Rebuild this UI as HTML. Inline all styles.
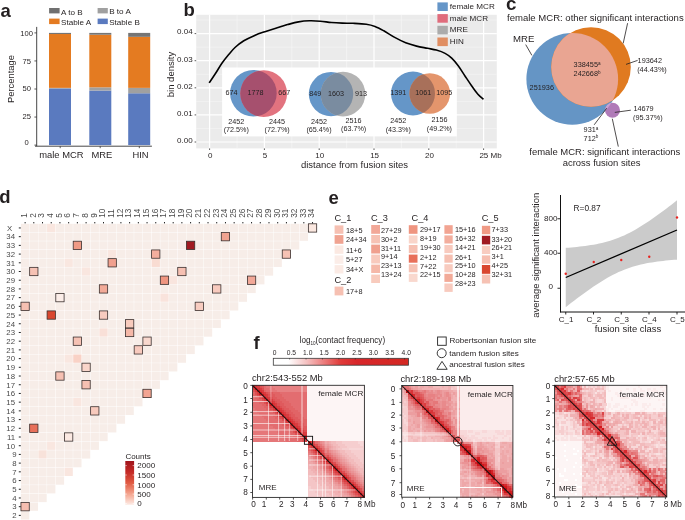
<!DOCTYPE html>
<html><head><meta charset="utf-8"><style>
html,body{margin:0;padding:0;background:#fff;}
svg{display:block;will-change:transform;}
text{font-family:"Liberation Sans", sans-serif;}
</style></head><body>
<svg width="685" height="520" viewBox="0 0 685 520">
<text x="0.50" y="17.00" font-size="18.5" text-anchor="start" font-weight="bold" fill="#231f20" >a</text>
<rect x="49.10" y="8.00" width="10.50" height="5.40" fill="#707070" />
<text x="61.00" y="14.90" font-size="8.1" text-anchor="start" fill="#231f20" >A to B</text>
<rect x="97.60" y="8.00" width="10.20" height="5.40" fill="#a0a0a0" />
<text x="109.20" y="14.10" font-size="8.1" text-anchor="start" fill="#231f20" >B to A</text>
<rect x="49.10" y="18.60" width="10.50" height="5.50" fill="#e47b21" />
<text x="61.00" y="24.60" font-size="8.1" text-anchor="start" fill="#231f20" >Stable A</text>
<rect x="97.60" y="18.60" width="10.20" height="5.50" fill="#5a7abf" />
<text x="109.20" y="24.60" font-size="8.1" text-anchor="start" fill="#231f20" >Stable B</text>
<rect x="49.00" y="88.44" width="22.00" height="56.66" fill="#5a7abf" />
<rect x="49.00" y="87.88" width="22.00" height="0.56" fill="#a0a0a0" />
<rect x="49.00" y="34.02" width="22.00" height="53.86" fill="#e47b21" />
<rect x="49.00" y="32.90" width="22.00" height="1.12" fill="#757575" />
<rect x="89.30" y="90.57" width="22.00" height="54.53" fill="#5a7abf" />
<rect x="89.30" y="87.32" width="22.00" height="3.25" fill="#a0a0a0" />
<rect x="89.30" y="34.70" width="22.00" height="52.62" fill="#e47b21" />
<rect x="89.30" y="32.90" width="22.00" height="1.80" fill="#757575" />
<rect x="128.20" y="93.26" width="22.00" height="51.84" fill="#5a7abf" />
<rect x="128.20" y="87.88" width="22.00" height="5.39" fill="#a0a0a0" />
<rect x="128.20" y="36.83" width="22.00" height="51.05" fill="#e47b21" />
<rect x="128.20" y="32.90" width="22.00" height="3.93" fill="#757575" />
<line x1="36.70" y1="26.90" x2="36.70" y2="146.20" stroke="#333" stroke-width="0.9" />
<line x1="35.00" y1="146.20" x2="151.90" y2="146.20" stroke="#333" stroke-width="0.9" />
<line x1="34.40" y1="32.90" x2="36.70" y2="32.90" stroke="#333" stroke-width="0.8" />
<text x="26.70" y="35.65" font-size="7.6" text-anchor="middle" fill="#231f20" >100</text>
<line x1="34.40" y1="60.95" x2="36.70" y2="60.95" stroke="#333" stroke-width="0.8" />
<text x="26.70" y="63.75" font-size="7.6" text-anchor="middle" fill="#231f20" >75</text>
<line x1="34.40" y1="89.00" x2="36.70" y2="89.00" stroke="#333" stroke-width="0.8" />
<text x="26.70" y="91.35" font-size="7.6" text-anchor="middle" fill="#231f20" >50</text>
<line x1="34.40" y1="117.05" x2="36.70" y2="117.05" stroke="#333" stroke-width="0.8" />
<text x="26.70" y="118.55" font-size="7.6" text-anchor="middle" fill="#231f20" >25</text>
<line x1="34.40" y1="145.10" x2="36.70" y2="145.10" stroke="#333" stroke-width="0.8" />
<text x="26.70" y="145.35" font-size="7.6" text-anchor="middle" fill="#231f20" >0</text>
<line x1="60.20" y1="146.20" x2="60.20" y2="148.20" stroke="#333" stroke-width="0.8" />
<line x1="100.20" y1="146.20" x2="100.20" y2="148.20" stroke="#333" stroke-width="0.8" />
<line x1="139.30" y1="146.20" x2="139.30" y2="148.20" stroke="#333" stroke-width="0.8" />
<text x="61.40" y="157.90" font-size="9.4" text-anchor="middle" fill="#231f20" >male MCR</text>
<text x="101.80" y="157.90" font-size="9.4" text-anchor="middle" fill="#231f20" >MRE</text>
<text x="140.50" y="157.90" font-size="9.4" text-anchor="middle" fill="#231f20" >HIN</text>
<text transform="translate(13.6,79) rotate(-90)" font-size="9.4" text-anchor="middle" fill="#231f20">Percentage</text>
<text x="183.60" y="16.00" font-size="18.5" text-anchor="start" font-weight="bold" fill="#231f20" >b</text>
<rect x="196.20" y="14.80" width="300.60" height="133.60" fill="#ebebeb" />
<line x1="237.00" y1="14.80" x2="237.00" y2="148.40" stroke="#f7f7f7" stroke-width="0.6" />
<line x1="291.80" y1="14.80" x2="291.80" y2="148.40" stroke="#f7f7f7" stroke-width="0.6" />
<line x1="346.60" y1="14.80" x2="346.60" y2="148.40" stroke="#f7f7f7" stroke-width="0.6" />
<line x1="401.40" y1="14.80" x2="401.40" y2="148.40" stroke="#f7f7f7" stroke-width="0.6" />
<line x1="456.20" y1="14.80" x2="456.20" y2="148.40" stroke="#f7f7f7" stroke-width="0.6" />
<line x1="196.20" y1="128.45" x2="496.80" y2="128.45" stroke="#f7f7f7" stroke-width="0.6" />
<line x1="196.20" y1="101.35" x2="496.80" y2="101.35" stroke="#f7f7f7" stroke-width="0.6" />
<line x1="196.20" y1="74.25" x2="496.80" y2="74.25" stroke="#f7f7f7" stroke-width="0.6" />
<line x1="196.20" y1="47.15" x2="496.80" y2="47.15" stroke="#f7f7f7" stroke-width="0.6" />
<line x1="196.20" y1="20.05" x2="496.80" y2="20.05" stroke="#f7f7f7" stroke-width="0.6" />
<line x1="209.60" y1="14.80" x2="209.60" y2="148.40" stroke="#ffffff" stroke-width="1.2" />
<line x1="264.40" y1="14.80" x2="264.40" y2="148.40" stroke="#ffffff" stroke-width="1.2" />
<line x1="319.20" y1="14.80" x2="319.20" y2="148.40" stroke="#ffffff" stroke-width="1.2" />
<line x1="374.00" y1="14.80" x2="374.00" y2="148.40" stroke="#ffffff" stroke-width="1.2" />
<line x1="428.80" y1="14.80" x2="428.80" y2="148.40" stroke="#ffffff" stroke-width="1.2" />
<line x1="483.60" y1="14.80" x2="483.60" y2="148.40" stroke="#ffffff" stroke-width="1.2" />
<line x1="196.20" y1="142.00" x2="496.80" y2="142.00" stroke="#ffffff" stroke-width="1.2" />
<line x1="196.20" y1="114.90" x2="496.80" y2="114.90" stroke="#ffffff" stroke-width="1.2" />
<line x1="196.20" y1="87.80" x2="496.80" y2="87.80" stroke="#ffffff" stroke-width="1.2" />
<line x1="196.20" y1="60.70" x2="496.80" y2="60.70" stroke="#ffffff" stroke-width="1.2" />
<line x1="196.20" y1="33.60" x2="496.80" y2="33.60" stroke="#ffffff" stroke-width="1.2" />
<rect x="222.10" y="67.50" width="234.70" height="68.90" fill="#ffffff" />
<path d="M209.20,82.90 C210.22,81.38 213.18,77.07 215.30,73.80 C217.42,70.53 219.70,66.47 221.90,63.30 C224.10,60.13 226.32,57.43 228.50,54.80 C230.68,52.17 232.45,49.83 235.00,47.50 C237.55,45.17 240.52,42.82 243.80,40.80 C247.08,38.78 251.05,36.97 254.70,35.40 C258.35,33.83 262.05,32.65 265.70,31.40 C269.35,30.15 272.95,29.03 276.60,27.90 C280.25,26.77 283.95,25.60 287.60,24.60 C291.25,23.60 294.85,22.53 298.50,21.90 C302.15,21.27 305.85,20.92 309.50,20.80 C313.15,20.68 316.75,20.92 320.40,21.20 C324.05,21.48 327.75,22.18 331.40,22.50 C335.05,22.82 338.68,22.97 342.30,23.10 C345.92,23.23 349.10,23.12 353.10,23.30 C357.10,23.48 362.65,23.68 366.30,24.20 C369.95,24.72 372.08,25.30 375.00,26.40 C377.92,27.50 380.52,28.97 383.80,30.80 C387.08,32.63 391.05,35.40 394.70,37.40 C398.35,39.40 402.05,41.35 405.70,42.80 C409.35,44.25 412.95,45.18 416.60,46.10 C420.25,47.02 424.32,47.63 427.60,48.30 C430.88,48.97 433.38,49.25 436.30,50.10 C439.22,50.95 442.53,52.05 445.10,53.40 C447.67,54.75 449.52,56.13 451.70,58.20 C453.88,60.27 456.02,62.88 458.20,65.80 C460.38,68.72 462.60,72.42 464.80,75.70 C467.00,78.98 469.22,82.40 471.40,85.50 C473.58,88.60 475.90,92.00 477.90,94.30 C479.90,96.60 482.48,98.47 483.40,99.30" fill="none" stroke="#000" stroke-width="1.6"/>
<line x1="194.60" y1="142.00" x2="196.20" y2="142.00" stroke="#333" stroke-width="0.8" />
<text x="192.60" y="142.80" font-size="8.0" text-anchor="end" fill="#231f20" >0.00</text>
<line x1="194.60" y1="114.90" x2="196.20" y2="114.90" stroke="#333" stroke-width="0.8" />
<text x="192.60" y="115.70" font-size="8.0" text-anchor="end" fill="#231f20" >0.01</text>
<line x1="194.60" y1="87.80" x2="196.20" y2="87.80" stroke="#333" stroke-width="0.8" />
<text x="192.60" y="88.60" font-size="8.0" text-anchor="end" fill="#231f20" >0.02</text>
<line x1="194.60" y1="60.70" x2="196.20" y2="60.70" stroke="#333" stroke-width="0.8" />
<text x="192.60" y="61.50" font-size="8.0" text-anchor="end" fill="#231f20" >0.03</text>
<line x1="194.60" y1="33.60" x2="196.20" y2="33.60" stroke="#333" stroke-width="0.8" />
<text x="192.60" y="34.40" font-size="8.0" text-anchor="end" fill="#231f20" >0.04</text>
<line x1="209.60" y1="148.40" x2="209.60" y2="150.00" stroke="#333" stroke-width="0.8" />
<text x="210.20" y="157.60" font-size="8.0" text-anchor="middle" fill="#231f20" >0</text>
<line x1="264.40" y1="148.40" x2="264.40" y2="150.00" stroke="#333" stroke-width="0.8" />
<text x="265.00" y="157.60" font-size="8.0" text-anchor="middle" fill="#231f20" >5</text>
<line x1="319.20" y1="148.40" x2="319.20" y2="150.00" stroke="#333" stroke-width="0.8" />
<text x="319.80" y="157.60" font-size="8.0" text-anchor="middle" fill="#231f20" >10</text>
<line x1="374.00" y1="148.40" x2="374.00" y2="150.00" stroke="#333" stroke-width="0.8" />
<text x="374.60" y="157.60" font-size="8.0" text-anchor="middle" fill="#231f20" >15</text>
<line x1="428.80" y1="148.40" x2="428.80" y2="150.00" stroke="#333" stroke-width="0.8" />
<text x="429.40" y="157.60" font-size="8.0" text-anchor="middle" fill="#231f20" >20</text>
<line x1="483.60" y1="148.40" x2="483.60" y2="150.00" stroke="#333" stroke-width="0.8" />
<text x="479.40" y="157.60" font-size="8.0" text-anchor="start" fill="#231f20" >25 Mb</text>
<text x="354.50" y="167.80" font-size="9.5" text-anchor="middle" fill="#231f20" >distance from fusion sites</text>
<text transform="translate(174.2,74.5) rotate(-90)" font-size="9.5" text-anchor="middle" fill="#231f20">bin density</text>
<rect x="437.40" y="2.40" width="10.40" height="8.60" fill="#6596c8" />
<text x="449.80" y="8.90" font-size="8.1" text-anchor="start" fill="#231f20" >female MCR</text>
<rect x="437.40" y="14.10" width="10.40" height="8.60" fill="#e06c7c" />
<text x="449.80" y="20.60" font-size="8.1" text-anchor="start" fill="#231f20" >male MCR</text>
<rect x="437.40" y="25.80" width="10.40" height="8.60" fill="#ababab" />
<text x="449.80" y="32.30" font-size="8.1" text-anchor="start" fill="#231f20" >MRE</text>
<rect x="437.40" y="37.50" width="10.40" height="8.60" fill="#e08e62" />
<text x="449.80" y="44.00" font-size="8.1" text-anchor="start" fill="#231f20" >HIN</text>
<defs><clipPath id="vb1"><circle cx="253.4" cy="93.2" r="23.3"/></clipPath></defs>
<circle cx="253.4" cy="93.2" r="23.3" fill="#6596c8"/>
<circle cx="263.7" cy="93.6" r="23.4" fill="#e2737f"/>
<circle cx="263.7" cy="93.6" r="23.4" fill="#a6506e" clip-path="url(#vb1)"/>
<text x="231.50" y="95.00" font-size="7.2" text-anchor="middle" fill="#231f20" >674</text>
<text x="255.50" y="95.00" font-size="7.2" text-anchor="middle" fill="#231f20" >1778</text>
<text x="284.20" y="95.00" font-size="7.2" text-anchor="middle" fill="#231f20" >667</text>
<text x="236.30" y="123.50" font-size="7.2" text-anchor="middle" fill="#231f20" >2452</text>
<text x="236.30" y="132.00" font-size="7.2" text-anchor="middle" fill="#231f20" >(72.5%)</text>
<text x="277.10" y="123.50" font-size="7.2" text-anchor="middle" fill="#231f20" >2445</text>
<text x="277.10" y="132.00" font-size="7.2" text-anchor="middle" fill="#231f20" >(72.7%)</text>
<defs><clipPath id="vb2"><circle cx="331" cy="94.1" r="22.2"/></clipPath></defs>
<circle cx="331" cy="94.1" r="22.2" fill="#6596c8"/>
<circle cx="343" cy="94.1" r="22.3" fill="#b4b4b4"/>
<circle cx="343" cy="94.1" r="22.3" fill="#7a8ca0" clip-path="url(#vb2)"/>
<text x="315.20" y="95.60" font-size="7.2" text-anchor="middle" fill="#231f20" >849</text>
<text x="336.00" y="95.60" font-size="7.2" text-anchor="middle" fill="#231f20" >1603</text>
<text x="360.90" y="95.60" font-size="7.2" text-anchor="middle" fill="#231f20" >913</text>
<text x="319.00" y="123.50" font-size="7.2" text-anchor="middle" fill="#231f20" >2452</text>
<text x="319.00" y="132.00" font-size="7.2" text-anchor="middle" fill="#231f20" >(65.4%)</text>
<text x="353.60" y="123.00" font-size="7.2" text-anchor="middle" fill="#231f20" >2516</text>
<text x="353.60" y="131.30" font-size="7.2" text-anchor="middle" fill="#231f20" >(63.7%)</text>
<defs><clipPath id="vb3"><circle cx="413" cy="93.5" r="22"/></clipPath></defs>
<circle cx="413" cy="93.5" r="22" fill="#6596c8"/>
<circle cx="429.8" cy="93.5" r="20.3" fill="#e4956c"/>
<circle cx="429.8" cy="93.5" r="20.3" fill="#a8705a" clip-path="url(#vb3)"/>
<text x="398.30" y="95.00" font-size="7.2" text-anchor="middle" fill="#231f20" >1391</text>
<text x="423.30" y="95.00" font-size="7.2" text-anchor="middle" fill="#231f20" >1061</text>
<text x="444.30" y="95.00" font-size="7.2" text-anchor="middle" fill="#231f20" >1095</text>
<text x="398.30" y="123.40" font-size="7.2" text-anchor="middle" fill="#231f20" >2452</text>
<text x="398.30" y="131.60" font-size="7.2" text-anchor="middle" fill="#231f20" >(43.3%)</text>
<text x="439.40" y="122.40" font-size="7.2" text-anchor="middle" fill="#231f20" >2156</text>
<text x="439.40" y="130.60" font-size="7.2" text-anchor="middle" fill="#231f20" >(49.2%)</text>
<text x="506.10" y="10.10" font-size="18.8" text-anchor="start" font-weight="bold" fill="#231f20" >c</text>
<text x="507.00" y="21.00" font-size="9.55" text-anchor="start" fill="#231f20" >female MCR: other significant interactions</text>
<defs><clipPath id="cb"><circle cx="572.25" cy="78.95" r="45.85"/></clipPath></defs>
<circle cx="572.25" cy="78.95" r="45.85" fill="#6595c5"/>
<circle cx="591" cy="67" r="39.8" fill="#e07a20"/>
<circle cx="591" cy="67" r="39.8" fill="#e9a592" clip-path="url(#cb)"/>
<circle cx="612.5" cy="110.25" r="7.5" fill="#b07ab8"/>
<circle cx="612.5" cy="110.25" r="7.5" fill="#c9a3d3" clip-path="url(#cb)"/>
<text x="513.00" y="42.40" font-size="9.6" text-anchor="start" fill="#231f20" >MRE</text>
<line x1="525.70" y1="44.60" x2="531.90" y2="55.40" stroke="#231f20" stroke-width="0.8" />
<line x1="627.60" y1="23.20" x2="623.20" y2="43.40" stroke="#231f20" stroke-width="0.8" />
<line x1="637.60" y1="60.40" x2="626.00" y2="64.40" stroke="#231f20" stroke-width="0.8" />
<line x1="630.80" y1="110.20" x2="614.80" y2="112.40" stroke="#231f20" stroke-width="0.8" />
<line x1="594.20" y1="124.80" x2="606.70" y2="108.20" stroke="#231f20" stroke-width="0.8" />
<line x1="612.30" y1="118.75" x2="618.30" y2="146.60" stroke="#231f20" stroke-width="0.8" />
<text x="637.60" y="63.30" font-size="7.3" text-anchor="start" fill="#231f20" >193642</text>
<text x="637.20" y="71.90" font-size="7.3" text-anchor="start" fill="#231f20" >(44.43%)</text>
<text x="573.60" y="67.40" font-size="7.3" text-anchor="start" fill="#231f20" >338455<tspan font-size="4.6" dy="-2.6">a</tspan></text>
<text x="573.60" y="76.20" font-size="7.3" text-anchor="start" fill="#231f20" >242668<tspan font-size="4.6" dy="-2.6">b</tspan></text>
<text x="529.60" y="89.50" font-size="7.3" text-anchor="start" fill="#231f20" >251936</text>
<text x="633.40" y="111.30" font-size="7.3" text-anchor="start" fill="#231f20" >14679</text>
<text x="633.00" y="120.20" font-size="7.3" text-anchor="start" fill="#231f20" >(95.37%)</text>
<text x="583.60" y="132.20" font-size="7.3" text-anchor="start" fill="#231f20" >931<tspan font-size="4.6" dy="-2.6">a</tspan></text>
<text x="583.60" y="140.90" font-size="7.3" text-anchor="start" fill="#231f20" >712<tspan font-size="4.6" dy="-2.6">b</tspan></text>
<text x="604.80" y="154.50" font-size="9.48" text-anchor="middle" fill="#231f20" >female MCR: significant interactions</text>
<text x="601.55" y="165.90" font-size="9.45" text-anchor="middle" fill="#231f20" >across fusion sites</text>
<text x="-0.70" y="202.50" font-size="18.5" text-anchor="start" font-weight="bold" fill="#231f20" >d</text>
<rect x="20.95" y="223.80" width="8.31" height="8.31" fill="#f7ede8" />
<rect x="29.66" y="223.80" width="8.31" height="8.31" fill="#f7ede8" />
<rect x="38.37" y="223.80" width="8.31" height="8.31" fill="#f7ede8" />
<rect x="47.08" y="223.80" width="8.31" height="8.31" fill="#f9e6df" />
<rect x="55.79" y="223.80" width="8.31" height="8.31" fill="#f7ede8" />
<rect x="64.50" y="223.80" width="8.31" height="8.31" fill="#f7ede8" />
<rect x="73.21" y="223.80" width="8.31" height="8.31" fill="#f7ede8" />
<rect x="81.92" y="223.80" width="8.31" height="8.31" fill="#f7ede8" />
<rect x="90.63" y="223.80" width="8.31" height="8.31" fill="#f7ede8" />
<rect x="99.34" y="223.80" width="8.31" height="8.31" fill="#f7ede8" />
<rect x="108.05" y="223.80" width="8.31" height="8.31" fill="#f7ede8" />
<rect x="116.76" y="223.80" width="8.31" height="8.31" fill="#f7ede8" />
<rect x="125.47" y="223.80" width="8.31" height="8.31" fill="#f7ede8" />
<rect x="134.18" y="223.80" width="8.31" height="8.31" fill="#f7ede8" />
<rect x="142.89" y="223.80" width="8.31" height="8.31" fill="#f7ede8" />
<rect x="151.60" y="223.80" width="8.31" height="8.31" fill="#f7ede8" />
<rect x="160.31" y="223.80" width="8.31" height="8.31" fill="#f7ede8" />
<rect x="169.02" y="223.80" width="8.31" height="8.31" fill="#f7ede8" />
<rect x="177.73" y="223.80" width="8.31" height="8.31" fill="#f7ede8" />
<rect x="186.44" y="223.80" width="8.31" height="8.31" fill="#f7ede8" />
<rect x="195.15" y="223.80" width="8.31" height="8.31" fill="#f7ede8" />
<rect x="203.86" y="223.80" width="8.31" height="8.31" fill="#f7ede8" />
<rect x="212.57" y="223.80" width="8.31" height="8.31" fill="#f7ede8" />
<rect x="221.28" y="223.80" width="8.31" height="8.31" fill="#f7ede8" />
<rect x="229.99" y="223.80" width="8.31" height="8.31" fill="#f7ede8" />
<rect x="238.70" y="223.80" width="8.31" height="8.31" fill="#f7ede8" />
<rect x="247.41" y="223.80" width="8.31" height="8.31" fill="#f7ede8" />
<rect x="256.12" y="223.80" width="8.31" height="8.31" fill="#f7ede8" />
<rect x="264.83" y="223.80" width="8.31" height="8.31" fill="#f7ede8" />
<rect x="273.54" y="223.80" width="8.31" height="8.31" fill="#f7ede8" />
<rect x="282.25" y="223.80" width="8.31" height="8.31" fill="#f7ede8" />
<rect x="290.96" y="223.80" width="8.31" height="8.31" fill="#f7ede8" />
<rect x="299.67" y="223.80" width="8.31" height="8.31" fill="#f7ede8" />
<rect x="20.95" y="232.51" width="8.31" height="8.31" fill="#f7ede8" />
<rect x="29.66" y="232.51" width="8.31" height="8.31" fill="#f7ede8" />
<rect x="38.37" y="232.51" width="8.31" height="8.31" fill="#f7ede8" />
<rect x="47.08" y="232.51" width="8.31" height="8.31" fill="#f7ede8" />
<rect x="55.79" y="232.51" width="8.31" height="8.31" fill="#f7ede8" />
<rect x="64.50" y="232.51" width="8.31" height="8.31" fill="#f7ede8" />
<rect x="73.21" y="232.51" width="8.31" height="8.31" fill="#f7ede8" />
<rect x="81.92" y="232.51" width="8.31" height="8.31" fill="#f7ede8" />
<rect x="90.63" y="232.51" width="8.31" height="8.31" fill="#f7ede8" />
<rect x="99.34" y="232.51" width="8.31" height="8.31" fill="#f7ede8" />
<rect x="108.05" y="232.51" width="8.31" height="8.31" fill="#f7ede8" />
<rect x="116.76" y="232.51" width="8.31" height="8.31" fill="#f7ede8" />
<rect x="125.47" y="232.51" width="8.31" height="8.31" fill="#f7ede8" />
<rect x="134.18" y="232.51" width="8.31" height="8.31" fill="#f7ede8" />
<rect x="142.89" y="232.51" width="8.31" height="8.31" fill="#f7ede8" />
<rect x="151.60" y="232.51" width="8.31" height="8.31" fill="#f7ede8" />
<rect x="160.31" y="232.51" width="8.31" height="8.31" fill="#f7ede8" />
<rect x="169.02" y="232.51" width="8.31" height="8.31" fill="#f7ede8" />
<rect x="177.73" y="232.51" width="8.31" height="8.31" fill="#f7ede8" />
<rect x="186.44" y="232.51" width="8.31" height="8.31" fill="#f7ede8" />
<rect x="195.15" y="232.51" width="8.31" height="8.31" fill="#f7ede8" />
<rect x="203.86" y="232.51" width="8.31" height="8.31" fill="#f7ede8" />
<rect x="212.57" y="232.51" width="8.31" height="8.31" fill="#f7ede8" />
<rect x="229.99" y="232.51" width="8.31" height="8.31" fill="#f7ede8" />
<rect x="238.70" y="232.51" width="8.31" height="8.31" fill="#f7ede8" />
<rect x="247.41" y="232.51" width="8.31" height="8.31" fill="#f7ede8" />
<rect x="256.12" y="232.51" width="8.31" height="8.31" fill="#f7ede8" />
<rect x="264.83" y="232.51" width="8.31" height="8.31" fill="#f7ede8" />
<rect x="273.54" y="232.51" width="8.31" height="8.31" fill="#f7ede8" />
<rect x="282.25" y="232.51" width="8.31" height="8.31" fill="#f7ede8" />
<rect x="290.96" y="232.51" width="8.31" height="8.31" fill="#f7ede8" />
<rect x="299.67" y="232.51" width="8.31" height="8.31" fill="#f7ede8" />
<rect x="20.95" y="241.22" width="8.31" height="8.31" fill="#f7ede8" />
<rect x="29.66" y="241.22" width="8.31" height="8.31" fill="#f7ede8" />
<rect x="38.37" y="241.22" width="8.31" height="8.31" fill="#f7ede8" />
<rect x="47.08" y="241.22" width="8.31" height="8.31" fill="#f7ede8" />
<rect x="55.79" y="241.22" width="8.31" height="8.31" fill="#f7ede8" />
<rect x="64.50" y="241.22" width="8.31" height="8.31" fill="#f7ede8" />
<rect x="81.92" y="241.22" width="8.31" height="8.31" fill="#f7ede8" />
<rect x="90.63" y="241.22" width="8.31" height="8.31" fill="#f7ede8" />
<rect x="99.34" y="241.22" width="8.31" height="8.31" fill="#f7ede8" />
<rect x="108.05" y="241.22" width="8.31" height="8.31" fill="#f7ede8" />
<rect x="116.76" y="241.22" width="8.31" height="8.31" fill="#f7ede8" />
<rect x="125.47" y="241.22" width="8.31" height="8.31" fill="#f7ede8" />
<rect x="134.18" y="241.22" width="8.31" height="8.31" fill="#f7ede8" />
<rect x="142.89" y="241.22" width="8.31" height="8.31" fill="#f7ede8" />
<rect x="151.60" y="241.22" width="8.31" height="8.31" fill="#f7ede8" />
<rect x="160.31" y="241.22" width="8.31" height="8.31" fill="#f7ede8" />
<rect x="169.02" y="241.22" width="8.31" height="8.31" fill="#f7ede8" />
<rect x="177.73" y="241.22" width="8.31" height="8.31" fill="#f7ede8" />
<rect x="195.15" y="241.22" width="8.31" height="8.31" fill="#f7ede8" />
<rect x="203.86" y="241.22" width="8.31" height="8.31" fill="#f7ede8" />
<rect x="212.57" y="241.22" width="8.31" height="8.31" fill="#f7ede8" />
<rect x="221.28" y="241.22" width="8.31" height="8.31" fill="#f7ede8" />
<rect x="229.99" y="241.22" width="8.31" height="8.31" fill="#f7ede8" />
<rect x="238.70" y="241.22" width="8.31" height="8.31" fill="#f7ede8" />
<rect x="247.41" y="241.22" width="8.31" height="8.31" fill="#f7ede8" />
<rect x="256.12" y="241.22" width="8.31" height="8.31" fill="#f7ede8" />
<rect x="264.83" y="241.22" width="8.31" height="8.31" fill="#f7ede8" />
<rect x="273.54" y="241.22" width="8.31" height="8.31" fill="#f7ede8" />
<rect x="282.25" y="241.22" width="8.31" height="8.31" fill="#f7ede8" />
<rect x="290.96" y="241.22" width="8.31" height="8.31" fill="#f7ede8" />
<rect x="20.95" y="249.93" width="8.31" height="8.31" fill="#f7ede8" />
<rect x="29.66" y="249.93" width="8.31" height="8.31" fill="#f7ede8" />
<rect x="38.37" y="249.93" width="8.31" height="8.31" fill="#f7ede8" />
<rect x="47.08" y="249.93" width="8.31" height="8.31" fill="#f7ede8" />
<rect x="55.79" y="249.93" width="8.31" height="8.31" fill="#f7ede8" />
<rect x="64.50" y="249.93" width="8.31" height="8.31" fill="#f7ede8" />
<rect x="73.21" y="249.93" width="8.31" height="8.31" fill="#f7ede8" />
<rect x="81.92" y="249.93" width="8.31" height="8.31" fill="#f7ede8" />
<rect x="90.63" y="249.93" width="8.31" height="8.31" fill="#f7ede8" />
<rect x="99.34" y="249.93" width="8.31" height="8.31" fill="#f7ede8" />
<rect x="108.05" y="249.93" width="8.31" height="8.31" fill="#f9e6df" />
<rect x="116.76" y="249.93" width="8.31" height="8.31" fill="#f7ede8" />
<rect x="125.47" y="249.93" width="8.31" height="8.31" fill="#f7ede8" />
<rect x="134.18" y="249.93" width="8.31" height="8.31" fill="#f7ede8" />
<rect x="142.89" y="249.93" width="8.31" height="8.31" fill="#f7ede8" />
<rect x="160.31" y="249.93" width="8.31" height="8.31" fill="#f7ede8" />
<rect x="169.02" y="249.93" width="8.31" height="8.31" fill="#f7ede8" />
<rect x="177.73" y="249.93" width="8.31" height="8.31" fill="#f7ede8" />
<rect x="186.44" y="249.93" width="8.31" height="8.31" fill="#f7ede8" />
<rect x="195.15" y="249.93" width="8.31" height="8.31" fill="#f7ede8" />
<rect x="203.86" y="249.93" width="8.31" height="8.31" fill="#f7ede8" />
<rect x="212.57" y="249.93" width="8.31" height="8.31" fill="#f7ede8" />
<rect x="221.28" y="249.93" width="8.31" height="8.31" fill="#f7ede8" />
<rect x="229.99" y="249.93" width="8.31" height="8.31" fill="#f7ede8" />
<rect x="238.70" y="249.93" width="8.31" height="8.31" fill="#f7ede8" />
<rect x="247.41" y="249.93" width="8.31" height="8.31" fill="#f7ede8" />
<rect x="256.12" y="249.93" width="8.31" height="8.31" fill="#f7ede8" />
<rect x="264.83" y="249.93" width="8.31" height="8.31" fill="#f7ede8" />
<rect x="273.54" y="249.93" width="8.31" height="8.31" fill="#f7ede8" />
<rect x="20.95" y="258.64" width="8.31" height="8.31" fill="#f7ede8" />
<rect x="29.66" y="258.64" width="8.31" height="8.31" fill="#f7ede8" />
<rect x="38.37" y="258.64" width="8.31" height="8.31" fill="#f7ede8" />
<rect x="47.08" y="258.64" width="8.31" height="8.31" fill="#f7ede8" />
<rect x="55.79" y="258.64" width="8.31" height="8.31" fill="#f7ede8" />
<rect x="64.50" y="258.64" width="8.31" height="8.31" fill="#f9e7e0" />
<rect x="73.21" y="258.64" width="8.31" height="8.31" fill="#f7ede8" />
<rect x="81.92" y="258.64" width="8.31" height="8.31" fill="#f7ede8" />
<rect x="90.63" y="258.64" width="8.31" height="8.31" fill="#f7ede8" />
<rect x="99.34" y="258.64" width="8.31" height="8.31" fill="#f7ede8" />
<rect x="116.76" y="258.64" width="8.31" height="8.31" fill="#f7ede8" />
<rect x="125.47" y="258.64" width="8.31" height="8.31" fill="#f7ede8" />
<rect x="134.18" y="258.64" width="8.31" height="8.31" fill="#f7ede8" />
<rect x="142.89" y="258.64" width="8.31" height="8.31" fill="#f7ede8" />
<rect x="151.60" y="258.64" width="8.31" height="8.31" fill="#f9dcd2" />
<rect x="160.31" y="258.64" width="8.31" height="8.31" fill="#f7ede8" />
<rect x="169.02" y="258.64" width="8.31" height="8.31" fill="#f7ede8" />
<rect x="177.73" y="258.64" width="8.31" height="8.31" fill="#f7ede8" />
<rect x="186.44" y="258.64" width="8.31" height="8.31" fill="#f7ede8" />
<rect x="195.15" y="258.64" width="8.31" height="8.31" fill="#f7ede8" />
<rect x="203.86" y="258.64" width="8.31" height="8.31" fill="#f7ede8" />
<rect x="212.57" y="258.64" width="8.31" height="8.31" fill="#f7ede8" />
<rect x="221.28" y="258.64" width="8.31" height="8.31" fill="#f7ede8" />
<rect x="229.99" y="258.64" width="8.31" height="8.31" fill="#f7ede8" />
<rect x="238.70" y="258.64" width="8.31" height="8.31" fill="#f7ede8" />
<rect x="247.41" y="258.64" width="8.31" height="8.31" fill="#f7ede8" />
<rect x="256.12" y="258.64" width="8.31" height="8.31" fill="#f7ede8" />
<rect x="264.83" y="258.64" width="8.31" height="8.31" fill="#f7ede8" />
<rect x="273.54" y="258.64" width="8.31" height="8.31" fill="#f7ede8" />
<rect x="20.95" y="267.35" width="8.31" height="8.31" fill="#f7ede8" />
<rect x="38.37" y="267.35" width="8.31" height="8.31" fill="#f7ede8" />
<rect x="47.08" y="267.35" width="8.31" height="8.31" fill="#f7ede8" />
<rect x="55.79" y="267.35" width="8.31" height="8.31" fill="#f7ede8" />
<rect x="64.50" y="267.35" width="8.31" height="8.31" fill="#f7ede8" />
<rect x="73.21" y="267.35" width="8.31" height="8.31" fill="#f7ede8" />
<rect x="81.92" y="267.35" width="8.31" height="8.31" fill="#f9e6df" />
<rect x="90.63" y="267.35" width="8.31" height="8.31" fill="#f7ede8" />
<rect x="99.34" y="267.35" width="8.31" height="8.31" fill="#f7ede8" />
<rect x="108.05" y="267.35" width="8.31" height="8.31" fill="#f7ede8" />
<rect x="116.76" y="267.35" width="8.31" height="8.31" fill="#f7ede8" />
<rect x="125.47" y="267.35" width="8.31" height="8.31" fill="#f7ede8" />
<rect x="134.18" y="267.35" width="8.31" height="8.31" fill="#f7ede8" />
<rect x="142.89" y="267.35" width="8.31" height="8.31" fill="#f7ede8" />
<rect x="151.60" y="267.35" width="8.31" height="8.31" fill="#f7ede8" />
<rect x="160.31" y="267.35" width="8.31" height="8.31" fill="#f7ede8" />
<rect x="169.02" y="267.35" width="8.31" height="8.31" fill="#f7ede8" />
<rect x="186.44" y="267.35" width="8.31" height="8.31" fill="#f7ede8" />
<rect x="195.15" y="267.35" width="8.31" height="8.31" fill="#f7ede8" />
<rect x="203.86" y="267.35" width="8.31" height="8.31" fill="#f7ede8" />
<rect x="212.57" y="267.35" width="8.31" height="8.31" fill="#f7ede8" />
<rect x="221.28" y="267.35" width="8.31" height="8.31" fill="#f7ede8" />
<rect x="229.99" y="267.35" width="8.31" height="8.31" fill="#f7ede8" />
<rect x="238.70" y="267.35" width="8.31" height="8.31" fill="#f7ede8" />
<rect x="247.41" y="267.35" width="8.31" height="8.31" fill="#f7ede8" />
<rect x="256.12" y="267.35" width="8.31" height="8.31" fill="#f7ede8" />
<rect x="264.83" y="267.35" width="8.31" height="8.31" fill="#f7ede8" />
<rect x="20.95" y="276.06" width="8.31" height="8.31" fill="#f7ede8" />
<rect x="29.66" y="276.06" width="8.31" height="8.31" fill="#f7ede8" />
<rect x="38.37" y="276.06" width="8.31" height="8.31" fill="#f7ede8" />
<rect x="47.08" y="276.06" width="8.31" height="8.31" fill="#f7ede8" />
<rect x="55.79" y="276.06" width="8.31" height="8.31" fill="#f7ede8" />
<rect x="64.50" y="276.06" width="8.31" height="8.31" fill="#f7ede8" />
<rect x="73.21" y="276.06" width="8.31" height="8.31" fill="#f7ede8" />
<rect x="81.92" y="276.06" width="8.31" height="8.31" fill="#f7ede8" />
<rect x="90.63" y="276.06" width="8.31" height="8.31" fill="#f7ede8" />
<rect x="99.34" y="276.06" width="8.31" height="8.31" fill="#f7ede8" />
<rect x="108.05" y="276.06" width="8.31" height="8.31" fill="#f7ede8" />
<rect x="116.76" y="276.06" width="8.31" height="8.31" fill="#f7ede8" />
<rect x="125.47" y="276.06" width="8.31" height="8.31" fill="#f7ede8" />
<rect x="134.18" y="276.06" width="8.31" height="8.31" fill="#f7ede8" />
<rect x="142.89" y="276.06" width="8.31" height="8.31" fill="#f7ede8" />
<rect x="151.60" y="276.06" width="8.31" height="8.31" fill="#f7ede8" />
<rect x="169.02" y="276.06" width="8.31" height="8.31" fill="#f9e5de" />
<rect x="177.73" y="276.06" width="8.31" height="8.31" fill="#f7ede8" />
<rect x="186.44" y="276.06" width="8.31" height="8.31" fill="#f7ede8" />
<rect x="195.15" y="276.06" width="8.31" height="8.31" fill="#f7ede8" />
<rect x="203.86" y="276.06" width="8.31" height="8.31" fill="#f7ede8" />
<rect x="212.57" y="276.06" width="8.31" height="8.31" fill="#f7ede8" />
<rect x="221.28" y="276.06" width="8.31" height="8.31" fill="#f7ede8" />
<rect x="229.99" y="276.06" width="8.31" height="8.31" fill="#f7ede8" />
<rect x="238.70" y="276.06" width="8.31" height="8.31" fill="#f7ede8" />
<rect x="256.12" y="276.06" width="8.31" height="8.31" fill="#f7ede8" />
<rect x="20.95" y="284.77" width="8.31" height="8.31" fill="#f7ede8" />
<rect x="29.66" y="284.77" width="8.31" height="8.31" fill="#f7ede8" />
<rect x="38.37" y="284.77" width="8.31" height="8.31" fill="#f7ede8" />
<rect x="47.08" y="284.77" width="8.31" height="8.31" fill="#f7ede8" />
<rect x="55.79" y="284.77" width="8.31" height="8.31" fill="#f7ede8" />
<rect x="64.50" y="284.77" width="8.31" height="8.31" fill="#f7ede8" />
<rect x="73.21" y="284.77" width="8.31" height="8.31" fill="#f7ede8" />
<rect x="81.92" y="284.77" width="8.31" height="8.31" fill="#f7ede8" />
<rect x="90.63" y="284.77" width="8.31" height="8.31" fill="#f7ede8" />
<rect x="108.05" y="284.77" width="8.31" height="8.31" fill="#f7ede8" />
<rect x="116.76" y="284.77" width="8.31" height="8.31" fill="#f7ede8" />
<rect x="125.47" y="284.77" width="8.31" height="8.31" fill="#f7ede8" />
<rect x="134.18" y="284.77" width="8.31" height="8.31" fill="#f7ede8" />
<rect x="142.89" y="284.77" width="8.31" height="8.31" fill="#f7ede8" />
<rect x="151.60" y="284.77" width="8.31" height="8.31" fill="#f7ede8" />
<rect x="160.31" y="284.77" width="8.31" height="8.31" fill="#f7ede8" />
<rect x="169.02" y="284.77" width="8.31" height="8.31" fill="#f7ede8" />
<rect x="177.73" y="284.77" width="8.31" height="8.31" fill="#f7ede8" />
<rect x="186.44" y="284.77" width="8.31" height="8.31" fill="#f7ede8" />
<rect x="195.15" y="284.77" width="8.31" height="8.31" fill="#f7ede8" />
<rect x="203.86" y="284.77" width="8.31" height="8.31" fill="#f7ede8" />
<rect x="221.28" y="284.77" width="8.31" height="8.31" fill="#f7ede8" />
<rect x="229.99" y="284.77" width="8.31" height="8.31" fill="#f7ede8" />
<rect x="238.70" y="284.77" width="8.31" height="8.31" fill="#f7ede8" />
<rect x="247.41" y="284.77" width="8.31" height="8.31" fill="#f7ede8" />
<rect x="20.95" y="293.48" width="8.31" height="8.31" fill="#f7ede8" />
<rect x="29.66" y="293.48" width="8.31" height="8.31" fill="#f7ede8" />
<rect x="38.37" y="293.48" width="8.31" height="8.31" fill="#f7ede8" />
<rect x="47.08" y="293.48" width="8.31" height="8.31" fill="#f7ede8" />
<rect x="64.50" y="293.48" width="8.31" height="8.31" fill="#f7ede8" />
<rect x="73.21" y="293.48" width="8.31" height="8.31" fill="#f7ede8" />
<rect x="81.92" y="293.48" width="8.31" height="8.31" fill="#f7ede8" />
<rect x="90.63" y="293.48" width="8.31" height="8.31" fill="#f7ede8" />
<rect x="99.34" y="293.48" width="8.31" height="8.31" fill="#f7ede8" />
<rect x="108.05" y="293.48" width="8.31" height="8.31" fill="#f7ede8" />
<rect x="116.76" y="293.48" width="8.31" height="8.31" fill="#f7ede8" />
<rect x="125.47" y="293.48" width="8.31" height="8.31" fill="#f7ede8" />
<rect x="134.18" y="293.48" width="8.31" height="8.31" fill="#f7ede8" />
<rect x="142.89" y="293.48" width="8.31" height="8.31" fill="#f7ede8" />
<rect x="151.60" y="293.48" width="8.31" height="8.31" fill="#f7ede8" />
<rect x="160.31" y="293.48" width="8.31" height="8.31" fill="#f9e3dc" />
<rect x="169.02" y="293.48" width="8.31" height="8.31" fill="#f7ede8" />
<rect x="177.73" y="293.48" width="8.31" height="8.31" fill="#f7ede8" />
<rect x="186.44" y="293.48" width="8.31" height="8.31" fill="#f7ede8" />
<rect x="195.15" y="293.48" width="8.31" height="8.31" fill="#f7ede8" />
<rect x="203.86" y="293.48" width="8.31" height="8.31" fill="#f7ede8" />
<rect x="212.57" y="293.48" width="8.31" height="8.31" fill="#f7ede8" />
<rect x="221.28" y="293.48" width="8.31" height="8.31" fill="#f7ede8" />
<rect x="229.99" y="293.48" width="8.31" height="8.31" fill="#f7ede8" />
<rect x="238.70" y="293.48" width="8.31" height="8.31" fill="#f7ede8" />
<rect x="29.66" y="302.19" width="8.31" height="8.31" fill="#f7ede8" />
<rect x="38.37" y="302.19" width="8.31" height="8.31" fill="#f7ede8" />
<rect x="47.08" y="302.19" width="8.31" height="8.31" fill="#f7ede8" />
<rect x="55.79" y="302.19" width="8.31" height="8.31" fill="#f7ede8" />
<rect x="64.50" y="302.19" width="8.31" height="8.31" fill="#f7ede8" />
<rect x="73.21" y="302.19" width="8.31" height="8.31" fill="#f7ede8" />
<rect x="81.92" y="302.19" width="8.31" height="8.31" fill="#f7ede8" />
<rect x="90.63" y="302.19" width="8.31" height="8.31" fill="#f7ede8" />
<rect x="99.34" y="302.19" width="8.31" height="8.31" fill="#f7ede8" />
<rect x="108.05" y="302.19" width="8.31" height="8.31" fill="#f7ede8" />
<rect x="116.76" y="302.19" width="8.31" height="8.31" fill="#f7ede8" />
<rect x="125.47" y="302.19" width="8.31" height="8.31" fill="#f7ede8" />
<rect x="134.18" y="302.19" width="8.31" height="8.31" fill="#f7ede8" />
<rect x="142.89" y="302.19" width="8.31" height="8.31" fill="#f7ede8" />
<rect x="151.60" y="302.19" width="8.31" height="8.31" fill="#f7ede8" />
<rect x="160.31" y="302.19" width="8.31" height="8.31" fill="#f7ede8" />
<rect x="169.02" y="302.19" width="8.31" height="8.31" fill="#f7ede8" />
<rect x="177.73" y="302.19" width="8.31" height="8.31" fill="#f7ede8" />
<rect x="186.44" y="302.19" width="8.31" height="8.31" fill="#f7ede8" />
<rect x="203.86" y="302.19" width="8.31" height="8.31" fill="#f7ede8" />
<rect x="212.57" y="302.19" width="8.31" height="8.31" fill="#f7ede8" />
<rect x="221.28" y="302.19" width="8.31" height="8.31" fill="#f7ede8" />
<rect x="229.99" y="302.19" width="8.31" height="8.31" fill="#f7ede8" />
<rect x="20.95" y="310.90" width="8.31" height="8.31" fill="#f7ede8" />
<rect x="29.66" y="310.90" width="8.31" height="8.31" fill="#f7ede8" />
<rect x="38.37" y="310.90" width="8.31" height="8.31" fill="#f7ede8" />
<rect x="55.79" y="310.90" width="8.31" height="8.31" fill="#f7ede8" />
<rect x="64.50" y="310.90" width="8.31" height="8.31" fill="#f7ede8" />
<rect x="73.21" y="310.90" width="8.31" height="8.31" fill="#f7ede8" />
<rect x="81.92" y="310.90" width="8.31" height="8.31" fill="#f7ede8" />
<rect x="90.63" y="310.90" width="8.31" height="8.31" fill="#f7ede8" />
<rect x="108.05" y="310.90" width="8.31" height="8.31" fill="#f7ede8" />
<rect x="116.76" y="310.90" width="8.31" height="8.31" fill="#f7ede8" />
<rect x="125.47" y="310.90" width="8.31" height="8.31" fill="#f7ede8" />
<rect x="134.18" y="310.90" width="8.31" height="8.31" fill="#f7ede8" />
<rect x="142.89" y="310.90" width="8.31" height="8.31" fill="#f7ede8" />
<rect x="151.60" y="310.90" width="8.31" height="8.31" fill="#f7ede8" />
<rect x="160.31" y="310.90" width="8.31" height="8.31" fill="#f7ede8" />
<rect x="169.02" y="310.90" width="8.31" height="8.31" fill="#f7ede8" />
<rect x="177.73" y="310.90" width="8.31" height="8.31" fill="#f7ede8" />
<rect x="186.44" y="310.90" width="8.31" height="8.31" fill="#f7ede8" />
<rect x="195.15" y="310.90" width="8.31" height="8.31" fill="#f7ede8" />
<rect x="203.86" y="310.90" width="8.31" height="8.31" fill="#f7ede8" />
<rect x="212.57" y="310.90" width="8.31" height="8.31" fill="#f7ede8" />
<rect x="221.28" y="310.90" width="8.31" height="8.31" fill="#f7ede8" />
<rect x="20.95" y="319.61" width="8.31" height="8.31" fill="#f7ede8" />
<rect x="29.66" y="319.61" width="8.31" height="8.31" fill="#f7ede8" />
<rect x="38.37" y="319.61" width="8.31" height="8.31" fill="#f7ede8" />
<rect x="47.08" y="319.61" width="8.31" height="8.31" fill="#f7ede8" />
<rect x="55.79" y="319.61" width="8.31" height="8.31" fill="#f7ede8" />
<rect x="64.50" y="319.61" width="8.31" height="8.31" fill="#f7ede8" />
<rect x="73.21" y="319.61" width="8.31" height="8.31" fill="#f7ede8" />
<rect x="81.92" y="319.61" width="8.31" height="8.31" fill="#f7ede8" />
<rect x="90.63" y="319.61" width="8.31" height="8.31" fill="#f7ede8" />
<rect x="99.34" y="319.61" width="8.31" height="8.31" fill="#f7ede8" />
<rect x="108.05" y="319.61" width="8.31" height="8.31" fill="#f7ede8" />
<rect x="116.76" y="319.61" width="8.31" height="8.31" fill="#f7ede8" />
<rect x="134.18" y="319.61" width="8.31" height="8.31" fill="#f7ede8" />
<rect x="142.89" y="319.61" width="8.31" height="8.31" fill="#f7ede8" />
<rect x="151.60" y="319.61" width="8.31" height="8.31" fill="#f7ede8" />
<rect x="160.31" y="319.61" width="8.31" height="8.31" fill="#f7ede8" />
<rect x="169.02" y="319.61" width="8.31" height="8.31" fill="#f7ede8" />
<rect x="177.73" y="319.61" width="8.31" height="8.31" fill="#f7ede8" />
<rect x="186.44" y="319.61" width="8.31" height="8.31" fill="#f7ede8" />
<rect x="195.15" y="319.61" width="8.31" height="8.31" fill="#f7ede8" />
<rect x="203.86" y="319.61" width="8.31" height="8.31" fill="#f7ede8" />
<rect x="212.57" y="319.61" width="8.31" height="8.31" fill="#f7ede8" />
<rect x="20.95" y="328.32" width="8.31" height="8.31" fill="#f7ede8" />
<rect x="29.66" y="328.32" width="8.31" height="8.31" fill="#f7ede8" />
<rect x="38.37" y="328.32" width="8.31" height="8.31" fill="#f7ede8" />
<rect x="47.08" y="328.32" width="8.31" height="8.31" fill="#f7ede8" />
<rect x="55.79" y="328.32" width="8.31" height="8.31" fill="#f7ede8" />
<rect x="64.50" y="328.32" width="8.31" height="8.31" fill="#f7ede8" />
<rect x="73.21" y="328.32" width="8.31" height="8.31" fill="#f7ede8" />
<rect x="81.92" y="328.32" width="8.31" height="8.31" fill="#f7ede8" />
<rect x="90.63" y="328.32" width="8.31" height="8.31" fill="#f7ede8" />
<rect x="99.34" y="328.32" width="8.31" height="8.31" fill="#f9e0d8" />
<rect x="108.05" y="328.32" width="8.31" height="8.31" fill="#f7ede8" />
<rect x="116.76" y="328.32" width="8.31" height="8.31" fill="#f7ede8" />
<rect x="134.18" y="328.32" width="8.31" height="8.31" fill="#f7ede8" />
<rect x="142.89" y="328.32" width="8.31" height="8.31" fill="#f7ede8" />
<rect x="151.60" y="328.32" width="8.31" height="8.31" fill="#f7ede8" />
<rect x="160.31" y="328.32" width="8.31" height="8.31" fill="#f7ede8" />
<rect x="169.02" y="328.32" width="8.31" height="8.31" fill="#f7ede8" />
<rect x="177.73" y="328.32" width="8.31" height="8.31" fill="#f7ede8" />
<rect x="186.44" y="328.32" width="8.31" height="8.31" fill="#f7ede8" />
<rect x="195.15" y="328.32" width="8.31" height="8.31" fill="#f7ede8" />
<rect x="203.86" y="328.32" width="8.31" height="8.31" fill="#f7ede8" />
<rect x="20.95" y="337.03" width="8.31" height="8.31" fill="#f7ede8" />
<rect x="29.66" y="337.03" width="8.31" height="8.31" fill="#f7ede8" />
<rect x="38.37" y="337.03" width="8.31" height="8.31" fill="#f7ede8" />
<rect x="47.08" y="337.03" width="8.31" height="8.31" fill="#f7ede8" />
<rect x="55.79" y="337.03" width="8.31" height="8.31" fill="#f7ede8" />
<rect x="64.50" y="337.03" width="8.31" height="8.31" fill="#f7ede8" />
<rect x="81.92" y="337.03" width="8.31" height="8.31" fill="#f7ede8" />
<rect x="90.63" y="337.03" width="8.31" height="8.31" fill="#f7ede8" />
<rect x="99.34" y="337.03" width="8.31" height="8.31" fill="#f7ede8" />
<rect x="108.05" y="337.03" width="8.31" height="8.31" fill="#f7ede8" />
<rect x="116.76" y="337.03" width="8.31" height="8.31" fill="#f7ede8" />
<rect x="125.47" y="337.03" width="8.31" height="8.31" fill="#f7ede8" />
<rect x="134.18" y="337.03" width="8.31" height="8.31" fill="#f7ede8" />
<rect x="151.60" y="337.03" width="8.31" height="8.31" fill="#f7ede8" />
<rect x="160.31" y="337.03" width="8.31" height="8.31" fill="#f7ede8" />
<rect x="169.02" y="337.03" width="8.31" height="8.31" fill="#f7ede8" />
<rect x="177.73" y="337.03" width="8.31" height="8.31" fill="#f7ede8" />
<rect x="186.44" y="337.03" width="8.31" height="8.31" fill="#f7ede8" />
<rect x="195.15" y="337.03" width="8.31" height="8.31" fill="#f7ede8" />
<rect x="20.95" y="345.74" width="8.31" height="8.31" fill="#f7ede8" />
<rect x="29.66" y="345.74" width="8.31" height="8.31" fill="#f7ede8" />
<rect x="38.37" y="345.74" width="8.31" height="8.31" fill="#f7ede8" />
<rect x="47.08" y="345.74" width="8.31" height="8.31" fill="#f7ede8" />
<rect x="55.79" y="345.74" width="8.31" height="8.31" fill="#f7ede8" />
<rect x="64.50" y="345.74" width="8.31" height="8.31" fill="#f7ede8" />
<rect x="73.21" y="345.74" width="8.31" height="8.31" fill="#f7ede8" />
<rect x="81.92" y="345.74" width="8.31" height="8.31" fill="#f7ede8" />
<rect x="90.63" y="345.74" width="8.31" height="8.31" fill="#f7ede8" />
<rect x="99.34" y="345.74" width="8.31" height="8.31" fill="#f7ede8" />
<rect x="108.05" y="345.74" width="8.31" height="8.31" fill="#f7ede8" />
<rect x="116.76" y="345.74" width="8.31" height="8.31" fill="#f7ede8" />
<rect x="125.47" y="345.74" width="8.31" height="8.31" fill="#f7ede8" />
<rect x="142.89" y="345.74" width="8.31" height="8.31" fill="#f7ede8" />
<rect x="151.60" y="345.74" width="8.31" height="8.31" fill="#f7ede8" />
<rect x="160.31" y="345.74" width="8.31" height="8.31" fill="#f7ede8" />
<rect x="169.02" y="345.74" width="8.31" height="8.31" fill="#f7ede8" />
<rect x="177.73" y="345.74" width="8.31" height="8.31" fill="#f7ede8" />
<rect x="186.44" y="345.74" width="8.31" height="8.31" fill="#f7ede8" />
<rect x="20.95" y="354.45" width="8.31" height="8.31" fill="#f7ede8" />
<rect x="29.66" y="354.45" width="8.31" height="8.31" fill="#f7ede8" />
<rect x="38.37" y="354.45" width="8.31" height="8.31" fill="#f7ede8" />
<rect x="47.08" y="354.45" width="8.31" height="8.31" fill="#f7ede8" />
<rect x="55.79" y="354.45" width="8.31" height="8.31" fill="#f7ede8" />
<rect x="64.50" y="354.45" width="8.31" height="8.31" fill="#f9e7e0" />
<rect x="73.21" y="354.45" width="8.31" height="8.31" fill="#f9d2c6" />
<rect x="81.92" y="354.45" width="8.31" height="8.31" fill="#f7ede8" />
<rect x="90.63" y="354.45" width="8.31" height="8.31" fill="#f7ede8" />
<rect x="99.34" y="354.45" width="8.31" height="8.31" fill="#f7ede8" />
<rect x="108.05" y="354.45" width="8.31" height="8.31" fill="#f7ede8" />
<rect x="116.76" y="354.45" width="8.31" height="8.31" fill="#f7ede8" />
<rect x="125.47" y="354.45" width="8.31" height="8.31" fill="#f7ede8" />
<rect x="134.18" y="354.45" width="8.31" height="8.31" fill="#f7ede8" />
<rect x="142.89" y="354.45" width="8.31" height="8.31" fill="#f7ede8" />
<rect x="151.60" y="354.45" width="8.31" height="8.31" fill="#f7ede8" />
<rect x="160.31" y="354.45" width="8.31" height="8.31" fill="#f7ede8" />
<rect x="169.02" y="354.45" width="8.31" height="8.31" fill="#f7ede8" />
<rect x="177.73" y="354.45" width="8.31" height="8.31" fill="#f7ede8" />
<rect x="20.95" y="363.16" width="8.31" height="8.31" fill="#f7ede8" />
<rect x="29.66" y="363.16" width="8.31" height="8.31" fill="#f7ede8" />
<rect x="38.37" y="363.16" width="8.31" height="8.31" fill="#f7ede8" />
<rect x="47.08" y="363.16" width="8.31" height="8.31" fill="#f7ede8" />
<rect x="55.79" y="363.16" width="8.31" height="8.31" fill="#f7ede8" />
<rect x="64.50" y="363.16" width="8.31" height="8.31" fill="#f7ede8" />
<rect x="73.21" y="363.16" width="8.31" height="8.31" fill="#f7ede8" />
<rect x="90.63" y="363.16" width="8.31" height="8.31" fill="#f7ede8" />
<rect x="99.34" y="363.16" width="8.31" height="8.31" fill="#f7ede8" />
<rect x="108.05" y="363.16" width="8.31" height="8.31" fill="#f7ede8" />
<rect x="116.76" y="363.16" width="8.31" height="8.31" fill="#f7ede8" />
<rect x="125.47" y="363.16" width="8.31" height="8.31" fill="#f7ede8" />
<rect x="134.18" y="363.16" width="8.31" height="8.31" fill="#f7ede8" />
<rect x="142.89" y="363.16" width="8.31" height="8.31" fill="#f7ede8" />
<rect x="151.60" y="363.16" width="8.31" height="8.31" fill="#f7ede8" />
<rect x="160.31" y="363.16" width="8.31" height="8.31" fill="#f7ede8" />
<rect x="169.02" y="363.16" width="8.31" height="8.31" fill="#f7ede8" />
<rect x="20.95" y="371.87" width="8.31" height="8.31" fill="#f7ede8" />
<rect x="29.66" y="371.87" width="8.31" height="8.31" fill="#f7ede8" />
<rect x="38.37" y="371.87" width="8.31" height="8.31" fill="#f7ede8" />
<rect x="47.08" y="371.87" width="8.31" height="8.31" fill="#f7ede8" />
<rect x="64.50" y="371.87" width="8.31" height="8.31" fill="#f7ede8" />
<rect x="73.21" y="371.87" width="8.31" height="8.31" fill="#f7ede8" />
<rect x="81.92" y="371.87" width="8.31" height="8.31" fill="#f7ede8" />
<rect x="90.63" y="371.87" width="8.31" height="8.31" fill="#f7ede8" />
<rect x="99.34" y="371.87" width="8.31" height="8.31" fill="#f7ede8" />
<rect x="108.05" y="371.87" width="8.31" height="8.31" fill="#f7ede8" />
<rect x="116.76" y="371.87" width="8.31" height="8.31" fill="#f7ede8" />
<rect x="125.47" y="371.87" width="8.31" height="8.31" fill="#f7ede8" />
<rect x="134.18" y="371.87" width="8.31" height="8.31" fill="#f7ede8" />
<rect x="142.89" y="371.87" width="8.31" height="8.31" fill="#f7ede8" />
<rect x="151.60" y="371.87" width="8.31" height="8.31" fill="#f7ede8" />
<rect x="160.31" y="371.87" width="8.31" height="8.31" fill="#f7ede8" />
<rect x="20.95" y="380.58" width="8.31" height="8.31" fill="#f7ede8" />
<rect x="29.66" y="380.58" width="8.31" height="8.31" fill="#f7ede8" />
<rect x="38.37" y="380.58" width="8.31" height="8.31" fill="#f7ede8" />
<rect x="47.08" y="380.58" width="8.31" height="8.31" fill="#f7ede8" />
<rect x="55.79" y="380.58" width="8.31" height="8.31" fill="#f7ede8" />
<rect x="64.50" y="380.58" width="8.31" height="8.31" fill="#f7ede8" />
<rect x="73.21" y="380.58" width="8.31" height="8.31" fill="#f7ede8" />
<rect x="90.63" y="380.58" width="8.31" height="8.31" fill="#f7ede8" />
<rect x="99.34" y="380.58" width="8.31" height="8.31" fill="#f7ede8" />
<rect x="108.05" y="380.58" width="8.31" height="8.31" fill="#f7ede8" />
<rect x="116.76" y="380.58" width="8.31" height="8.31" fill="#f7ede8" />
<rect x="125.47" y="380.58" width="8.31" height="8.31" fill="#f7ede8" />
<rect x="134.18" y="380.58" width="8.31" height="8.31" fill="#f7ede8" />
<rect x="142.89" y="380.58" width="8.31" height="8.31" fill="#f7ede8" />
<rect x="151.60" y="380.58" width="8.31" height="8.31" fill="#f7ede8" />
<rect x="20.95" y="389.29" width="8.31" height="8.31" fill="#f7ede8" />
<rect x="29.66" y="389.29" width="8.31" height="8.31" fill="#f7ede8" />
<rect x="38.37" y="389.29" width="8.31" height="8.31" fill="#f7ede8" />
<rect x="47.08" y="389.29" width="8.31" height="8.31" fill="#f7ede8" />
<rect x="55.79" y="389.29" width="8.31" height="8.31" fill="#f7ede8" />
<rect x="64.50" y="389.29" width="8.31" height="8.31" fill="#f7ede8" />
<rect x="73.21" y="389.29" width="8.31" height="8.31" fill="#f7ede8" />
<rect x="81.92" y="389.29" width="8.31" height="8.31" fill="#f7ede8" />
<rect x="90.63" y="389.29" width="8.31" height="8.31" fill="#f7ede8" />
<rect x="99.34" y="389.29" width="8.31" height="8.31" fill="#f7ede8" />
<rect x="108.05" y="389.29" width="8.31" height="8.31" fill="#f7ede8" />
<rect x="116.76" y="389.29" width="8.31" height="8.31" fill="#f7ede8" />
<rect x="125.47" y="389.29" width="8.31" height="8.31" fill="#f7ede8" />
<rect x="134.18" y="389.29" width="8.31" height="8.31" fill="#f7ede8" />
<rect x="20.95" y="398.00" width="8.31" height="8.31" fill="#f7ede8" />
<rect x="29.66" y="398.00" width="8.31" height="8.31" fill="#f7ede8" />
<rect x="38.37" y="398.00" width="8.31" height="8.31" fill="#f7ede8" />
<rect x="47.08" y="398.00" width="8.31" height="8.31" fill="#f7ede8" />
<rect x="55.79" y="398.00" width="8.31" height="8.31" fill="#f7ede8" />
<rect x="64.50" y="398.00" width="8.31" height="8.31" fill="#f7ede8" />
<rect x="73.21" y="398.00" width="8.31" height="8.31" fill="#f9e6df" />
<rect x="81.92" y="398.00" width="8.31" height="8.31" fill="#f7ede8" />
<rect x="90.63" y="398.00" width="8.31" height="8.31" fill="#f7ede8" />
<rect x="99.34" y="398.00" width="8.31" height="8.31" fill="#f7ede8" />
<rect x="108.05" y="398.00" width="8.31" height="8.31" fill="#f7ede8" />
<rect x="116.76" y="398.00" width="8.31" height="8.31" fill="#f7ede8" />
<rect x="125.47" y="398.00" width="8.31" height="8.31" fill="#f7ede8" />
<rect x="134.18" y="398.00" width="8.31" height="8.31" fill="#f7ede8" />
<rect x="20.95" y="406.71" width="8.31" height="8.31" fill="#f7ede8" />
<rect x="29.66" y="406.71" width="8.31" height="8.31" fill="#f7ede8" />
<rect x="38.37" y="406.71" width="8.31" height="8.31" fill="#f7ede8" />
<rect x="47.08" y="406.71" width="8.31" height="8.31" fill="#f7ede8" />
<rect x="55.79" y="406.71" width="8.31" height="8.31" fill="#f7ede8" />
<rect x="64.50" y="406.71" width="8.31" height="8.31" fill="#f7ede8" />
<rect x="73.21" y="406.71" width="8.31" height="8.31" fill="#f7ede8" />
<rect x="81.92" y="406.71" width="8.31" height="8.31" fill="#f7ede8" />
<rect x="99.34" y="406.71" width="8.31" height="8.31" fill="#f7ede8" />
<rect x="108.05" y="406.71" width="8.31" height="8.31" fill="#f7ede8" />
<rect x="116.76" y="406.71" width="8.31" height="8.31" fill="#f7ede8" />
<rect x="125.47" y="406.71" width="8.31" height="8.31" fill="#f7ede8" />
<rect x="20.95" y="415.42" width="8.31" height="8.31" fill="#f7ede8" />
<rect x="29.66" y="415.42" width="8.31" height="8.31" fill="#f7ede8" />
<rect x="38.37" y="415.42" width="8.31" height="8.31" fill="#f7ede8" />
<rect x="47.08" y="415.42" width="8.31" height="8.31" fill="#f7ede8" />
<rect x="55.79" y="415.42" width="8.31" height="8.31" fill="#f7ede8" />
<rect x="64.50" y="415.42" width="8.31" height="8.31" fill="#f7ede8" />
<rect x="73.21" y="415.42" width="8.31" height="8.31" fill="#f7ede8" />
<rect x="81.92" y="415.42" width="8.31" height="8.31" fill="#f7ede8" />
<rect x="90.63" y="415.42" width="8.31" height="8.31" fill="#f7ede8" />
<rect x="99.34" y="415.42" width="8.31" height="8.31" fill="#f7ede8" />
<rect x="108.05" y="415.42" width="8.31" height="8.31" fill="#f7ede8" />
<rect x="116.76" y="415.42" width="8.31" height="8.31" fill="#f7ede8" />
<rect x="20.95" y="424.13" width="8.31" height="8.31" fill="#f7ede8" />
<rect x="38.37" y="424.13" width="8.31" height="8.31" fill="#f7ede8" />
<rect x="47.08" y="424.13" width="8.31" height="8.31" fill="#f7ede8" />
<rect x="55.79" y="424.13" width="8.31" height="8.31" fill="#f7ede8" />
<rect x="64.50" y="424.13" width="8.31" height="8.31" fill="#f7ede8" />
<rect x="73.21" y="424.13" width="8.31" height="8.31" fill="#f7ede8" />
<rect x="81.92" y="424.13" width="8.31" height="8.31" fill="#f7ede8" />
<rect x="90.63" y="424.13" width="8.31" height="8.31" fill="#f7ede8" />
<rect x="99.34" y="424.13" width="8.31" height="8.31" fill="#f7ede8" />
<rect x="108.05" y="424.13" width="8.31" height="8.31" fill="#f7ede8" />
<rect x="20.95" y="432.84" width="8.31" height="8.31" fill="#f7ede8" />
<rect x="29.66" y="432.84" width="8.31" height="8.31" fill="#f7ede8" />
<rect x="38.37" y="432.84" width="8.31" height="8.31" fill="#f7ede8" />
<rect x="47.08" y="432.84" width="8.31" height="8.31" fill="#f7ede8" />
<rect x="55.79" y="432.84" width="8.31" height="8.31" fill="#f7ede8" />
<rect x="73.21" y="432.84" width="8.31" height="8.31" fill="#f7ede8" />
<rect x="81.92" y="432.84" width="8.31" height="8.31" fill="#f7ede8" />
<rect x="90.63" y="432.84" width="8.31" height="8.31" fill="#f7ede8" />
<rect x="99.34" y="432.84" width="8.31" height="8.31" fill="#f7ede8" />
<rect x="20.95" y="441.55" width="8.31" height="8.31" fill="#f7ede8" />
<rect x="29.66" y="441.55" width="8.31" height="8.31" fill="#f7ede8" />
<rect x="38.37" y="441.55" width="8.31" height="8.31" fill="#f7ede8" />
<rect x="47.08" y="441.55" width="8.31" height="8.31" fill="#f9e7e0" />
<rect x="55.79" y="441.55" width="8.31" height="8.31" fill="#f7ede8" />
<rect x="64.50" y="441.55" width="8.31" height="8.31" fill="#f7ede8" />
<rect x="73.21" y="441.55" width="8.31" height="8.31" fill="#f7ede8" />
<rect x="81.92" y="441.55" width="8.31" height="8.31" fill="#f7ede8" />
<rect x="90.63" y="441.55" width="8.31" height="8.31" fill="#f7ede8" />
<rect x="20.95" y="450.26" width="8.31" height="8.31" fill="#f7ede8" />
<rect x="29.66" y="450.26" width="8.31" height="8.31" fill="#f7ede8" />
<rect x="38.37" y="450.26" width="8.31" height="8.31" fill="#f8e2da" />
<rect x="47.08" y="450.26" width="8.31" height="8.31" fill="#f7ede8" />
<rect x="55.79" y="450.26" width="8.31" height="8.31" fill="#f7ede8" />
<rect x="64.50" y="450.26" width="8.31" height="8.31" fill="#f7ede8" />
<rect x="73.21" y="450.26" width="8.31" height="8.31" fill="#f7ede8" />
<rect x="81.92" y="450.26" width="8.31" height="8.31" fill="#f7ede8" />
<rect x="20.95" y="458.97" width="8.31" height="8.31" fill="#f7ede8" />
<rect x="29.66" y="458.97" width="8.31" height="8.31" fill="#f7ede8" />
<rect x="38.37" y="458.97" width="8.31" height="8.31" fill="#f7ede8" />
<rect x="47.08" y="458.97" width="8.31" height="8.31" fill="#f7ede8" />
<rect x="55.79" y="458.97" width="8.31" height="8.31" fill="#f7ede8" />
<rect x="64.50" y="458.97" width="8.31" height="8.31" fill="#f7ede8" />
<rect x="73.21" y="458.97" width="8.31" height="8.31" fill="#f7ede8" />
<rect x="20.95" y="467.68" width="8.31" height="8.31" fill="#f7ede8" />
<rect x="29.66" y="467.68" width="8.31" height="8.31" fill="#f7ede8" />
<rect x="38.37" y="467.68" width="8.31" height="8.31" fill="#f7ede8" />
<rect x="47.08" y="467.68" width="8.31" height="8.31" fill="#f7ede8" />
<rect x="55.79" y="467.68" width="8.31" height="8.31" fill="#f7ede8" />
<rect x="64.50" y="467.68" width="8.31" height="8.31" fill="#f9e6df" />
<rect x="20.95" y="476.39" width="8.31" height="8.31" fill="#f7ede8" />
<rect x="29.66" y="476.39" width="8.31" height="8.31" fill="#f7ede8" />
<rect x="38.37" y="476.39" width="8.31" height="8.31" fill="#f7ede8" />
<rect x="47.08" y="476.39" width="8.31" height="8.31" fill="#f7ede8" />
<rect x="55.79" y="476.39" width="8.31" height="8.31" fill="#f7ede8" />
<rect x="20.95" y="485.10" width="8.31" height="8.31" fill="#f7ede8" />
<rect x="29.66" y="485.10" width="8.31" height="8.31" fill="#f7ede8" />
<rect x="38.37" y="485.10" width="8.31" height="8.31" fill="#f7ede8" />
<rect x="47.08" y="485.10" width="8.31" height="8.31" fill="#f7ede8" />
<rect x="20.95" y="493.81" width="8.31" height="8.31" fill="#f7ede8" />
<rect x="29.66" y="493.81" width="8.31" height="8.31" fill="#f7ede8" />
<rect x="38.37" y="493.81" width="8.31" height="8.31" fill="#f7ede8" />
<rect x="29.66" y="502.52" width="8.31" height="8.31" fill="#f7ede8" />
<rect x="20.95" y="511.23" width="8.31" height="8.31" fill="#f7ede8" />
<rect x="308.38" y="223.80" width="8.31" height="8.31" fill="#fbe8e0" stroke="#3a2e2c" stroke-width="0.8"/>
<rect x="221.28" y="232.51" width="8.31" height="8.31" fill="#f0a391" stroke="#3a2e2c" stroke-width="0.8"/>
<rect x="73.21" y="241.22" width="8.31" height="8.31" fill="#f09a85" stroke="#3a2e2c" stroke-width="0.8"/>
<rect x="186.44" y="241.22" width="8.31" height="8.31" fill="#a01a22" stroke="#3a2e2c" stroke-width="0.8"/>
<rect x="151.60" y="249.93" width="8.31" height="8.31" fill="#f3ae9e" stroke="#3a2e2c" stroke-width="0.8"/>
<rect x="282.25" y="249.93" width="8.31" height="8.31" fill="#f6c2b4" stroke="#3a2e2c" stroke-width="0.8"/>
<rect x="108.05" y="258.64" width="8.31" height="8.31" fill="#f0a08e" stroke="#3a2e2c" stroke-width="0.8"/>
<rect x="29.66" y="267.35" width="8.31" height="8.31" fill="#f6c2b4" stroke="#3a2e2c" stroke-width="0.8"/>
<rect x="177.73" y="267.35" width="8.31" height="8.31" fill="#f6c0b2" stroke="#3a2e2c" stroke-width="0.8"/>
<rect x="160.31" y="276.06" width="8.31" height="8.31" fill="#ef9580" stroke="#3a2e2c" stroke-width="0.8"/>
<rect x="247.41" y="276.06" width="8.31" height="8.31" fill="#f2a898" stroke="#3a2e2c" stroke-width="0.8"/>
<rect x="99.34" y="284.77" width="8.31" height="8.31" fill="#f2aa98" stroke="#3a2e2c" stroke-width="0.8"/>
<rect x="212.57" y="284.77" width="8.31" height="8.31" fill="#f8cabe" stroke="#3a2e2c" stroke-width="0.8"/>
<rect x="55.79" y="293.48" width="8.31" height="8.31" fill="#fbede8" stroke="#3a2e2c" stroke-width="0.8"/>
<rect x="20.95" y="302.19" width="8.31" height="8.31" fill="#f6c0b2" stroke="#3a2e2c" stroke-width="0.8"/>
<rect x="195.15" y="302.19" width="8.31" height="8.31" fill="#f8ccc0" stroke="#3a2e2c" stroke-width="0.8"/>
<rect x="47.08" y="310.90" width="8.31" height="8.31" fill="#d9472f" stroke="#3a2e2c" stroke-width="0.8"/>
<rect x="99.34" y="310.90" width="8.31" height="8.31" fill="#f8cbbf" stroke="#3a2e2c" stroke-width="0.8"/>
<rect x="125.47" y="319.61" width="8.31" height="8.31" fill="#f8cbbd" stroke="#3a2e2c" stroke-width="0.8"/>
<rect x="125.47" y="328.32" width="8.31" height="8.31" fill="#f5b8a8" stroke="#3a2e2c" stroke-width="0.8"/>
<rect x="73.21" y="337.03" width="8.31" height="8.31" fill="#f6c2b4" stroke="#3a2e2c" stroke-width="0.8"/>
<rect x="142.89" y="337.03" width="8.31" height="8.31" fill="#f9d8ce" stroke="#3a2e2c" stroke-width="0.8"/>
<rect x="134.18" y="345.74" width="8.31" height="8.31" fill="#f8cabe" stroke="#3a2e2c" stroke-width="0.8"/>
<rect x="81.92" y="363.16" width="8.31" height="8.31" fill="#f9d5ca" stroke="#3a2e2c" stroke-width="0.8"/>
<rect x="55.79" y="371.87" width="8.31" height="8.31" fill="#f6c0b2" stroke="#3a2e2c" stroke-width="0.8"/>
<rect x="81.92" y="380.58" width="8.31" height="8.31" fill="#f6c0b2" stroke="#3a2e2c" stroke-width="0.8"/>
<rect x="142.89" y="389.29" width="8.31" height="8.31" fill="#f2a492" stroke="#3a2e2c" stroke-width="0.8"/>
<rect x="90.63" y="406.71" width="8.31" height="8.31" fill="#f8cabd" stroke="#3a2e2c" stroke-width="0.8"/>
<rect x="29.66" y="424.13" width="8.31" height="8.31" fill="#e8705a" stroke="#3a2e2c" stroke-width="0.8"/>
<rect x="64.50" y="432.84" width="8.31" height="8.31" fill="#fbe9e2" stroke="#3a2e2c" stroke-width="0.8"/>
<rect x="20.95" y="502.52" width="8.31" height="8.31" fill="#f6beb0" stroke="#3a2e2c" stroke-width="0.8"/>
<text x="12.30" y="230.75" font-size="7.8" text-anchor="end" fill="#4a4a4a" >X</text>
<line x1="18.80" y1="227.95" x2="20.80" y2="227.95" stroke="#222" stroke-width="1.0" />
<text x="15.00" y="239.47" font-size="7.8" text-anchor="end" fill="#4a4a4a" >34</text>
<line x1="18.80" y1="236.66" x2="20.80" y2="236.66" stroke="#222" stroke-width="1.0" />
<text x="15.00" y="248.18" font-size="7.8" text-anchor="end" fill="#4a4a4a" >33</text>
<line x1="18.80" y1="245.38" x2="20.80" y2="245.38" stroke="#222" stroke-width="1.0" />
<text x="15.00" y="256.88" font-size="7.8" text-anchor="end" fill="#4a4a4a" >32</text>
<line x1="18.80" y1="254.09" x2="20.80" y2="254.09" stroke="#222" stroke-width="1.0" />
<text x="15.00" y="265.60" font-size="7.8" text-anchor="end" fill="#4a4a4a" >31</text>
<line x1="18.80" y1="262.80" x2="20.80" y2="262.80" stroke="#222" stroke-width="1.0" />
<text x="15.00" y="274.31" font-size="7.8" text-anchor="end" fill="#4a4a4a" >30</text>
<line x1="18.80" y1="271.50" x2="20.80" y2="271.50" stroke="#222" stroke-width="1.0" />
<text x="15.00" y="283.02" font-size="7.8" text-anchor="end" fill="#4a4a4a" >29</text>
<line x1="18.80" y1="280.22" x2="20.80" y2="280.22" stroke="#222" stroke-width="1.0" />
<text x="15.00" y="291.73" font-size="7.8" text-anchor="end" fill="#4a4a4a" >28</text>
<line x1="18.80" y1="288.93" x2="20.80" y2="288.93" stroke="#222" stroke-width="1.0" />
<text x="15.00" y="300.44" font-size="7.8" text-anchor="end" fill="#4a4a4a" >27</text>
<line x1="18.80" y1="297.63" x2="20.80" y2="297.63" stroke="#222" stroke-width="1.0" />
<text x="15.00" y="309.15" font-size="7.8" text-anchor="end" fill="#4a4a4a" >26</text>
<line x1="18.80" y1="306.35" x2="20.80" y2="306.35" stroke="#222" stroke-width="1.0" />
<text x="15.00" y="317.86" font-size="7.8" text-anchor="end" fill="#4a4a4a" >25</text>
<line x1="18.80" y1="315.06" x2="20.80" y2="315.06" stroke="#222" stroke-width="1.0" />
<text x="15.00" y="326.56" font-size="7.8" text-anchor="end" fill="#4a4a4a" >24</text>
<line x1="18.80" y1="323.76" x2="20.80" y2="323.76" stroke="#222" stroke-width="1.0" />
<text x="15.00" y="335.28" font-size="7.8" text-anchor="end" fill="#4a4a4a" >23</text>
<line x1="18.80" y1="332.48" x2="20.80" y2="332.48" stroke="#222" stroke-width="1.0" />
<text x="15.00" y="343.99" font-size="7.8" text-anchor="end" fill="#4a4a4a" >22</text>
<line x1="18.80" y1="341.19" x2="20.80" y2="341.19" stroke="#222" stroke-width="1.0" />
<text x="15.00" y="352.69" font-size="7.8" text-anchor="end" fill="#4a4a4a" >21</text>
<line x1="18.80" y1="349.89" x2="20.80" y2="349.89" stroke="#222" stroke-width="1.0" />
<text x="15.00" y="361.41" font-size="7.8" text-anchor="end" fill="#4a4a4a" >20</text>
<line x1="18.80" y1="358.61" x2="20.80" y2="358.61" stroke="#222" stroke-width="1.0" />
<text x="15.00" y="370.12" font-size="7.8" text-anchor="end" fill="#4a4a4a" >19</text>
<line x1="18.80" y1="367.31" x2="20.80" y2="367.31" stroke="#222" stroke-width="1.0" />
<text x="15.00" y="378.82" font-size="7.8" text-anchor="end" fill="#4a4a4a" >18</text>
<line x1="18.80" y1="376.02" x2="20.80" y2="376.02" stroke="#222" stroke-width="1.0" />
<text x="15.00" y="387.54" font-size="7.8" text-anchor="end" fill="#4a4a4a" >17</text>
<line x1="18.80" y1="384.74" x2="20.80" y2="384.74" stroke="#222" stroke-width="1.0" />
<text x="15.00" y="396.25" font-size="7.8" text-anchor="end" fill="#4a4a4a" >16</text>
<line x1="18.80" y1="393.45" x2="20.80" y2="393.45" stroke="#222" stroke-width="1.0" />
<text x="15.00" y="404.95" font-size="7.8" text-anchor="end" fill="#4a4a4a" >15</text>
<line x1="18.80" y1="402.15" x2="20.80" y2="402.15" stroke="#222" stroke-width="1.0" />
<text x="15.00" y="413.67" font-size="7.8" text-anchor="end" fill="#4a4a4a" >14</text>
<line x1="18.80" y1="410.87" x2="20.80" y2="410.87" stroke="#222" stroke-width="1.0" />
<text x="15.00" y="422.38" font-size="7.8" text-anchor="end" fill="#4a4a4a" >13</text>
<line x1="18.80" y1="419.58" x2="20.80" y2="419.58" stroke="#222" stroke-width="1.0" />
<text x="15.00" y="431.09" font-size="7.8" text-anchor="end" fill="#4a4a4a" >12</text>
<line x1="18.80" y1="428.29" x2="20.80" y2="428.29" stroke="#222" stroke-width="1.0" />
<text x="15.00" y="439.80" font-size="7.8" text-anchor="end" fill="#4a4a4a" >11</text>
<line x1="18.80" y1="437.00" x2="20.80" y2="437.00" stroke="#222" stroke-width="1.0" />
<text x="15.00" y="448.51" font-size="7.8" text-anchor="end" fill="#4a4a4a" >10</text>
<line x1="18.80" y1="445.71" x2="20.80" y2="445.71" stroke="#222" stroke-width="1.0" />
<text x="16.60" y="457.22" font-size="7.8" text-anchor="end" fill="#4a4a4a" >9</text>
<line x1="18.80" y1="454.42" x2="20.80" y2="454.42" stroke="#222" stroke-width="1.0" />
<text x="16.60" y="465.93" font-size="7.8" text-anchor="end" fill="#4a4a4a" >8</text>
<line x1="18.80" y1="463.12" x2="20.80" y2="463.12" stroke="#222" stroke-width="1.0" />
<text x="16.60" y="474.64" font-size="7.8" text-anchor="end" fill="#4a4a4a" >7</text>
<line x1="18.80" y1="471.84" x2="20.80" y2="471.84" stroke="#222" stroke-width="1.0" />
<text x="16.60" y="483.35" font-size="7.8" text-anchor="end" fill="#4a4a4a" >6</text>
<line x1="18.80" y1="480.55" x2="20.80" y2="480.55" stroke="#222" stroke-width="1.0" />
<text x="16.60" y="492.06" font-size="7.8" text-anchor="end" fill="#4a4a4a" >5</text>
<line x1="18.80" y1="489.25" x2="20.80" y2="489.25" stroke="#222" stroke-width="1.0" />
<text x="16.60" y="500.77" font-size="7.8" text-anchor="end" fill="#4a4a4a" >4</text>
<line x1="18.80" y1="497.97" x2="20.80" y2="497.97" stroke="#222" stroke-width="1.0" />
<text x="16.60" y="509.48" font-size="7.8" text-anchor="end" fill="#4a4a4a" >3</text>
<line x1="18.80" y1="506.68" x2="20.80" y2="506.68" stroke="#222" stroke-width="1.0" />
<text x="16.60" y="518.18" font-size="7.8" text-anchor="end" fill="#4a4a4a" >2</text>
<line x1="18.80" y1="515.38" x2="20.80" y2="515.38" stroke="#222" stroke-width="1.0" />
<text transform="translate(26.91,217.8) rotate(-90)" font-size="8.2" fill="#4a4a4a">1</text>
<line x1="25.11" y1="222.00" x2="25.11" y2="223.40" stroke="#222" stroke-width="1.0" />
<text transform="translate(35.61,217.8) rotate(-90)" font-size="8.2" fill="#4a4a4a">2</text>
<line x1="33.81" y1="222.00" x2="33.81" y2="223.40" stroke="#222" stroke-width="1.0" />
<text transform="translate(44.33,217.8) rotate(-90)" font-size="8.2" fill="#4a4a4a">3</text>
<line x1="42.53" y1="222.00" x2="42.53" y2="223.40" stroke="#222" stroke-width="1.0" />
<text transform="translate(53.03,217.8) rotate(-90)" font-size="8.2" fill="#4a4a4a">4</text>
<line x1="51.23" y1="222.00" x2="51.23" y2="223.40" stroke="#222" stroke-width="1.0" />
<text transform="translate(61.75,217.8) rotate(-90)" font-size="8.2" fill="#4a4a4a">5</text>
<line x1="59.95" y1="222.00" x2="59.95" y2="223.40" stroke="#222" stroke-width="1.0" />
<text transform="translate(70.45,217.8) rotate(-90)" font-size="8.2" fill="#4a4a4a">6</text>
<line x1="68.66" y1="222.00" x2="68.66" y2="223.40" stroke="#222" stroke-width="1.0" />
<text transform="translate(79.17,217.8) rotate(-90)" font-size="8.2" fill="#4a4a4a">7</text>
<line x1="77.37" y1="222.00" x2="77.37" y2="223.40" stroke="#222" stroke-width="1.0" />
<text transform="translate(87.88,217.8) rotate(-90)" font-size="8.2" fill="#4a4a4a">8</text>
<line x1="86.08" y1="222.00" x2="86.08" y2="223.40" stroke="#222" stroke-width="1.0" />
<text transform="translate(96.59,217.8) rotate(-90)" font-size="8.2" fill="#4a4a4a">9</text>
<line x1="94.79" y1="222.00" x2="94.79" y2="223.40" stroke="#222" stroke-width="1.0" />
<text transform="translate(105.30,217.8) rotate(-90)" font-size="8.2" fill="#4a4a4a">10</text>
<line x1="103.50" y1="222.00" x2="103.50" y2="223.40" stroke="#222" stroke-width="1.0" />
<text transform="translate(114.01,217.8) rotate(-90)" font-size="8.2" fill="#4a4a4a">11</text>
<line x1="112.21" y1="222.00" x2="112.21" y2="223.40" stroke="#222" stroke-width="1.0" />
<text transform="translate(122.72,217.8) rotate(-90)" font-size="8.2" fill="#4a4a4a">12</text>
<line x1="120.92" y1="222.00" x2="120.92" y2="223.40" stroke="#222" stroke-width="1.0" />
<text transform="translate(131.43,217.8) rotate(-90)" font-size="8.2" fill="#4a4a4a">13</text>
<line x1="129.62" y1="222.00" x2="129.62" y2="223.40" stroke="#222" stroke-width="1.0" />
<text transform="translate(140.14,217.8) rotate(-90)" font-size="8.2" fill="#4a4a4a">14</text>
<line x1="138.34" y1="222.00" x2="138.34" y2="223.40" stroke="#222" stroke-width="1.0" />
<text transform="translate(148.85,217.8) rotate(-90)" font-size="8.2" fill="#4a4a4a">15</text>
<line x1="147.05" y1="222.00" x2="147.05" y2="223.40" stroke="#222" stroke-width="1.0" />
<text transform="translate(157.56,217.8) rotate(-90)" font-size="8.2" fill="#4a4a4a">16</text>
<line x1="155.76" y1="222.00" x2="155.76" y2="223.40" stroke="#222" stroke-width="1.0" />
<text transform="translate(166.27,217.8) rotate(-90)" font-size="8.2" fill="#4a4a4a">17</text>
<line x1="164.47" y1="222.00" x2="164.47" y2="223.40" stroke="#222" stroke-width="1.0" />
<text transform="translate(174.98,217.8) rotate(-90)" font-size="8.2" fill="#4a4a4a">18</text>
<line x1="173.18" y1="222.00" x2="173.18" y2="223.40" stroke="#222" stroke-width="1.0" />
<text transform="translate(183.69,217.8) rotate(-90)" font-size="8.2" fill="#4a4a4a">19</text>
<line x1="181.89" y1="222.00" x2="181.89" y2="223.40" stroke="#222" stroke-width="1.0" />
<text transform="translate(192.40,217.8) rotate(-90)" font-size="8.2" fill="#4a4a4a">20</text>
<line x1="190.60" y1="222.00" x2="190.60" y2="223.40" stroke="#222" stroke-width="1.0" />
<text transform="translate(201.11,217.8) rotate(-90)" font-size="8.2" fill="#4a4a4a">21</text>
<line x1="199.31" y1="222.00" x2="199.31" y2="223.40" stroke="#222" stroke-width="1.0" />
<text transform="translate(209.82,217.8) rotate(-90)" font-size="8.2" fill="#4a4a4a">22</text>
<line x1="208.02" y1="222.00" x2="208.02" y2="223.40" stroke="#222" stroke-width="1.0" />
<text transform="translate(218.53,217.8) rotate(-90)" font-size="8.2" fill="#4a4a4a">23</text>
<line x1="216.73" y1="222.00" x2="216.73" y2="223.40" stroke="#222" stroke-width="1.0" />
<text transform="translate(227.24,217.8) rotate(-90)" font-size="8.2" fill="#4a4a4a">24</text>
<line x1="225.44" y1="222.00" x2="225.44" y2="223.40" stroke="#222" stroke-width="1.0" />
<text transform="translate(235.95,217.8) rotate(-90)" font-size="8.2" fill="#4a4a4a">25</text>
<line x1="234.15" y1="222.00" x2="234.15" y2="223.40" stroke="#222" stroke-width="1.0" />
<text transform="translate(244.66,217.8) rotate(-90)" font-size="8.2" fill="#4a4a4a">26</text>
<line x1="242.86" y1="222.00" x2="242.86" y2="223.40" stroke="#222" stroke-width="1.0" />
<text transform="translate(253.37,217.8) rotate(-90)" font-size="8.2" fill="#4a4a4a">27</text>
<line x1="251.57" y1="222.00" x2="251.57" y2="223.40" stroke="#222" stroke-width="1.0" />
<text transform="translate(262.08,217.8) rotate(-90)" font-size="8.2" fill="#4a4a4a">28</text>
<line x1="260.28" y1="222.00" x2="260.28" y2="223.40" stroke="#222" stroke-width="1.0" />
<text transform="translate(270.79,217.8) rotate(-90)" font-size="8.2" fill="#4a4a4a">29</text>
<line x1="268.99" y1="222.00" x2="268.99" y2="223.40" stroke="#222" stroke-width="1.0" />
<text transform="translate(279.50,217.8) rotate(-90)" font-size="8.2" fill="#4a4a4a">30</text>
<line x1="277.70" y1="222.00" x2="277.70" y2="223.40" stroke="#222" stroke-width="1.0" />
<text transform="translate(288.21,217.8) rotate(-90)" font-size="8.2" fill="#4a4a4a">31</text>
<line x1="286.41" y1="222.00" x2="286.41" y2="223.40" stroke="#222" stroke-width="1.0" />
<text transform="translate(296.92,217.8) rotate(-90)" font-size="8.2" fill="#4a4a4a">32</text>
<line x1="295.12" y1="222.00" x2="295.12" y2="223.40" stroke="#222" stroke-width="1.0" />
<text transform="translate(305.63,217.8) rotate(-90)" font-size="8.2" fill="#4a4a4a">33</text>
<line x1="303.83" y1="222.00" x2="303.83" y2="223.40" stroke="#222" stroke-width="1.0" />
<text transform="translate(314.34,217.8) rotate(-90)" font-size="8.2" fill="#4a4a4a">34</text>
<line x1="312.54" y1="222.00" x2="312.54" y2="223.40" stroke="#222" stroke-width="1.0" />
<text x="125.40" y="458.50" font-size="8.0" text-anchor="start" fill="#231f20" >Counts</text>
<defs><linearGradient id="cnt" x1="0" y1="0" x2="0" y2="1"><stop offset="0" stop-color="#a0141c"/><stop offset="0.25" stop-color="#c42a26"/><stop offset="0.5" stop-color="#e05a42"/><stop offset="0.75" stop-color="#f4a48e"/><stop offset="1" stop-color="#fdebe5"/></linearGradient></defs>
<rect x="125.30" y="461.00" width="8.80" height="43.80" fill="url(#cnt)" />
<text x="137.30" y="468.45" font-size="8.0" text-anchor="start" fill="#231f20" >2000</text>
<line x1="125.30" y1="465.60" x2="126.80" y2="465.60" stroke="#ffffff" stroke-width="0.6" />
<line x1="132.60" y1="465.60" x2="134.10" y2="465.60" stroke="#ffffff" stroke-width="0.6" />
<text x="137.30" y="477.85" font-size="8.0" text-anchor="start" fill="#231f20" >1500</text>
<line x1="125.30" y1="475.00" x2="126.80" y2="475.00" stroke="#ffffff" stroke-width="0.6" />
<line x1="132.60" y1="475.00" x2="134.10" y2="475.00" stroke="#ffffff" stroke-width="0.6" />
<text x="137.30" y="487.60" font-size="8.0" text-anchor="start" fill="#231f20" >1000</text>
<line x1="125.30" y1="484.75" x2="126.80" y2="484.75" stroke="#ffffff" stroke-width="0.6" />
<line x1="132.60" y1="484.75" x2="134.10" y2="484.75" stroke="#ffffff" stroke-width="0.6" />
<text x="137.30" y="496.95" font-size="8.0" text-anchor="start" fill="#231f20" >500</text>
<line x1="125.30" y1="494.10" x2="126.80" y2="494.10" stroke="#ffffff" stroke-width="0.6" />
<line x1="132.60" y1="494.10" x2="134.10" y2="494.10" stroke="#ffffff" stroke-width="0.6" />
<text x="137.30" y="506.35" font-size="8.0" text-anchor="start" fill="#231f20" >0</text>
<line x1="125.30" y1="503.50" x2="126.80" y2="503.50" stroke="#ffffff" stroke-width="0.6" />
<line x1="132.60" y1="503.50" x2="134.10" y2="503.50" stroke="#ffffff" stroke-width="0.6" />
<text x="328.40" y="204.20" font-size="18.5" text-anchor="start" font-weight="bold" fill="#231f20" >e</text>
<text x="334.40" y="220.80" font-size="9.2" text-anchor="start" fill="#231f20" >C_1</text>
<text x="370.90" y="220.80" font-size="9.2" text-anchor="start" fill="#231f20" >C_3</text>
<text x="411.50" y="220.80" font-size="9.2" text-anchor="start" fill="#231f20" >C_4</text>
<text x="481.70" y="220.80" font-size="9.2" text-anchor="start" fill="#231f20" >C_5</text>
<text x="334.40" y="283.10" font-size="9.2" text-anchor="start" fill="#231f20" >C_2</text>
<rect x="334.60" y="225.40" width="8.80" height="8.40" fill="#f6c0b2" />
<text x="346.00" y="232.60" font-size="7.3" text-anchor="start" fill="#231f20" >18+5</text>
<rect x="334.60" y="235.10" width="8.80" height="8.70" fill="#f0a391" />
<text x="346.00" y="241.80" font-size="7.3" text-anchor="start" fill="#231f20" >24+34</text>
<rect x="334.60" y="245.40" width="8.80" height="8.40" fill="#fbe9e2" />
<text x="346.00" y="253.10" font-size="7.3" text-anchor="start" fill="#231f20" >11+6</text>
<rect x="334.60" y="255.40" width="8.80" height="8.40" fill="#fbede8" />
<text x="346.00" y="262.30" font-size="7.3" text-anchor="start" fill="#231f20" >5+27</text>
<rect x="334.60" y="265.10" width="8.80" height="8.40" fill="#fbebe5" />
<text x="346.00" y="271.50" font-size="7.3" text-anchor="start" fill="#231f20" >34+X</text>
<rect x="334.60" y="286.60" width="8.80" height="8.80" fill="#f6c0b2" />
<text x="346.00" y="294.10" font-size="7.3" text-anchor="start" fill="#231f20" >17+8</text>
<rect x="371.20" y="225.00" width="8.80" height="8.80" fill="#f2a898" />
<text x="381.00" y="232.60" font-size="7.3" text-anchor="start" fill="#231f20" >27+29</text>
<rect x="371.20" y="235.00" width="8.80" height="8.40" fill="#f6c2b4" />
<text x="381.00" y="241.80" font-size="7.3" text-anchor="start" fill="#231f20" >30+2</text>
<rect x="371.20" y="244.60" width="8.80" height="8.90" fill="#f0a08e" />
<text x="381.00" y="250.80" font-size="7.3" text-anchor="start" fill="#231f20" >31+11</text>
<rect x="371.20" y="254.60" width="8.80" height="8.90" fill="#f8cabd" />
<text x="381.00" y="259.20" font-size="7.3" text-anchor="start" fill="#231f20" >9+14</text>
<rect x="371.20" y="264.60" width="8.80" height="8.40" fill="#f5b8a8" />
<text x="381.00" y="268.40" font-size="7.3" text-anchor="start" fill="#231f20" >23+13</text>
<rect x="371.20" y="274.60" width="8.80" height="8.40" fill="#f8cbbd" />
<text x="381.00" y="277.20" font-size="7.3" text-anchor="start" fill="#231f20" >13+24</text>
<rect x="408.80" y="225.20" width="8.70" height="8.60" fill="#ef9580" />
<text x="420.00" y="232.20" font-size="7.3" text-anchor="start" fill="#231f20" >29+17</text>
<rect x="408.80" y="235.40" width="8.70" height="8.10" fill="#f9d5ca" />
<text x="420.00" y="241.30" font-size="7.3" text-anchor="start" fill="#231f20" >8+19</text>
<rect x="408.80" y="245.00" width="8.70" height="8.10" fill="#f6c0b2" />
<text x="420.00" y="250.30" font-size="7.3" text-anchor="start" fill="#231f20" >19+30</text>
<rect x="408.80" y="254.60" width="8.70" height="8.10" fill="#e8705a" />
<text x="420.00" y="259.50" font-size="7.3" text-anchor="start" fill="#231f20" >2+12</text>
<rect x="408.80" y="264.20" width="8.70" height="8.10" fill="#f6c2b4" />
<text x="420.00" y="268.80" font-size="7.3" text-anchor="start" fill="#231f20" >7+22</text>
<rect x="408.80" y="273.80" width="8.70" height="8.10" fill="#f9d8ce" />
<text x="420.00" y="277.20" font-size="7.3" text-anchor="start" fill="#231f20" >22+15</text>
<rect x="444.40" y="225.20" width="8.30" height="8.60" fill="#f2a492" />
<text x="455.00" y="232.20" font-size="7.3" text-anchor="start" fill="#231f20" >15+16</text>
<rect x="444.40" y="235.40" width="8.30" height="8.10" fill="#f3ae9e" />
<text x="455.00" y="241.30" font-size="7.3" text-anchor="start" fill="#231f20" >16+32</text>
<rect x="444.40" y="245.00" width="8.30" height="8.10" fill="#f8cabe" />
<text x="455.00" y="250.30" font-size="7.3" text-anchor="start" fill="#231f20" >14+21</text>
<rect x="444.40" y="254.60" width="8.30" height="8.10" fill="#f6c0b2" />
<text x="455.00" y="259.50" font-size="7.3" text-anchor="start" fill="#231f20" >26+1</text>
<rect x="444.40" y="264.20" width="8.30" height="8.10" fill="#f8cbbf" />
<text x="455.00" y="268.20" font-size="7.3" text-anchor="start" fill="#231f20" >25+10</text>
<rect x="444.40" y="273.80" width="8.30" height="8.10" fill="#f2aa98" />
<text x="455.00" y="277.20" font-size="7.3" text-anchor="start" fill="#231f20" >10+28</text>
<rect x="444.40" y="283.50" width="8.30" height="8.40" fill="#f8cabe" />
<text x="455.00" y="286.10" font-size="7.3" text-anchor="start" fill="#231f20" >28+23</text>
<rect x="481.90" y="225.80" width="8.30" height="8.40" fill="#f09a85" />
<text x="491.50" y="232.20" font-size="7.3" text-anchor="start" fill="#231f20" >7+33</text>
<rect x="481.90" y="235.80" width="8.30" height="8.60" fill="#a01a22" />
<text x="491.50" y="241.60" font-size="7.3" text-anchor="start" fill="#231f20" >33+20</text>
<rect x="481.90" y="245.80" width="8.30" height="8.20" fill="#f8ccc0" />
<text x="491.50" y="249.90" font-size="7.3" text-anchor="start" fill="#231f20" >26+21</text>
<rect x="481.90" y="255.40" width="8.30" height="8.30" fill="#f6beb0" />
<text x="491.50" y="259.10" font-size="7.3" text-anchor="start" fill="#231f20" >3+1</text>
<rect x="481.90" y="265.00" width="8.30" height="8.80" fill="#d9472f" />
<text x="491.50" y="268.20" font-size="7.3" text-anchor="start" fill="#231f20" >4+25</text>
<rect x="481.90" y="274.60" width="8.30" height="8.90" fill="#f6c2b4" />
<text x="491.50" y="276.80" font-size="7.3" text-anchor="start" fill="#231f20" >32+31</text>
<line x1="560.50" y1="195.00" x2="560.50" y2="312.40" stroke="#111" stroke-width="1.0" />
<line x1="560.00" y1="312.00" x2="685.00" y2="312.00" stroke="#111" stroke-width="1.0" />
<polygon points="565.75,247.83 568.53,247.63 571.31,247.40 574.09,247.15 576.88,246.89 579.66,246.59 582.44,246.27 585.22,245.92 588.00,245.54 590.78,245.11 593.56,244.65 596.34,244.13 599.12,243.57 601.91,242.95 604.69,242.27 607.47,241.52 610.25,240.70 613.03,239.80 615.81,238.83 618.59,237.77 621.38,236.62 624.16,235.39 626.94,234.08 629.72,232.68 632.50,231.20 635.28,229.65 638.06,228.02 640.84,226.33 643.62,224.57 646.41,222.76 649.19,220.90 651.97,218.99 654.75,217.04 657.53,215.05 660.31,213.02 663.09,210.97 665.88,208.89 668.66,206.78 671.44,204.65 674.22,202.50 677.00,200.33 677.00,259.67 674.22,259.87 671.44,260.10 668.66,260.35 665.88,260.61 663.09,260.91 660.31,261.23 657.53,261.58 654.75,261.96 651.97,262.39 649.19,262.85 646.41,263.37 643.62,263.93 640.84,264.55 638.06,265.23 635.28,265.98 632.50,266.80 629.72,267.70 626.94,268.67 624.16,269.73 621.38,270.88 618.59,272.11 615.81,273.42 613.03,274.82 610.25,276.30 607.47,277.85 604.69,279.48 601.91,281.17 599.12,282.93 596.34,284.74 593.56,286.60 590.78,288.51 588.00,290.46 585.22,292.45 582.44,294.48 579.66,296.53 576.88,298.61 574.09,300.72 571.31,302.85 568.53,305.00 565.75,307.17" fill="#cbcbcb"/>
<line x1="565.75" y1="277.50" x2="677.00" y2="230.00" stroke="#000" stroke-width="1.3" />
<circle cx="565.75" cy="273.75" r="1.2" fill="#e8231f"/>
<circle cx="593.75" cy="262" r="1.2" fill="#e8231f"/>
<circle cx="621.25" cy="260" r="1.2" fill="#e8231f"/>
<circle cx="649.25" cy="256.75" r="1.2" fill="#e8231f"/>
<circle cx="677" cy="217.5" r="1.2" fill="#e8231f"/>
<line x1="557.50" y1="218.75" x2="560.50" y2="218.75" stroke="#111" stroke-width="0.9" />
<text x="550.80" y="220.55" font-size="8.1" text-anchor="middle" fill="#231f20" >800</text>
<line x1="557.50" y1="253.25" x2="560.50" y2="253.25" stroke="#111" stroke-width="0.9" />
<text x="550.80" y="255.05" font-size="8.1" text-anchor="middle" fill="#231f20" >400</text>
<line x1="557.50" y1="288.25" x2="560.50" y2="288.25" stroke="#111" stroke-width="0.9" />
<text x="550.80" y="289.45" font-size="8.1" text-anchor="middle" fill="#231f20" >0</text>
<line x1="565.75" y1="312.00" x2="565.75" y2="314.50" stroke="#111" stroke-width="0.9" />
<text x="566.05" y="321.60" font-size="8.0" text-anchor="middle" fill="#231f20" >C_1</text>
<line x1="593.50" y1="312.00" x2="593.50" y2="314.50" stroke="#111" stroke-width="0.9" />
<text x="593.80" y="321.60" font-size="8.0" text-anchor="middle" fill="#231f20" >C_2</text>
<line x1="621.25" y1="312.00" x2="621.25" y2="314.50" stroke="#111" stroke-width="0.9" />
<text x="621.55" y="321.60" font-size="8.0" text-anchor="middle" fill="#231f20" >C_3</text>
<line x1="649.00" y1="312.00" x2="649.00" y2="314.50" stroke="#111" stroke-width="0.9" />
<text x="649.30" y="321.60" font-size="8.0" text-anchor="middle" fill="#231f20" >C_4</text>
<line x1="677.00" y1="312.00" x2="677.00" y2="314.50" stroke="#111" stroke-width="0.9" />
<text x="677.30" y="321.60" font-size="8.0" text-anchor="middle" fill="#231f20" >C_5</text>
<text x="573.60" y="210.50" font-size="8.3" text-anchor="start" fill="#231f20" >R=0.87</text>
<text x="628.00" y="332.30" font-size="9.45" text-anchor="middle" fill="#231f20" >fusion site class</text>
<text transform="translate(539.2,255.3) rotate(-90)" font-size="9.45" text-anchor="middle" fill="#231f20">average significant interaction</text>
<text x="253.60" y="349.20" font-size="18.5" text-anchor="start" font-weight="bold" fill="#231f20" >f</text>
<text x="299.60" y="342.80" font-size="8.15" text-anchor="start" fill="#231f20" >log<tspan font-size="4.6" dy="1.9">10</tspan><tspan dy="-1.9">(contact frequency)</tspan></text>
<defs><linearGradient id="cf" x1="0" y1="0" x2="1" y2="0"><stop offset="0" stop-color="#ffffff"/><stop offset="0.11" stop-color="#ffffff"/><stop offset="0.25" stop-color="#f5c0c0"/><stop offset="0.375" stop-color="#ec7c7c"/><stop offset="0.5" stop-color="#e03a38"/><stop offset="0.62" stop-color="#d8262a"/><stop offset="1" stop-color="#d42822"/></linearGradient></defs>
<rect x="273.3" y="358.3" width="135.2" height="6.9" fill="url(#cf)" stroke="#3a3a3a" stroke-width="0.8"/>
<text x="274.60" y="354.60" font-size="6.7" text-anchor="middle" fill="#231f20" >0</text>
<text x="291.32" y="354.60" font-size="6.7" text-anchor="middle" fill="#231f20" >0.5</text>
<line x1="289.62" y1="358.30" x2="289.62" y2="359.40" stroke="#222" stroke-width="0.7" />
<text x="307.74" y="354.60" font-size="6.7" text-anchor="middle" fill="#231f20" >1.0</text>
<line x1="306.04" y1="358.30" x2="306.04" y2="359.40" stroke="#222" stroke-width="0.7" />
<text x="324.16" y="354.60" font-size="6.7" text-anchor="middle" fill="#231f20" >1.5</text>
<line x1="322.46" y1="358.30" x2="322.46" y2="359.40" stroke="#222" stroke-width="0.7" />
<text x="340.58" y="354.60" font-size="6.7" text-anchor="middle" fill="#231f20" >2.0</text>
<line x1="338.88" y1="358.30" x2="338.88" y2="359.40" stroke="#222" stroke-width="0.7" />
<text x="357.00" y="354.60" font-size="6.7" text-anchor="middle" fill="#231f20" >2.5</text>
<line x1="355.30" y1="358.30" x2="355.30" y2="359.40" stroke="#222" stroke-width="0.7" />
<text x="373.42" y="354.60" font-size="6.7" text-anchor="middle" fill="#231f20" >3.0</text>
<line x1="371.72" y1="358.30" x2="371.72" y2="359.40" stroke="#222" stroke-width="0.7" />
<text x="389.84" y="354.60" font-size="6.7" text-anchor="middle" fill="#231f20" >3.5</text>
<line x1="388.14" y1="358.30" x2="388.14" y2="359.40" stroke="#222" stroke-width="0.7" />
<text x="406.26" y="354.60" font-size="6.7" text-anchor="middle" fill="#231f20" >4.0</text>
<line x1="404.56" y1="358.30" x2="404.56" y2="359.40" stroke="#222" stroke-width="0.7" />
<rect x="437.6" y="337.0" width="8.6" height="8.3" fill="none" stroke="#222" stroke-width="0.9"/>
<circle cx="441.7" cy="353.2" r="4.5" fill="none" stroke="#222" stroke-width="0.9"/>
<path d="M442,361.4 L436.9,369.3 L447.2,369.3 Z" fill="none" stroke="#222" stroke-width="0.9"/>
<text x="449.40" y="343.40" font-size="8.1" text-anchor="start" fill="#231f20" >Robertsonian fusion site</text>
<text x="449.20" y="355.70" font-size="8.1" text-anchor="start" fill="#231f20" >tandem fusion sites</text>
<text x="449.20" y="367.40" font-size="8.1" text-anchor="start" fill="#231f20" >ancestral fusion sites</text>
<path d="M306.2 385.3h58.5v2.5h-58.5zM306.2 387.5h58.5v2.5h-58.5zM306.2 389.8h58.5v2.5h-58.5zM306.2 392.0h58.5v2.5h-58.5zM306.2 394.3h58.5v2.5h-58.5zM306.2 396.5h58.5v2.5h-58.5zM306.2 398.8h58.5v2.5h-58.5zM306.2 401.0h58.5v2.5h-58.5zM306.2 403.2h58.5v2.5h-58.5zM306.2 405.5h58.5v2.5h-58.5zM306.2 407.7h58.5v2.5h-58.5zM306.2 410.0h58.5v2.5h-58.5zM306.2 412.2h58.5v2.5h-58.5zM306.2 414.4h58.5v2.5h-58.5zM306.2 416.7h58.5v2.5h-58.5zM306.2 418.9h58.5v2.5h-58.5zM306.2 421.2h58.5v2.5h-58.5zM306.2 423.4h58.5v2.5h-58.5zM306.2 425.7h58.5v2.5h-58.5zM306.2 427.9h58.5v2.5h-58.5zM306.2 430.1h58.5v2.5h-58.5zM306.2 432.4h58.5v2.5h-58.5zM306.2 434.6h58.5v2.5h-58.5zM306.2 436.9h58.5v2.5h-58.5zM306.2 439.1h58.5v2.5h-58.5z" fill="#fdf5f5" shape-rendering="crispEdges"/>
<path d="M357.7 441.3h7.0v2.5h-7.0zM359.9 443.6h4.8v2.5h-4.8zM362.2 445.8h2.5v2.5h-2.5z" fill="#f8d8d9" shape-rendering="crispEdges"/>
<path d="M342.0 441.3h16.0v2.5h-16.0zM344.3 443.6h16.0v2.5h-16.0zM346.5 445.8h16.0v2.5h-16.0zM348.7 448.1h16.0v2.5h-16.0zM351.0 450.3h13.7v2.5h-13.7zM353.2 452.6h11.5v2.5h-11.5zM355.4 454.8h9.3v2.5h-9.3zM357.7 457.0h7.0v2.5h-7.0zM359.9 459.3h4.8v2.5h-4.8zM362.2 461.5h2.5v2.5h-2.5zM308.4 486.2h2.5v2.5h-2.5zM308.4 488.4h4.8v2.5h-4.8zM308.4 490.7h7.0v2.5h-7.0zM308.4 492.9h9.3v2.5h-9.3zM308.4 495.2h11.5v2.5h-11.5z" fill="#f6cecf" shape-rendering="crispEdges"/>
<path d="M335.3 441.3h7.0v2.5h-7.0zM337.5 443.6h7.0v2.5h-7.0zM339.8 445.8h7.0v2.5h-7.0zM342.0 448.1h7.0v2.5h-7.0zM344.3 450.3h7.0v2.5h-7.0zM346.5 452.6h7.0v2.5h-7.0zM348.7 454.8h7.0v2.5h-7.0zM351.0 457.0h7.0v2.5h-7.0zM353.2 459.3h7.0v2.5h-7.0zM355.4 461.5h7.0v2.5h-7.0zM357.7 463.8h7.0v2.5h-7.0zM359.9 466.0h4.8v2.5h-4.8zM362.2 468.3h2.5v2.5h-2.5zM308.4 475.0h2.5v2.5h-2.5zM308.4 477.2h4.8v2.5h-4.8zM308.4 479.5h7.0v2.5h-7.0zM308.4 481.7h9.3v2.5h-9.3zM308.4 483.9h11.5v2.5h-11.5zM310.7 486.2h11.5v2.5h-11.5zM312.9 488.4h11.5v2.5h-11.5zM315.2 490.7h11.5v2.5h-11.5zM317.4 492.9h11.5v2.5h-11.5zM319.6 495.2h11.5v2.5h-11.5z" fill="#f4c5c6" shape-rendering="crispEdges"/>
<path d="M330.8 441.3h4.8v2.5h-4.8zM333.1 443.6h4.8v2.5h-4.8zM335.3 445.8h4.8v2.5h-4.8zM337.5 448.1h4.8v2.5h-4.8zM339.8 450.3h4.8v2.5h-4.8zM342.0 452.6h4.8v2.5h-4.8zM344.3 454.8h4.8v2.5h-4.8zM346.5 457.0h4.8v2.5h-4.8zM348.7 459.3h4.8v2.5h-4.8zM351.0 461.5h4.8v2.5h-4.8zM353.2 463.8h4.8v2.5h-4.8zM355.4 466.0h4.8v2.5h-4.8zM308.4 468.3h2.5v2.5h-2.5zM357.7 468.3h4.8v2.5h-4.8zM308.4 470.5h4.8v2.5h-4.8zM359.9 470.5h4.8v2.5h-4.8zM308.4 472.7h7.0v2.5h-7.0zM362.2 472.7h2.5v2.5h-2.5zM310.7 475.0h7.0v2.5h-7.0zM312.9 477.2h7.0v2.5h-7.0zM315.2 479.5h7.0v2.5h-7.0zM317.4 481.7h7.0v2.5h-7.0zM319.6 483.9h7.0v2.5h-7.0zM321.9 486.2h7.0v2.5h-7.0zM324.1 488.4h7.0v2.5h-7.0zM326.4 490.7h7.0v2.5h-7.0zM328.6 492.9h7.0v2.5h-7.0zM330.8 495.2h7.0v2.5h-7.0z" fill="#f2bbbc" shape-rendering="crispEdges"/>
<path d="M328.6 441.3h2.5v2.5h-2.5zM330.8 443.6h2.5v2.5h-2.5zM333.1 445.8h2.5v2.5h-2.5zM335.3 448.1h2.5v2.5h-2.5zM337.5 450.3h2.5v2.5h-2.5zM339.8 452.6h2.5v2.5h-2.5zM342.0 454.8h2.5v2.5h-2.5zM344.3 457.0h2.5v2.5h-2.5zM346.5 459.3h2.5v2.5h-2.5zM348.7 461.5h2.5v2.5h-2.5zM308.4 463.8h2.5v2.5h-2.5zM351.0 463.8h2.5v2.5h-2.5zM308.4 466.0h4.8v2.5h-4.8zM353.2 466.0h2.5v2.5h-2.5zM310.7 468.3h4.8v2.5h-4.8zM355.4 468.3h2.5v2.5h-2.5zM312.9 470.5h4.8v2.5h-4.8zM357.7 470.5h2.5v2.5h-2.5zM315.2 472.7h4.8v2.5h-4.8zM359.9 472.7h2.5v2.5h-2.5zM317.4 475.0h4.8v2.5h-4.8zM362.2 475.0h2.5v2.5h-2.5zM319.6 477.2h4.8v2.5h-4.8zM321.9 479.5h4.8v2.5h-4.8zM324.1 481.7h4.8v2.5h-4.8zM326.4 483.9h4.8v2.5h-4.8zM328.6 486.2h4.8v2.5h-4.8zM330.8 488.4h4.8v2.5h-4.8zM333.1 490.7h4.8v2.5h-4.8zM335.3 492.9h4.8v2.5h-4.8zM337.5 495.2h4.8v2.5h-4.8z" fill="#f0b1b3" shape-rendering="crispEdges"/>
<path d="M326.4 441.3h2.5v2.5h-2.5zM328.6 443.6h2.5v2.5h-2.5zM330.8 445.8h2.5v2.5h-2.5zM333.1 448.1h2.5v2.5h-2.5zM335.3 450.3h2.5v2.5h-2.5zM337.5 452.6h2.5v2.5h-2.5zM339.8 454.8h2.5v2.5h-2.5zM342.0 457.0h2.5v2.5h-2.5zM308.4 459.3h2.5v2.5h-2.5zM344.3 459.3h2.5v2.5h-2.5zM308.4 461.5h4.8v2.5h-4.8zM346.5 461.5h2.5v2.5h-2.5zM310.7 463.8h4.8v2.5h-4.8zM348.7 463.8h2.5v2.5h-2.5zM312.9 466.0h4.8v2.5h-4.8zM351.0 466.0h2.5v2.5h-2.5zM315.2 468.3h4.8v2.5h-4.8zM353.2 468.3h2.5v2.5h-2.5zM317.4 470.5h4.8v2.5h-4.8zM355.4 470.5h2.5v2.5h-2.5zM319.6 472.7h4.8v2.5h-4.8zM357.7 472.7h2.5v2.5h-2.5zM321.9 475.0h4.8v2.5h-4.8zM359.9 475.0h2.5v2.5h-2.5zM324.1 477.2h4.8v2.5h-4.8zM362.2 477.2h2.5v2.5h-2.5zM326.4 479.5h4.8v2.5h-4.8zM328.6 481.7h4.8v2.5h-4.8zM330.8 483.9h4.8v2.5h-4.8zM333.1 486.2h4.8v2.5h-4.8zM335.3 488.4h4.8v2.5h-4.8zM337.5 490.7h4.8v2.5h-4.8zM339.8 492.9h4.8v2.5h-4.8zM342.0 495.2h4.8v2.5h-4.8z" fill="#eea8a9" shape-rendering="crispEdges"/>
<path d="M324.1 441.3h2.5v2.5h-2.5zM326.4 443.6h2.5v2.5h-2.5zM328.6 445.8h2.5v2.5h-2.5zM330.8 448.1h2.5v2.5h-2.5zM333.1 450.3h2.5v2.5h-2.5zM335.3 452.6h2.5v2.5h-2.5zM337.5 454.8h2.5v2.5h-2.5zM308.4 457.0h2.5v2.5h-2.5zM339.8 457.0h2.5v2.5h-2.5zM310.7 459.3h2.5v2.5h-2.5zM342.0 459.3h2.5v2.5h-2.5zM312.9 461.5h2.5v2.5h-2.5zM344.3 461.5h2.5v2.5h-2.5zM315.2 463.8h2.5v2.5h-2.5zM346.5 463.8h2.5v2.5h-2.5zM317.4 466.0h2.5v2.5h-2.5zM348.7 466.0h2.5v2.5h-2.5zM319.6 468.3h2.5v2.5h-2.5zM351.0 468.3h2.5v2.5h-2.5zM321.9 470.5h2.5v2.5h-2.5zM353.2 470.5h2.5v2.5h-2.5zM324.1 472.7h2.5v2.5h-2.5zM355.4 472.7h2.5v2.5h-2.5zM326.4 475.0h2.5v2.5h-2.5zM357.7 475.0h2.5v2.5h-2.5zM328.6 477.2h2.5v2.5h-2.5zM359.9 477.2h2.5v2.5h-2.5zM330.8 479.5h2.5v2.5h-2.5zM362.2 479.5h2.5v2.5h-2.5zM333.1 481.7h2.5v2.5h-2.5zM335.3 483.9h2.5v2.5h-2.5zM337.5 486.2h2.5v2.5h-2.5zM339.8 488.4h2.5v2.5h-2.5zM342.0 490.7h2.5v2.5h-2.5zM344.3 492.9h2.5v2.5h-2.5zM346.5 495.2h2.5v2.5h-2.5z" fill="#ec9ea0" shape-rendering="crispEdges"/>
<path d="M321.9 441.3h2.5v2.5h-2.5zM324.1 443.6h2.5v2.5h-2.5zM326.4 445.8h2.5v2.5h-2.5zM328.6 448.1h2.5v2.5h-2.5zM330.8 450.3h2.5v2.5h-2.5zM333.1 452.6h2.5v2.5h-2.5zM308.4 454.8h2.5v2.5h-2.5zM335.3 454.8h2.5v2.5h-2.5zM310.7 457.0h2.5v2.5h-2.5zM337.5 457.0h2.5v2.5h-2.5zM312.9 459.3h2.5v2.5h-2.5zM339.8 459.3h2.5v2.5h-2.5zM315.2 461.5h2.5v2.5h-2.5zM342.0 461.5h2.5v2.5h-2.5zM317.4 463.8h2.5v2.5h-2.5zM344.3 463.8h2.5v2.5h-2.5zM319.6 466.0h2.5v2.5h-2.5zM346.5 466.0h2.5v2.5h-2.5zM321.9 468.3h2.5v2.5h-2.5zM348.7 468.3h2.5v2.5h-2.5zM324.1 470.5h2.5v2.5h-2.5zM351.0 470.5h2.5v2.5h-2.5zM326.4 472.7h2.5v2.5h-2.5zM353.2 472.7h2.5v2.5h-2.5zM328.6 475.0h2.5v2.5h-2.5zM355.4 475.0h2.5v2.5h-2.5zM330.8 477.2h2.5v2.5h-2.5zM357.7 477.2h2.5v2.5h-2.5zM333.1 479.5h2.5v2.5h-2.5zM359.9 479.5h2.5v2.5h-2.5zM335.3 481.7h2.5v2.5h-2.5zM362.2 481.7h2.5v2.5h-2.5zM337.5 483.9h2.5v2.5h-2.5zM339.8 486.2h2.5v2.5h-2.5zM342.0 488.4h2.5v2.5h-2.5zM344.3 490.7h2.5v2.5h-2.5zM346.5 492.9h2.5v2.5h-2.5zM348.7 495.2h2.5v2.5h-2.5z" fill="#ea9496" shape-rendering="crispEdges"/>
<path d="M319.6 441.3h2.5v2.5h-2.5zM321.9 443.6h2.5v2.5h-2.5zM324.1 445.8h2.5v2.5h-2.5zM326.4 448.1h2.5v2.5h-2.5zM328.6 450.3h2.5v2.5h-2.5zM330.8 452.6h2.5v2.5h-2.5zM333.1 454.8h2.5v2.5h-2.5zM335.3 457.0h2.5v2.5h-2.5zM337.5 459.3h2.5v2.5h-2.5zM339.8 461.5h2.5v2.5h-2.5zM342.0 463.8h2.5v2.5h-2.5zM344.3 466.0h2.5v2.5h-2.5zM346.5 468.3h2.5v2.5h-2.5zM348.7 470.5h2.5v2.5h-2.5zM351.0 472.7h2.5v2.5h-2.5zM353.2 475.0h2.5v2.5h-2.5zM355.4 477.2h2.5v2.5h-2.5zM357.7 479.5h2.5v2.5h-2.5zM359.9 481.7h2.5v2.5h-2.5zM362.2 483.9h2.5v2.5h-2.5z" fill="#e88a8c" shape-rendering="crispEdges"/>
<path d="M272.6 385.3h33.9v2.5h-33.9zM274.9 387.5h31.6v2.5h-31.6zM277.1 389.8h29.4v2.5h-29.4zM308.4 452.6h2.5v2.5h-2.5zM310.7 454.8h2.5v2.5h-2.5zM312.9 457.0h2.5v2.5h-2.5zM315.2 459.3h2.5v2.5h-2.5zM317.4 461.5h2.5v2.5h-2.5zM319.6 463.8h2.5v2.5h-2.5zM321.9 466.0h2.5v2.5h-2.5zM324.1 468.3h2.5v2.5h-2.5zM326.4 470.5h2.5v2.5h-2.5zM328.6 472.7h2.5v2.5h-2.5zM330.8 475.0h2.5v2.5h-2.5zM333.1 477.2h2.5v2.5h-2.5zM335.3 479.5h2.5v2.5h-2.5zM337.5 481.7h2.5v2.5h-2.5zM339.8 483.9h2.5v2.5h-2.5zM342.0 486.2h2.5v2.5h-2.5zM344.3 488.4h2.5v2.5h-2.5zM346.5 490.7h2.5v2.5h-2.5zM348.7 492.9h2.5v2.5h-2.5zM351.0 495.2h2.5v2.5h-2.5z" fill="#e78183" shape-rendering="crispEdges"/>
<path d="M265.9 385.3h7.0v2.5h-7.0zM268.2 387.5h7.0v2.5h-7.0zM270.4 389.8h7.0v2.5h-7.0zM252.5 407.7h2.5v2.5h-2.5zM252.5 410.0h4.8v2.5h-4.8zM252.5 412.2h7.0v2.5h-7.0zM252.5 414.4h9.3v2.5h-9.3zM252.5 416.7h11.5v2.5h-11.5zM252.5 418.9h13.7v2.5h-13.7zM252.5 421.2h16.0v2.5h-16.0zM252.5 423.4h18.2v2.5h-18.2zM252.5 425.7h20.4v2.5h-20.4zM252.5 427.9h22.7v2.5h-22.7zM252.5 430.1h24.9v2.5h-24.9zM252.5 432.4h27.2v2.5h-27.2zM252.5 434.6h29.4v2.5h-29.4zM252.5 436.9h31.6v2.5h-31.6zM252.5 439.1h33.9v2.5h-33.9zM317.4 441.3h2.5v2.5h-2.5zM319.6 443.6h2.5v2.5h-2.5zM321.9 445.8h2.5v2.5h-2.5zM324.1 448.1h2.5v2.5h-2.5zM308.4 450.3h2.5v2.5h-2.5zM326.4 450.3h2.5v2.5h-2.5zM310.7 452.6h2.5v2.5h-2.5zM328.6 452.6h2.5v2.5h-2.5zM312.9 454.8h2.5v2.5h-2.5zM330.8 454.8h2.5v2.5h-2.5zM315.2 457.0h2.5v2.5h-2.5zM333.1 457.0h2.5v2.5h-2.5zM317.4 459.3h2.5v2.5h-2.5zM335.3 459.3h2.5v2.5h-2.5zM319.6 461.5h2.5v2.5h-2.5zM337.5 461.5h2.5v2.5h-2.5zM321.9 463.8h2.5v2.5h-2.5zM339.8 463.8h2.5v2.5h-2.5zM324.1 466.0h2.5v2.5h-2.5zM342.0 466.0h2.5v2.5h-2.5zM326.4 468.3h2.5v2.5h-2.5zM344.3 468.3h2.5v2.5h-2.5zM328.6 470.5h2.5v2.5h-2.5zM346.5 470.5h2.5v2.5h-2.5zM330.8 472.7h2.5v2.5h-2.5zM348.7 472.7h2.5v2.5h-2.5zM333.1 475.0h2.5v2.5h-2.5zM351.0 475.0h2.5v2.5h-2.5zM335.3 477.2h2.5v2.5h-2.5zM353.2 477.2h2.5v2.5h-2.5zM337.5 479.5h2.5v2.5h-2.5zM355.4 479.5h2.5v2.5h-2.5zM339.8 481.7h2.5v2.5h-2.5zM357.7 481.7h2.5v2.5h-2.5zM342.0 483.9h2.5v2.5h-2.5zM359.9 483.9h2.5v2.5h-2.5zM344.3 486.2h2.5v2.5h-2.5zM362.2 486.2h2.5v2.5h-2.5zM346.5 488.4h2.5v2.5h-2.5zM348.7 490.7h2.5v2.5h-2.5zM351.0 492.9h2.5v2.5h-2.5zM353.2 495.2h2.5v2.5h-2.5z" fill="#e57779" shape-rendering="crispEdges"/>
<path d="M263.7 385.3h2.5v2.5h-2.5zM263.7 387.5h4.8v2.5h-4.8zM265.9 389.8h4.8v2.5h-4.8zM279.4 392.0h27.2v2.5h-27.2zM281.6 394.3h24.9v2.5h-24.9zM252.5 396.5h2.5v2.5h-2.5zM283.8 396.5h22.7v2.5h-22.7zM252.5 398.8h4.8v2.5h-4.8zM286.1 398.8h20.4v2.5h-20.4zM252.5 401.0h7.0v2.5h-7.0zM288.3 401.0h18.2v2.5h-18.2zM252.5 403.2h9.3v2.5h-9.3zM290.5 403.2h16.0v2.5h-16.0zM252.5 405.5h11.5v2.5h-11.5zM292.8 405.5h13.7v2.5h-13.7zM254.7 407.7h11.5v2.5h-11.5zM295.0 407.7h11.5v2.5h-11.5zM257.0 410.0h11.5v2.5h-11.5zM297.3 410.0h9.3v2.5h-9.3zM259.2 412.2h11.5v2.5h-11.5zM299.5 412.2h7.0v2.5h-7.0zM261.5 414.4h11.5v2.5h-11.5zM301.7 414.4h4.8v2.5h-4.8zM263.7 416.7h11.5v2.5h-11.5zM304.0 416.7h2.5v2.5h-2.5zM265.9 418.9h11.5v2.5h-11.5zM268.2 421.2h11.5v2.5h-11.5zM270.4 423.4h11.5v2.5h-11.5zM272.6 425.7h11.5v2.5h-11.5zM274.9 427.9h11.5v2.5h-11.5zM277.1 430.1h11.5v2.5h-11.5zM279.4 432.4h11.5v2.5h-11.5zM281.6 434.6h11.5v2.5h-11.5zM283.8 436.9h11.5v2.5h-11.5zM286.1 439.1h11.5v2.5h-11.5zM315.2 441.3h2.5v2.5h-2.5zM317.4 443.6h2.5v2.5h-2.5zM319.6 445.8h2.5v2.5h-2.5zM321.9 448.1h2.5v2.5h-2.5zM324.1 450.3h2.5v2.5h-2.5zM326.4 452.6h2.5v2.5h-2.5zM328.6 454.8h2.5v2.5h-2.5zM330.8 457.0h2.5v2.5h-2.5zM333.1 459.3h2.5v2.5h-2.5zM335.3 461.5h2.5v2.5h-2.5zM337.5 463.8h2.5v2.5h-2.5zM339.8 466.0h2.5v2.5h-2.5zM342.0 468.3h2.5v2.5h-2.5zM344.3 470.5h2.5v2.5h-2.5zM346.5 472.7h2.5v2.5h-2.5zM348.7 475.0h2.5v2.5h-2.5zM351.0 477.2h2.5v2.5h-2.5zM353.2 479.5h2.5v2.5h-2.5zM355.4 481.7h2.5v2.5h-2.5zM357.7 483.9h2.5v2.5h-2.5zM359.9 486.2h2.5v2.5h-2.5zM362.2 488.4h2.5v2.5h-2.5z" fill="#e36d70" shape-rendering="crispEdges"/>
<path d="M263.7 389.8h2.5v2.5h-2.5zM252.5 392.0h2.5v2.5h-2.5zM272.6 392.0h7.0v2.5h-7.0zM252.5 394.3h4.8v2.5h-4.8zM274.9 394.3h7.0v2.5h-7.0zM254.7 396.5h4.8v2.5h-4.8zM277.1 396.5h7.0v2.5h-7.0zM257.0 398.8h4.8v2.5h-4.8zM279.4 398.8h7.0v2.5h-7.0zM259.2 401.0h4.8v2.5h-4.8zM281.6 401.0h7.0v2.5h-7.0zM261.5 403.2h4.8v2.5h-4.8zM283.8 403.2h7.0v2.5h-7.0zM263.7 405.5h4.8v2.5h-4.8zM286.1 405.5h7.0v2.5h-7.0zM265.9 407.7h4.8v2.5h-4.8zM288.3 407.7h7.0v2.5h-7.0zM268.2 410.0h4.8v2.5h-4.8zM290.5 410.0h7.0v2.5h-7.0zM270.4 412.2h4.8v2.5h-4.8zM292.8 412.2h7.0v2.5h-7.0zM272.6 414.4h4.8v2.5h-4.8zM295.0 414.4h7.0v2.5h-7.0zM274.9 416.7h4.8v2.5h-4.8zM297.3 416.7h7.0v2.5h-7.0zM277.1 418.9h4.8v2.5h-4.8zM299.5 418.9h7.0v2.5h-7.0zM279.4 421.2h4.8v2.5h-4.8zM301.7 421.2h4.8v2.5h-4.8zM281.6 423.4h4.8v2.5h-4.8zM304.0 423.4h2.5v2.5h-2.5zM283.8 425.7h4.8v2.5h-4.8zM286.1 427.9h4.8v2.5h-4.8zM288.3 430.1h4.8v2.5h-4.8zM290.5 432.4h4.8v2.5h-4.8zM292.8 434.6h4.8v2.5h-4.8zM295.0 436.9h4.8v2.5h-4.8zM297.3 439.1h4.8v2.5h-4.8zM308.4 448.1h2.5v2.5h-2.5zM310.7 450.3h2.5v2.5h-2.5zM312.9 452.6h2.5v2.5h-2.5zM315.2 454.8h2.5v2.5h-2.5zM317.4 457.0h2.5v2.5h-2.5zM319.6 459.3h2.5v2.5h-2.5zM321.9 461.5h2.5v2.5h-2.5zM324.1 463.8h2.5v2.5h-2.5zM326.4 466.0h2.5v2.5h-2.5zM328.6 468.3h2.5v2.5h-2.5zM330.8 470.5h2.5v2.5h-2.5zM333.1 472.7h2.5v2.5h-2.5zM335.3 475.0h2.5v2.5h-2.5zM337.5 477.2h2.5v2.5h-2.5zM339.8 479.5h2.5v2.5h-2.5zM342.0 481.7h2.5v2.5h-2.5zM344.3 483.9h2.5v2.5h-2.5zM346.5 486.2h2.5v2.5h-2.5zM348.7 488.4h2.5v2.5h-2.5zM351.0 490.7h2.5v2.5h-2.5zM353.2 492.9h2.5v2.5h-2.5zM355.4 495.2h2.5v2.5h-2.5z" fill="#e16466" shape-rendering="crispEdges"/>
<path d="M261.5 385.3h2.5v2.5h-2.5zM268.2 392.0h4.8v2.5h-4.8zM270.4 394.3h4.8v2.5h-4.8zM272.6 396.5h4.8v2.5h-4.8zM274.9 398.8h4.8v2.5h-4.8zM277.1 401.0h4.8v2.5h-4.8zM279.4 403.2h4.8v2.5h-4.8zM281.6 405.5h4.8v2.5h-4.8zM283.8 407.7h4.8v2.5h-4.8zM286.1 410.0h4.8v2.5h-4.8zM288.3 412.2h4.8v2.5h-4.8zM290.5 414.4h4.8v2.5h-4.8zM292.8 416.7h4.8v2.5h-4.8zM295.0 418.9h4.8v2.5h-4.8zM297.3 421.2h4.8v2.5h-4.8zM299.5 423.4h4.8v2.5h-4.8zM301.7 425.7h4.8v2.5h-4.8zM304.0 427.9h2.5v2.5h-2.5z" fill="#df5a5d" shape-rendering="crispEdges"/>
<path d="M259.2 385.3h2.5v2.5h-2.5zM261.5 387.5h2.5v2.5h-2.5zM252.5 389.8h2.5v2.5h-2.5zM254.7 392.0h2.5v2.5h-2.5zM265.9 392.0h2.5v2.5h-2.5zM257.0 394.3h2.5v2.5h-2.5zM268.2 394.3h2.5v2.5h-2.5zM259.2 396.5h2.5v2.5h-2.5zM270.4 396.5h2.5v2.5h-2.5zM261.5 398.8h2.5v2.5h-2.5zM272.6 398.8h2.5v2.5h-2.5zM263.7 401.0h2.5v2.5h-2.5zM274.9 401.0h2.5v2.5h-2.5zM265.9 403.2h2.5v2.5h-2.5zM277.1 403.2h2.5v2.5h-2.5zM268.2 405.5h2.5v2.5h-2.5zM279.4 405.5h2.5v2.5h-2.5zM270.4 407.7h2.5v2.5h-2.5zM281.6 407.7h2.5v2.5h-2.5zM272.6 410.0h2.5v2.5h-2.5zM283.8 410.0h2.5v2.5h-2.5zM274.9 412.2h2.5v2.5h-2.5zM286.1 412.2h2.5v2.5h-2.5zM277.1 414.4h2.5v2.5h-2.5zM288.3 414.4h2.5v2.5h-2.5zM279.4 416.7h2.5v2.5h-2.5zM290.5 416.7h2.5v2.5h-2.5zM281.6 418.9h2.5v2.5h-2.5zM292.8 418.9h2.5v2.5h-2.5zM283.8 421.2h2.5v2.5h-2.5zM295.0 421.2h2.5v2.5h-2.5zM286.1 423.4h2.5v2.5h-2.5zM297.3 423.4h2.5v2.5h-2.5zM288.3 425.7h2.5v2.5h-2.5zM299.5 425.7h2.5v2.5h-2.5zM290.5 427.9h2.5v2.5h-2.5zM301.7 427.9h2.5v2.5h-2.5zM292.8 430.1h2.5v2.5h-2.5zM304.0 430.1h2.5v2.5h-2.5zM295.0 432.4h2.5v2.5h-2.5zM297.3 434.6h2.5v2.5h-2.5zM299.5 436.9h2.5v2.5h-2.5zM301.7 439.1h2.5v2.5h-2.5zM312.9 441.3h2.5v2.5h-2.5zM315.2 443.6h2.5v2.5h-2.5zM308.4 445.8h2.5v2.5h-2.5zM317.4 445.8h2.5v2.5h-2.5zM310.7 448.1h2.5v2.5h-2.5zM319.6 448.1h2.5v2.5h-2.5zM312.9 450.3h2.5v2.5h-2.5zM321.9 450.3h2.5v2.5h-2.5zM315.2 452.6h2.5v2.5h-2.5zM324.1 452.6h2.5v2.5h-2.5zM317.4 454.8h2.5v2.5h-2.5zM326.4 454.8h2.5v2.5h-2.5zM319.6 457.0h2.5v2.5h-2.5zM328.6 457.0h2.5v2.5h-2.5zM321.9 459.3h2.5v2.5h-2.5zM330.8 459.3h2.5v2.5h-2.5zM324.1 461.5h2.5v2.5h-2.5zM333.1 461.5h2.5v2.5h-2.5zM326.4 463.8h2.5v2.5h-2.5zM335.3 463.8h2.5v2.5h-2.5zM328.6 466.0h2.5v2.5h-2.5zM337.5 466.0h2.5v2.5h-2.5zM330.8 468.3h2.5v2.5h-2.5zM339.8 468.3h2.5v2.5h-2.5zM333.1 470.5h2.5v2.5h-2.5zM342.0 470.5h2.5v2.5h-2.5zM335.3 472.7h2.5v2.5h-2.5zM344.3 472.7h2.5v2.5h-2.5zM337.5 475.0h2.5v2.5h-2.5zM346.5 475.0h2.5v2.5h-2.5zM339.8 477.2h2.5v2.5h-2.5zM348.7 477.2h2.5v2.5h-2.5zM342.0 479.5h2.5v2.5h-2.5zM351.0 479.5h2.5v2.5h-2.5zM344.3 481.7h2.5v2.5h-2.5zM353.2 481.7h2.5v2.5h-2.5zM346.5 483.9h2.5v2.5h-2.5zM355.4 483.9h2.5v2.5h-2.5zM348.7 486.2h2.5v2.5h-2.5zM357.7 486.2h2.5v2.5h-2.5zM351.0 488.4h2.5v2.5h-2.5zM359.9 488.4h2.5v2.5h-2.5zM353.2 490.7h2.5v2.5h-2.5zM362.2 490.7h2.5v2.5h-2.5zM355.4 492.9h2.5v2.5h-2.5zM357.7 495.2h2.5v2.5h-2.5z" fill="#dd5053" shape-rendering="crispEdges"/>
<path d="M257.0 385.3h2.5v2.5h-2.5zM252.5 387.5h2.5v2.5h-2.5zM259.2 387.5h2.5v2.5h-2.5zM254.7 389.8h2.5v2.5h-2.5zM261.5 389.8h2.5v2.5h-2.5zM257.0 392.0h2.5v2.5h-2.5zM263.7 392.0h2.5v2.5h-2.5zM259.2 394.3h2.5v2.5h-2.5zM265.9 394.3h2.5v2.5h-2.5zM261.5 396.5h2.5v2.5h-2.5zM268.2 396.5h2.5v2.5h-2.5zM263.7 398.8h2.5v2.5h-2.5zM270.4 398.8h2.5v2.5h-2.5zM265.9 401.0h2.5v2.5h-2.5zM272.6 401.0h2.5v2.5h-2.5zM268.2 403.2h2.5v2.5h-2.5zM274.9 403.2h2.5v2.5h-2.5zM270.4 405.5h2.5v2.5h-2.5zM277.1 405.5h2.5v2.5h-2.5zM272.6 407.7h2.5v2.5h-2.5zM279.4 407.7h2.5v2.5h-2.5zM274.9 410.0h2.5v2.5h-2.5zM281.6 410.0h2.5v2.5h-2.5zM277.1 412.2h2.5v2.5h-2.5zM283.8 412.2h2.5v2.5h-2.5zM279.4 414.4h2.5v2.5h-2.5zM286.1 414.4h2.5v2.5h-2.5zM281.6 416.7h2.5v2.5h-2.5zM288.3 416.7h2.5v2.5h-2.5zM283.8 418.9h2.5v2.5h-2.5zM290.5 418.9h2.5v2.5h-2.5zM286.1 421.2h2.5v2.5h-2.5zM292.8 421.2h2.5v2.5h-2.5zM288.3 423.4h2.5v2.5h-2.5zM295.0 423.4h2.5v2.5h-2.5zM290.5 425.7h2.5v2.5h-2.5zM297.3 425.7h2.5v2.5h-2.5zM292.8 427.9h2.5v2.5h-2.5zM299.5 427.9h2.5v2.5h-2.5zM295.0 430.1h2.5v2.5h-2.5zM301.7 430.1h2.5v2.5h-2.5zM297.3 432.4h2.5v2.5h-2.5zM304.0 432.4h2.5v2.5h-2.5zM299.5 434.6h2.5v2.5h-2.5zM301.7 436.9h2.5v2.5h-2.5zM304.0 439.1h2.5v2.5h-2.5zM310.7 441.3h2.5v2.5h-2.5zM308.4 443.6h2.5v2.5h-2.5zM312.9 443.6h2.5v2.5h-2.5zM310.7 445.8h2.5v2.5h-2.5zM315.2 445.8h2.5v2.5h-2.5zM312.9 448.1h2.5v2.5h-2.5zM317.4 448.1h2.5v2.5h-2.5zM315.2 450.3h2.5v2.5h-2.5zM319.6 450.3h2.5v2.5h-2.5zM317.4 452.6h2.5v2.5h-2.5zM321.9 452.6h2.5v2.5h-2.5zM319.6 454.8h2.5v2.5h-2.5zM324.1 454.8h2.5v2.5h-2.5zM321.9 457.0h2.5v2.5h-2.5zM326.4 457.0h2.5v2.5h-2.5zM324.1 459.3h2.5v2.5h-2.5zM328.6 459.3h2.5v2.5h-2.5zM326.4 461.5h2.5v2.5h-2.5zM330.8 461.5h2.5v2.5h-2.5zM328.6 463.8h2.5v2.5h-2.5zM333.1 463.8h2.5v2.5h-2.5zM330.8 466.0h2.5v2.5h-2.5zM335.3 466.0h2.5v2.5h-2.5zM333.1 468.3h2.5v2.5h-2.5zM337.5 468.3h2.5v2.5h-2.5zM335.3 470.5h2.5v2.5h-2.5zM339.8 470.5h2.5v2.5h-2.5zM337.5 472.7h2.5v2.5h-2.5zM342.0 472.7h2.5v2.5h-2.5zM339.8 475.0h2.5v2.5h-2.5zM344.3 475.0h2.5v2.5h-2.5zM342.0 477.2h2.5v2.5h-2.5zM346.5 477.2h2.5v2.5h-2.5zM344.3 479.5h2.5v2.5h-2.5zM348.7 479.5h2.5v2.5h-2.5zM346.5 481.7h2.5v2.5h-2.5zM351.0 481.7h2.5v2.5h-2.5zM348.7 483.9h2.5v2.5h-2.5zM353.2 483.9h2.5v2.5h-2.5zM351.0 486.2h2.5v2.5h-2.5zM355.4 486.2h2.5v2.5h-2.5zM353.2 488.4h2.5v2.5h-2.5zM357.7 488.4h2.5v2.5h-2.5zM355.4 490.7h2.5v2.5h-2.5zM359.9 490.7h2.5v2.5h-2.5zM357.7 492.9h2.5v2.5h-2.5zM362.2 492.9h2.5v2.5h-2.5zM359.9 495.2h2.5v2.5h-2.5z" fill="#da3d40" shape-rendering="crispEdges"/>
<path d="M254.7 385.3h2.5v2.5h-2.5zM257.0 387.5h2.5v2.5h-2.5zM259.2 389.8h2.5v2.5h-2.5zM261.5 392.0h2.5v2.5h-2.5zM263.7 394.3h2.5v2.5h-2.5zM265.9 396.5h2.5v2.5h-2.5zM268.2 398.8h2.5v2.5h-2.5zM270.4 401.0h2.5v2.5h-2.5zM272.6 403.2h2.5v2.5h-2.5zM274.9 405.5h2.5v2.5h-2.5zM277.1 407.7h2.5v2.5h-2.5zM279.4 410.0h2.5v2.5h-2.5zM281.6 412.2h2.5v2.5h-2.5zM283.8 414.4h2.5v2.5h-2.5zM286.1 416.7h2.5v2.5h-2.5zM288.3 418.9h2.5v2.5h-2.5zM290.5 421.2h2.5v2.5h-2.5zM292.8 423.4h2.5v2.5h-2.5zM295.0 425.7h2.5v2.5h-2.5zM297.3 427.9h2.5v2.5h-2.5zM299.5 430.1h2.5v2.5h-2.5zM301.7 432.4h2.5v2.5h-2.5zM304.0 434.6h2.5v2.5h-2.5z" fill="#d83337" shape-rendering="crispEdges"/>
<path d="M252.5 385.3h2.5v2.5h-2.5zM254.7 387.5h2.5v2.5h-2.5zM257.0 389.8h2.5v2.5h-2.5zM259.2 392.0h2.5v2.5h-2.5zM261.5 394.3h2.5v2.5h-2.5zM263.7 396.5h2.5v2.5h-2.5zM265.9 398.8h2.5v2.5h-2.5zM268.2 401.0h2.5v2.5h-2.5zM270.4 403.2h2.5v2.5h-2.5zM272.6 405.5h2.5v2.5h-2.5zM274.9 407.7h2.5v2.5h-2.5zM277.1 410.0h2.5v2.5h-2.5zM279.4 412.2h2.5v2.5h-2.5zM281.6 414.4h2.5v2.5h-2.5zM283.8 416.7h2.5v2.5h-2.5zM286.1 418.9h2.5v2.5h-2.5zM288.3 421.2h2.5v2.5h-2.5zM290.5 423.4h2.5v2.5h-2.5zM292.8 425.7h2.5v2.5h-2.5zM295.0 427.9h2.5v2.5h-2.5zM297.3 430.1h2.5v2.5h-2.5zM299.5 432.4h2.5v2.5h-2.5zM301.7 434.6h2.5v2.5h-2.5zM304.0 436.9h2.5v2.5h-2.5zM308.4 441.3h2.5v2.5h-2.5zM310.7 443.6h2.5v2.5h-2.5zM312.9 445.8h2.5v2.5h-2.5zM315.2 448.1h2.5v2.5h-2.5zM317.4 450.3h2.5v2.5h-2.5zM319.6 452.6h2.5v2.5h-2.5zM321.9 454.8h2.5v2.5h-2.5zM324.1 457.0h2.5v2.5h-2.5zM326.4 459.3h2.5v2.5h-2.5zM328.6 461.5h2.5v2.5h-2.5zM330.8 463.8h2.5v2.5h-2.5zM333.1 466.0h2.5v2.5h-2.5zM335.3 468.3h2.5v2.5h-2.5zM337.5 470.5h2.5v2.5h-2.5zM339.8 472.7h2.5v2.5h-2.5zM342.0 475.0h2.5v2.5h-2.5zM344.3 477.2h2.5v2.5h-2.5zM346.5 479.5h2.5v2.5h-2.5zM348.7 481.7h2.5v2.5h-2.5zM351.0 483.9h2.5v2.5h-2.5zM353.2 486.2h2.5v2.5h-2.5zM355.4 488.4h2.5v2.5h-2.5zM357.7 490.7h2.5v2.5h-2.5zM359.9 492.9h2.5v2.5h-2.5zM362.2 495.2h2.5v2.5h-2.5z" fill="#d2161a" shape-rendering="crispEdges"/>
<line x1="252.5" y1="396.7" x2="263.9" y2="396.7" stroke="#fff" stroke-width="0.8" stroke-opacity="0.75"/>
<line x1="252.5" y1="401.5" x2="268.7" y2="401.5" stroke="#fff" stroke-width="0.8" stroke-opacity="0.75"/>
<line x1="252.5" y1="411.6" x2="278.8" y2="411.6" stroke="#fff" stroke-width="0.8" stroke-opacity="0.75"/>
<line x1="252.5" y1="415.2" x2="282.3" y2="415.2" stroke="#fff" stroke-width="0.8" stroke-opacity="0.75"/>
<line x1="252.5" y1="423.5" x2="290.6" y2="423.5" stroke="#fff" stroke-width="0.8" stroke-opacity="0.75"/>
<line x1="252.5" y1="430.0" x2="297.1" y2="430.0" stroke="#fff" stroke-width="0.8" stroke-opacity="0.75"/>
<line x1="252.5" y1="435.5" x2="302.6" y2="435.5" stroke="#fff" stroke-width="0.8" stroke-opacity="0.75"/>
<line x1="252.5" y1="437.3" x2="304.4" y2="437.3" stroke="#fff" stroke-width="0.8" stroke-opacity="0.75"/>
<line x1="268.5" y1="401.3" x2="268.5" y2="441.0" stroke="#fff" stroke-width="0.8" stroke-opacity="0.7"/>
<line x1="278.6" y1="411.4" x2="278.6" y2="441.0" stroke="#fff" stroke-width="0.8" stroke-opacity="0.7"/>
<line x1="284.6" y1="417.5" x2="284.6" y2="441.0" stroke="#fff" stroke-width="0.8" stroke-opacity="0.7"/>
<line x1="289.3" y1="422.2" x2="289.3" y2="441.0" stroke="#fff" stroke-width="0.8" stroke-opacity="0.7"/>
<line x1="297.7" y1="430.6" x2="297.7" y2="441.0" stroke="#fff" stroke-width="0.8" stroke-opacity="0.7"/>
<line x1="270.9" y1="385.3" x2="270.9" y2="403.7" stroke="#fff" stroke-width="0.8" stroke-opacity="0.5"/>
<line x1="302.0" y1="385.3" x2="302.0" y2="433.8" stroke="#fff" stroke-width="1.6" stroke-opacity="0.45"/>
<line x1="309.2" y1="448.8" x2="315.8" y2="448.8" stroke="#fff" stroke-width="0.8" stroke-opacity="0.7"/>
<line x1="309.2" y1="455.6" x2="322.7" y2="455.6" stroke="#fff" stroke-width="0.8" stroke-opacity="0.7"/>
<line x1="309.2" y1="460.0" x2="327.1" y2="460.0" stroke="#fff" stroke-width="0.8" stroke-opacity="0.7"/>
<line x1="309.2" y1="465.0" x2="332.1" y2="465.0" stroke="#fff" stroke-width="0.8" stroke-opacity="0.7"/>
<line x1="309.2" y1="476.2" x2="343.3" y2="476.2" stroke="#fff" stroke-width="0.8" stroke-opacity="0.7"/>
<line x1="309.2" y1="490.0" x2="357.0" y2="490.0" stroke="#fff" stroke-width="0.8" stroke-opacity="0.7"/>
<line x1="317.5" y1="450.4" x2="317.5" y2="497.4" stroke="#fff" stroke-width="0.8" stroke-opacity="0.65"/>
<line x1="322.5" y1="455.4" x2="322.5" y2="497.4" stroke="#fff" stroke-width="0.8" stroke-opacity="0.65"/>
<line x1="325.6" y1="458.5" x2="325.6" y2="497.4" stroke="#fff" stroke-width="0.8" stroke-opacity="0.65"/>
<line x1="332.5" y1="465.4" x2="332.5" y2="497.4" stroke="#fff" stroke-width="0.8" stroke-opacity="0.65"/>
<line x1="341.2" y1="474.2" x2="341.2" y2="497.4" stroke="#fff" stroke-width="0.8" stroke-opacity="0.65"/>
<line x1="326.0" y1="441.0" x2="326.0" y2="458.8" stroke="#fff" stroke-width="0.8" stroke-opacity="0.45"/>
<line x1="329.2" y1="449.0" x2="364.4" y2="449.0" stroke="#fff" stroke-width="0.8" stroke-opacity="0.4"/>
<text x="251.90" y="381.40" font-size="9.4" text-anchor="start" fill="#231f20" >chr2:543-552 Mb</text>
<rect x="252.50" y="385.30" width="111.90" height="112.10" fill="none" stroke="#2a2a2a" stroke-width="0.9"/>
<text x="247.70" y="389.45" font-size="8.2" text-anchor="end" fill="#231f20" >0</text>
<text x="247.70" y="402.75" font-size="8.2" text-anchor="end" fill="#231f20" >1</text>
<text x="247.70" y="415.05" font-size="8.2" text-anchor="end" fill="#231f20" >2</text>
<text x="247.70" y="429.05" font-size="8.2" text-anchor="end" fill="#231f20" >3</text>
<text x="247.70" y="442.25" font-size="8.2" text-anchor="end" fill="#231f20" >4</text>
<text x="247.70" y="455.65" font-size="8.2" text-anchor="end" fill="#231f20" >5</text>
<text x="247.70" y="469.15" font-size="8.2" text-anchor="end" fill="#231f20" >6</text>
<text x="247.70" y="482.35" font-size="8.2" text-anchor="end" fill="#231f20" >7</text>
<text x="247.70" y="495.05" font-size="8.2" text-anchor="end" fill="#231f20" >8</text>
<line x1="250.30" y1="385.40" x2="252.50" y2="385.40" stroke="#2a2a2a" stroke-width="0.8" />
<line x1="250.30" y1="398.50" x2="252.50" y2="398.50" stroke="#2a2a2a" stroke-width="0.8" />
<line x1="250.30" y1="412.30" x2="252.50" y2="412.30" stroke="#2a2a2a" stroke-width="0.8" />
<line x1="250.30" y1="425.90" x2="252.50" y2="425.90" stroke="#2a2a2a" stroke-width="0.8" />
<line x1="250.30" y1="439.50" x2="252.50" y2="439.50" stroke="#2a2a2a" stroke-width="0.8" />
<line x1="250.30" y1="452.70" x2="252.50" y2="452.70" stroke="#2a2a2a" stroke-width="0.8" />
<line x1="250.30" y1="466.20" x2="252.50" y2="466.20" stroke="#2a2a2a" stroke-width="0.8" />
<line x1="250.30" y1="479.40" x2="252.50" y2="479.40" stroke="#2a2a2a" stroke-width="0.8" />
<line x1="250.30" y1="492.50" x2="252.50" y2="492.50" stroke="#2a2a2a" stroke-width="0.8" />
<text x="253.50" y="507.15" font-size="8.2" text-anchor="middle" fill="#231f20" >0</text>
<text x="264.00" y="507.15" font-size="8.2" text-anchor="middle" fill="#231f20" >1</text>
<text x="281.40" y="507.15" font-size="8.2" text-anchor="middle" fill="#231f20" >2</text>
<text x="292.40" y="507.15" font-size="8.2" text-anchor="middle" fill="#231f20" >3</text>
<text x="305.70" y="507.15" font-size="8.2" text-anchor="middle" fill="#231f20" >4</text>
<text x="321.30" y="507.15" font-size="8.2" text-anchor="middle" fill="#231f20" >5</text>
<text x="333.30" y="507.15" font-size="8.2" text-anchor="middle" fill="#231f20" >6</text>
<text x="346.50" y="507.15" font-size="8.2" text-anchor="middle" fill="#231f20" >7</text>
<text x="359.80" y="507.15" font-size="8.2" text-anchor="middle" fill="#231f20" >8</text>
<line x1="252.60" y1="497.40" x2="252.60" y2="499.60" stroke="#2a2a2a" stroke-width="0.8" />
<line x1="266.30" y1="497.40" x2="266.30" y2="499.60" stroke="#2a2a2a" stroke-width="0.8" />
<line x1="279.70" y1="497.40" x2="279.70" y2="499.60" stroke="#2a2a2a" stroke-width="0.8" />
<line x1="293.40" y1="497.40" x2="293.40" y2="499.60" stroke="#2a2a2a" stroke-width="0.8" />
<line x1="306.70" y1="497.40" x2="306.70" y2="499.60" stroke="#2a2a2a" stroke-width="0.8" />
<line x1="320.50" y1="497.40" x2="320.50" y2="499.60" stroke="#2a2a2a" stroke-width="0.8" />
<line x1="333.80" y1="497.40" x2="333.80" y2="499.60" stroke="#2a2a2a" stroke-width="0.8" />
<line x1="346.90" y1="497.40" x2="346.90" y2="499.60" stroke="#2a2a2a" stroke-width="0.8" />
<line x1="360.80" y1="497.40" x2="360.80" y2="499.60" stroke="#2a2a2a" stroke-width="0.8" />
<text x="369.80" y="507.15" font-size="8.2" text-anchor="middle" fill="#231f20" >Mb</text>
<text x="318.30" y="396.30" font-size="8.1" text-anchor="start" fill="#231f20" >female MCR</text>
<text x="258.80" y="490.20" font-size="8.0" text-anchor="start" fill="#231f20" >MRE</text>
<line x1="252.50" y1="385.30" x2="364.40" y2="497.40" stroke="#141414" stroke-width="1.05" />
<path d="M459.5 385.5h53.7v2.5h-53.7zM459.5 387.7h53.7v2.5h-53.7zM459.5 390.0h53.7v2.5h-53.7zM459.5 392.2h53.7v2.5h-53.7zM459.5 394.4h53.7v2.5h-53.7zM459.5 396.7h53.7v2.5h-53.7zM459.5 398.9h53.7v2.5h-53.7zM459.5 401.1h53.7v2.5h-53.7zM459.5 403.4h53.7v2.5h-53.7zM459.5 405.6h53.7v2.5h-53.7zM459.5 407.8h53.7v2.5h-53.7zM459.5 410.1h53.7v2.5h-53.7zM459.5 412.3h53.7v2.5h-53.7zM459.5 414.5h53.7v2.5h-53.7zM459.5 416.8h53.7v2.5h-53.7zM459.5 419.0h53.7v2.5h-53.7zM459.5 421.2h53.7v2.5h-53.7zM459.5 423.5h53.7v2.5h-53.7zM459.5 425.7h53.7v2.5h-53.7zM459.5 427.9h53.7v2.5h-53.7z" fill="#fbecec" shape-rendering="crispEdges"/>
<path d="M466.2 430.2h2.5v2.5h-2.5zM472.9 430.2h9.2v2.5h-9.2zM486.2 430.2h9.2v2.5h-9.2zM499.6 430.2h2.5v2.5h-2.5zM504.0 430.2h2.5v2.5h-2.5zM510.7 430.2h2.5v2.5h-2.5zM466.2 432.4h9.2v2.5h-9.2zM479.5 432.4h18.1v2.5h-18.1zM504.0 432.4h2.5v2.5h-2.5zM510.7 432.4h2.5v2.5h-2.5zM403.9 434.6h2.5v2.5h-2.5zM468.4 434.6h2.5v2.5h-2.5zM475.1 434.6h18.1v2.5h-18.1zM495.1 434.6h9.2v2.5h-9.2zM506.2 434.6h7.0v2.5h-7.0zM403.9 436.9h4.7v2.5h-4.7zM477.3 436.9h4.7v2.5h-4.7zM486.2 436.9h2.5v2.5h-2.5zM490.7 436.9h2.5v2.5h-2.5zM497.3 436.9h4.7v2.5h-4.7zM504.0 436.9h4.7v2.5h-4.7zM510.7 436.9h2.5v2.5h-2.5zM401.7 439.1h2.5v2.5h-2.5zM406.1 439.1h2.5v2.5h-2.5zM472.9 439.1h2.5v2.5h-2.5zM481.8 439.1h2.5v2.5h-2.5zM486.2 439.1h4.7v2.5h-4.7zM495.1 439.1h13.6v2.5h-13.6zM510.7 439.1h2.5v2.5h-2.5z" fill="#f9e2e2" shape-rendering="crispEdges"/>
<path d="M401.7 412.3h2.5v2.5h-2.5zM403.9 414.5h2.5v2.5h-2.5zM401.7 416.8h2.5v2.5h-2.5zM403.9 419.0h2.5v2.5h-2.5zM403.9 421.2h4.7v2.5h-4.7zM406.1 423.5h2.5v2.5h-2.5zM403.9 430.2h2.5v2.5h-2.5zM459.5 430.2h7.0v2.5h-7.0zM468.4 430.2h4.7v2.5h-4.7zM481.8 430.2h4.7v2.5h-4.7zM495.1 430.2h4.7v2.5h-4.7zM501.8 430.2h2.5v2.5h-2.5zM506.2 430.2h4.7v2.5h-4.7zM459.5 432.4h7.0v2.5h-7.0zM475.1 432.4h4.7v2.5h-4.7zM497.3 432.4h7.0v2.5h-7.0zM506.2 432.4h4.7v2.5h-4.7zM401.7 434.6h2.5v2.5h-2.5zM406.1 434.6h2.5v2.5h-2.5zM464.0 434.6h4.7v2.5h-4.7zM470.6 434.6h4.7v2.5h-4.7zM492.9 434.6h2.5v2.5h-2.5zM504.0 434.6h2.5v2.5h-2.5zM401.7 436.9h2.5v2.5h-2.5zM466.2 436.9h11.4v2.5h-11.4zM481.8 436.9h4.7v2.5h-4.7zM488.4 436.9h2.5v2.5h-2.5zM492.9 436.9h4.7v2.5h-4.7zM501.8 436.9h2.5v2.5h-2.5zM508.5 436.9h2.5v2.5h-2.5zM403.9 439.1h2.5v2.5h-2.5zM466.2 439.1h2.5v2.5h-2.5zM470.6 439.1h2.5v2.5h-2.5zM475.1 439.1h7.0v2.5h-7.0zM484.0 439.1h2.5v2.5h-2.5zM490.7 439.1h4.7v2.5h-4.7zM508.5 439.1h2.5v2.5h-2.5z" fill="#f8d8d9" shape-rendering="crispEdges"/>
<path d="M455.1 385.5h2.5v2.5h-2.5zM450.6 387.7h2.5v2.5h-2.5zM403.9 401.1h2.5v2.5h-2.5zM401.7 403.4h2.5v2.5h-2.5zM401.7 405.6h2.5v2.5h-2.5zM401.7 407.8h7.0v2.5h-7.0zM401.7 410.1h7.0v2.5h-7.0zM403.9 412.3h4.7v2.5h-4.7zM401.7 414.5h2.5v2.5h-2.5zM406.1 414.5h2.5v2.5h-2.5zM403.9 416.8h4.7v2.5h-4.7zM401.7 419.0h2.5v2.5h-2.5zM406.1 419.0h2.5v2.5h-2.5zM401.7 421.2h2.5v2.5h-2.5zM401.7 423.5h4.7v2.5h-4.7zM401.7 425.7h7.0v2.5h-7.0zM401.7 427.9h7.0v2.5h-7.0zM401.7 430.2h2.5v2.5h-2.5zM406.1 430.2h2.5v2.5h-2.5zM401.7 432.4h7.0v2.5h-7.0zM459.5 434.6h4.7v2.5h-4.7zM459.5 436.9h7.0v2.5h-7.0zM461.7 439.1h4.7v2.5h-4.7zM468.4 439.1h2.5v2.5h-2.5zM495.1 441.4h4.7v2.5h-4.7zM497.3 443.6h2.5v2.5h-2.5zM495.1 445.8h4.7v2.5h-4.7zM497.3 452.5h2.5v2.5h-2.5zM497.3 457.0h2.5v2.5h-2.5zM497.3 459.2h2.5v2.5h-2.5z" fill="#f6cecf" shape-rendering="crispEdges"/>
<path d="M450.6 385.5h4.7v2.5h-4.7zM457.3 385.5h2.5v2.5h-2.5zM452.9 387.7h7.0v2.5h-7.0zM401.7 396.7h2.5v2.5h-2.5zM401.7 398.9h4.7v2.5h-4.7zM401.7 401.1h2.5v2.5h-2.5zM406.1 401.1h2.5v2.5h-2.5zM403.9 403.4h4.7v2.5h-4.7zM403.9 405.6h4.7v2.5h-4.7zM412.8 434.6h11.4v2.5h-11.4zM426.2 434.6h2.5v2.5h-2.5zM408.4 436.9h2.5v2.5h-2.5zM412.8 436.9h4.7v2.5h-4.7zM426.2 436.9h4.7v2.5h-4.7zM408.4 439.1h4.7v2.5h-4.7zM417.3 439.1h4.7v2.5h-4.7zM426.2 439.1h7.0v2.5h-7.0zM435.1 439.1h2.5v2.5h-2.5zM472.9 441.4h2.5v2.5h-2.5zM495.1 443.6h2.5v2.5h-2.5zM475.1 445.8h2.5v2.5h-2.5zM495.1 448.1h4.7v2.5h-4.7zM495.1 450.3h4.7v2.5h-4.7zM495.1 452.5h2.5v2.5h-2.5zM495.1 454.8h4.7v2.5h-4.7zM495.1 457.0h2.5v2.5h-2.5zM495.1 459.2h2.5v2.5h-2.5zM495.1 461.5h4.7v2.5h-4.7zM495.1 463.7h4.7v2.5h-4.7zM497.3 465.9h2.5v2.5h-2.5zM497.3 468.2h2.5v2.5h-2.5z" fill="#f4c5c6" shape-rendering="crispEdges"/>
<path d="M432.8 385.5h9.2v2.5h-9.2zM444.0 385.5h4.7v2.5h-4.7zM439.5 387.7h9.2v2.5h-9.2zM401.7 392.2h2.5v2.5h-2.5zM401.7 394.4h4.7v2.5h-4.7zM403.9 396.7h4.7v2.5h-4.7zM406.1 398.9h2.5v2.5h-2.5zM408.4 434.6h4.7v2.5h-4.7zM423.9 434.6h2.5v2.5h-2.5zM428.4 434.6h7.0v2.5h-7.0zM410.6 436.9h2.5v2.5h-2.5zM417.3 436.9h9.2v2.5h-9.2zM432.8 436.9h7.0v2.5h-7.0zM412.8 439.1h4.7v2.5h-4.7zM421.7 439.1h4.7v2.5h-4.7zM432.8 439.1h2.5v2.5h-2.5zM437.3 439.1h7.0v2.5h-7.0zM459.5 439.1h2.5v2.5h-2.5zM475.1 441.4h2.5v2.5h-2.5zM472.9 443.6h4.7v2.5h-4.7zM486.2 443.6h2.5v2.5h-2.5zM504.0 445.8h2.5v2.5h-2.5zM475.1 448.1h2.5v2.5h-2.5zM501.8 448.1h2.5v2.5h-2.5zM506.2 454.8h2.5v2.5h-2.5zM506.2 459.2h2.5v2.5h-2.5zM495.1 465.9h2.5v2.5h-2.5zM459.5 474.9h2.5v2.5h-2.5zM466.2 477.1h2.5v2.5h-2.5zM464.0 479.3h2.5v2.5h-2.5zM464.0 486.0h2.5v2.5h-2.5zM468.4 486.0h2.5v2.5h-2.5zM461.7 488.3h2.5v2.5h-2.5zM470.6 492.7h4.7v2.5h-4.7zM481.8 492.7h2.5v2.5h-2.5zM459.5 495.0h2.5v2.5h-2.5z" fill="#f2bbbc" shape-rendering="crispEdges"/>
<path d="M417.3 385.5h2.5v2.5h-2.5zM423.9 385.5h4.7v2.5h-4.7zM441.7 385.5h2.5v2.5h-2.5zM448.4 385.5h2.5v2.5h-2.5zM421.7 387.7h18.1v2.5h-18.1zM448.4 387.7h2.5v2.5h-2.5zM401.7 390.0h2.5v2.5h-2.5zM452.9 390.0h7.0v2.5h-7.0zM450.6 392.2h2.5v2.5h-2.5zM457.3 392.2h2.5v2.5h-2.5zM452.9 394.4h2.5v2.5h-2.5zM457.3 394.4h2.5v2.5h-2.5zM452.9 396.7h4.7v2.5h-4.7zM450.6 398.9h7.0v2.5h-7.0zM452.9 401.1h2.5v2.5h-2.5zM457.3 401.1h2.5v2.5h-2.5zM457.3 403.4h2.5v2.5h-2.5zM452.9 405.6h2.5v2.5h-2.5zM457.3 405.6h2.5v2.5h-2.5zM450.6 410.1h2.5v2.5h-2.5zM457.3 410.1h2.5v2.5h-2.5zM408.4 414.5h2.5v2.5h-2.5zM455.1 414.5h4.7v2.5h-4.7zM408.4 416.8h4.7v2.5h-4.7zM410.6 419.0h2.5v2.5h-2.5zM408.4 421.2h4.7v2.5h-4.7zM408.4 423.5h2.5v2.5h-2.5zM412.8 423.5h2.5v2.5h-2.5zM410.6 425.7h4.7v2.5h-4.7zM419.5 425.7h2.5v2.5h-2.5zM410.6 427.9h2.5v2.5h-2.5zM415.0 427.9h4.7v2.5h-4.7zM412.8 430.2h4.7v2.5h-4.7zM419.5 430.2h4.7v2.5h-4.7zM408.4 432.4h2.5v2.5h-2.5zM415.0 432.4h7.0v2.5h-7.0zM435.1 434.6h7.0v2.5h-7.0zM430.6 436.9h2.5v2.5h-2.5zM439.5 436.9h2.5v2.5h-2.5zM481.8 441.4h4.7v2.5h-4.7zM488.4 441.4h7.0v2.5h-7.0zM499.6 441.4h2.5v2.5h-2.5zM506.2 441.4h7.0v2.5h-7.0zM484.0 443.6h2.5v2.5h-2.5zM488.4 443.6h4.7v2.5h-4.7zM499.6 443.6h9.2v2.5h-9.2zM510.7 443.6h2.5v2.5h-2.5zM472.9 445.8h2.5v2.5h-2.5zM486.2 445.8h4.7v2.5h-4.7zM492.9 445.8h2.5v2.5h-2.5zM506.2 445.8h2.5v2.5h-2.5zM510.7 445.8h2.5v2.5h-2.5zM488.4 448.1h4.7v2.5h-4.7zM499.6 448.1h2.5v2.5h-2.5zM504.0 448.1h9.2v2.5h-9.2zM475.1 450.3h2.5v2.5h-2.5zM492.9 450.3h2.5v2.5h-2.5zM499.6 450.3h2.5v2.5h-2.5zM504.0 450.3h2.5v2.5h-2.5zM508.5 450.3h4.7v2.5h-4.7zM492.9 452.5h2.5v2.5h-2.5zM504.0 452.5h7.0v2.5h-7.0zM459.5 454.8h2.5v2.5h-2.5zM499.6 454.8h2.5v2.5h-2.5zM508.5 454.8h4.7v2.5h-4.7zM459.5 457.0h4.7v2.5h-4.7zM499.6 457.0h2.5v2.5h-2.5zM506.2 457.0h2.5v2.5h-2.5zM510.7 457.0h2.5v2.5h-2.5zM459.5 463.7h2.5v2.5h-2.5zM459.5 465.9h2.5v2.5h-2.5zM510.7 465.9h2.5v2.5h-2.5zM459.5 468.2h2.5v2.5h-2.5zM495.1 468.2h2.5v2.5h-2.5zM506.2 468.2h4.7v2.5h-4.7zM459.5 470.4h2.5v2.5h-2.5zM466.2 470.4h2.5v2.5h-2.5zM508.5 470.4h2.5v2.5h-2.5zM464.0 472.6h4.7v2.5h-4.7zM508.5 472.6h2.5v2.5h-2.5zM461.7 474.9h2.5v2.5h-2.5zM466.2 474.9h9.2v2.5h-9.2zM508.5 474.9h4.7v2.5h-4.7zM461.7 477.1h2.5v2.5h-2.5zM468.4 477.1h2.5v2.5h-2.5zM475.1 477.1h2.5v2.5h-2.5zM459.5 479.3h2.5v2.5h-2.5zM466.2 479.3h9.2v2.5h-9.2zM459.5 481.6h2.5v2.5h-2.5zM468.4 481.6h2.5v2.5h-2.5zM475.1 481.6h2.5v2.5h-2.5zM481.8 481.6h2.5v2.5h-2.5zM459.5 483.8h2.5v2.5h-2.5zM466.2 483.8h4.7v2.5h-4.7zM475.1 483.8h2.5v2.5h-2.5zM479.5 483.8h2.5v2.5h-2.5zM459.5 486.0h2.5v2.5h-2.5zM466.2 486.0h2.5v2.5h-2.5zM470.6 486.0h4.7v2.5h-4.7zM481.8 486.0h2.5v2.5h-2.5zM470.6 488.3h7.0v2.5h-7.0zM488.4 488.3h2.5v2.5h-2.5zM461.7 490.5h2.5v2.5h-2.5zM470.6 490.5h9.2v2.5h-9.2zM484.0 490.5h2.5v2.5h-2.5zM459.5 492.7h2.5v2.5h-2.5zM468.4 492.7h2.5v2.5h-2.5zM475.1 492.7h2.5v2.5h-2.5zM479.5 492.7h2.5v2.5h-2.5zM486.2 492.7h2.5v2.5h-2.5zM464.0 495.0h2.5v2.5h-2.5zM468.4 495.0h2.5v2.5h-2.5zM472.9 495.0h2.5v2.5h-2.5zM477.3 495.0h4.7v2.5h-4.7zM484.0 495.0h2.5v2.5h-2.5z" fill="#f0b1b3" shape-rendering="crispEdges"/>
<path d="M412.8 385.5h2.5v2.5h-2.5zM419.5 385.5h4.7v2.5h-4.7zM428.4 385.5h4.7v2.5h-4.7zM401.7 387.7h2.5v2.5h-2.5zM417.3 387.7h4.7v2.5h-4.7zM448.4 390.0h4.7v2.5h-4.7zM403.9 392.2h4.7v2.5h-4.7zM455.1 392.2h2.5v2.5h-2.5zM406.1 394.4h2.5v2.5h-2.5zM450.6 394.4h2.5v2.5h-2.5zM455.1 394.4h2.5v2.5h-2.5zM450.6 396.7h2.5v2.5h-2.5zM457.3 396.7h2.5v2.5h-2.5zM457.3 398.9h2.5v2.5h-2.5zM455.1 401.1h2.5v2.5h-2.5zM450.6 403.4h4.7v2.5h-4.7zM455.1 405.6h2.5v2.5h-2.5zM452.9 407.8h2.5v2.5h-2.5zM408.4 410.1h4.7v2.5h-4.7zM455.1 410.1h2.5v2.5h-2.5zM455.1 412.3h4.7v2.5h-4.7zM410.6 414.5h4.7v2.5h-4.7zM450.6 414.5h4.7v2.5h-4.7zM412.8 416.8h9.2v2.5h-9.2zM450.6 416.8h2.5v2.5h-2.5zM455.1 416.8h4.7v2.5h-4.7zM408.4 419.0h2.5v2.5h-2.5zM412.8 419.0h9.2v2.5h-9.2zM452.9 419.0h2.5v2.5h-2.5zM457.3 419.0h2.5v2.5h-2.5zM415.0 421.2h4.7v2.5h-4.7zM421.7 421.2h2.5v2.5h-2.5zM452.9 421.2h2.5v2.5h-2.5zM410.6 423.5h2.5v2.5h-2.5zM415.0 423.5h2.5v2.5h-2.5zM419.5 423.5h7.0v2.5h-7.0zM457.3 423.5h2.5v2.5h-2.5zM408.4 425.7h2.5v2.5h-2.5zM415.0 425.7h2.5v2.5h-2.5zM421.7 425.7h2.5v2.5h-2.5zM408.4 427.9h2.5v2.5h-2.5zM412.8 427.9h2.5v2.5h-2.5zM419.5 427.9h7.0v2.5h-7.0zM408.4 430.2h4.7v2.5h-4.7zM417.3 430.2h2.5v2.5h-2.5zM426.2 430.2h2.5v2.5h-2.5zM430.6 430.2h2.5v2.5h-2.5zM410.6 432.4h2.5v2.5h-2.5zM421.7 432.4h2.5v2.5h-2.5zM441.7 434.6h2.5v2.5h-2.5zM441.7 436.9h7.0v2.5h-7.0zM444.0 439.1h2.5v2.5h-2.5zM477.3 441.4h2.5v2.5h-2.5zM486.2 441.4h2.5v2.5h-2.5zM501.8 441.4h4.7v2.5h-4.7zM477.3 443.6h2.5v2.5h-2.5zM481.8 443.6h2.5v2.5h-2.5zM492.9 443.6h2.5v2.5h-2.5zM508.5 443.6h2.5v2.5h-2.5zM484.0 445.8h2.5v2.5h-2.5zM490.7 445.8h2.5v2.5h-2.5zM499.6 445.8h4.7v2.5h-4.7zM508.5 445.8h2.5v2.5h-2.5zM472.9 448.1h2.5v2.5h-2.5zM481.8 448.1h2.5v2.5h-2.5zM486.2 448.1h2.5v2.5h-2.5zM492.9 448.1h2.5v2.5h-2.5zM488.4 450.3h4.7v2.5h-4.7zM501.8 450.3h2.5v2.5h-2.5zM506.2 450.3h2.5v2.5h-2.5zM475.1 452.5h2.5v2.5h-2.5zM484.0 452.5h4.7v2.5h-4.7zM499.6 452.5h4.7v2.5h-4.7zM510.7 452.5h2.5v2.5h-2.5zM461.7 454.8h2.5v2.5h-2.5zM488.4 454.8h2.5v2.5h-2.5zM492.9 454.8h2.5v2.5h-2.5zM501.8 454.8h4.7v2.5h-4.7zM464.0 457.0h2.5v2.5h-2.5zM490.7 457.0h2.5v2.5h-2.5zM501.8 457.0h4.7v2.5h-4.7zM508.5 457.0h2.5v2.5h-2.5zM459.5 459.2h4.7v2.5h-4.7zM499.6 459.2h7.0v2.5h-7.0zM508.5 459.2h4.7v2.5h-4.7zM490.7 461.5h2.5v2.5h-2.5zM499.6 461.5h2.5v2.5h-2.5zM504.0 461.5h9.2v2.5h-9.2zM461.7 463.7h2.5v2.5h-2.5zM499.6 463.7h13.6v2.5h-13.6zM466.2 465.9h2.5v2.5h-2.5zM499.6 465.9h11.4v2.5h-11.4zM464.0 468.2h2.5v2.5h-2.5zM504.0 468.2h2.5v2.5h-2.5zM510.7 468.2h2.5v2.5h-2.5zM461.7 470.4h2.5v2.5h-2.5zM470.6 470.4h2.5v2.5h-2.5zM506.2 470.4h2.5v2.5h-2.5zM510.7 470.4h2.5v2.5h-2.5zM459.5 472.6h4.7v2.5h-4.7zM468.4 472.6h2.5v2.5h-2.5zM472.9 472.6h2.5v2.5h-2.5zM501.8 472.6h4.7v2.5h-4.7zM510.7 472.6h2.5v2.5h-2.5zM464.0 474.9h2.5v2.5h-2.5zM475.1 474.9h2.5v2.5h-2.5zM459.5 477.1h2.5v2.5h-2.5zM464.0 477.1h2.5v2.5h-2.5zM470.6 477.1h4.7v2.5h-4.7zM477.3 477.1h4.7v2.5h-4.7zM506.2 477.1h2.5v2.5h-2.5zM510.7 477.1h2.5v2.5h-2.5zM461.7 479.3h2.5v2.5h-2.5zM475.1 479.3h4.7v2.5h-4.7zM510.7 479.3h2.5v2.5h-2.5zM461.7 481.6h7.0v2.5h-7.0zM470.6 481.6h4.7v2.5h-4.7zM510.7 481.6h2.5v2.5h-2.5zM461.7 483.8h4.7v2.5h-4.7zM470.6 483.8h4.7v2.5h-4.7zM477.3 483.8h2.5v2.5h-2.5zM481.8 483.8h2.5v2.5h-2.5zM461.7 486.0h2.5v2.5h-2.5zM475.1 486.0h7.0v2.5h-7.0zM484.0 486.0h2.5v2.5h-2.5zM459.5 488.3h2.5v2.5h-2.5zM464.0 488.3h7.0v2.5h-7.0zM477.3 488.3h11.4v2.5h-11.4zM459.5 490.5h2.5v2.5h-2.5zM464.0 490.5h7.0v2.5h-7.0zM479.5 490.5h2.5v2.5h-2.5zM461.7 492.7h7.0v2.5h-7.0zM477.3 492.7h2.5v2.5h-2.5zM484.0 492.7h2.5v2.5h-2.5zM488.4 492.7h4.7v2.5h-4.7zM461.7 495.0h2.5v2.5h-2.5zM466.2 495.0h2.5v2.5h-2.5zM470.6 495.0h2.5v2.5h-2.5zM475.1 495.0h2.5v2.5h-2.5zM481.8 495.0h2.5v2.5h-2.5zM486.2 495.0h11.4v2.5h-11.4z" fill="#eea8a9" shape-rendering="crispEdges"/>
<path d="M410.6 385.5h2.5v2.5h-2.5zM415.0 385.5h2.5v2.5h-2.5zM412.8 387.7h4.7v2.5h-4.7zM403.9 390.0h2.5v2.5h-2.5zM432.8 390.0h2.5v2.5h-2.5zM441.7 390.0h7.0v2.5h-7.0zM441.7 392.2h2.5v2.5h-2.5zM448.4 392.2h2.5v2.5h-2.5zM452.9 392.2h2.5v2.5h-2.5zM441.7 394.4h2.5v2.5h-2.5zM446.2 396.7h2.5v2.5h-2.5zM439.5 398.9h2.5v2.5h-2.5zM446.2 398.9h2.5v2.5h-2.5zM448.4 401.1h4.7v2.5h-4.7zM446.2 403.4h2.5v2.5h-2.5zM455.1 403.4h2.5v2.5h-2.5zM410.6 405.6h2.5v2.5h-2.5zM448.4 405.6h4.7v2.5h-4.7zM450.6 407.8h2.5v2.5h-2.5zM455.1 407.8h4.7v2.5h-4.7zM412.8 410.1h2.5v2.5h-2.5zM448.4 410.1h2.5v2.5h-2.5zM452.9 410.1h2.5v2.5h-2.5zM408.4 412.3h9.2v2.5h-9.2zM450.6 412.3h4.7v2.5h-4.7zM415.0 414.5h2.5v2.5h-2.5zM421.7 419.0h2.5v2.5h-2.5zM450.6 419.0h2.5v2.5h-2.5zM412.8 421.2h2.5v2.5h-2.5zM419.5 421.2h2.5v2.5h-2.5zM423.9 421.2h2.5v2.5h-2.5zM457.3 421.2h2.5v2.5h-2.5zM417.3 423.5h2.5v2.5h-2.5zM426.2 423.5h2.5v2.5h-2.5zM452.9 423.5h4.7v2.5h-4.7zM417.3 425.7h2.5v2.5h-2.5zM423.9 425.7h2.5v2.5h-2.5zM455.1 425.7h4.7v2.5h-4.7zM426.2 427.9h7.0v2.5h-7.0zM423.9 430.2h2.5v2.5h-2.5zM428.4 430.2h2.5v2.5h-2.5zM432.8 430.2h2.5v2.5h-2.5zM412.8 432.4h2.5v2.5h-2.5zM423.9 432.4h13.6v2.5h-13.6zM444.0 434.6h2.5v2.5h-2.5zM448.4 436.9h2.5v2.5h-2.5zM446.2 439.1h4.7v2.5h-4.7zM479.5 441.4h2.5v2.5h-2.5zM470.6 443.6h2.5v2.5h-2.5zM479.5 443.6h2.5v2.5h-2.5zM477.3 445.8h7.0v2.5h-7.0zM484.0 448.1h2.5v2.5h-2.5zM472.9 450.3h2.5v2.5h-2.5zM479.5 450.3h2.5v2.5h-2.5zM484.0 450.3h4.7v2.5h-4.7zM481.8 452.5h2.5v2.5h-2.5zM488.4 452.5h4.7v2.5h-4.7zM466.2 454.8h2.5v2.5h-2.5zM486.2 454.8h2.5v2.5h-2.5zM490.7 454.8h2.5v2.5h-2.5zM466.2 457.0h2.5v2.5h-2.5zM486.2 457.0h4.7v2.5h-4.7zM492.9 457.0h2.5v2.5h-2.5zM492.9 459.2h2.5v2.5h-2.5zM459.5 461.5h2.5v2.5h-2.5zM492.9 461.5h2.5v2.5h-2.5zM501.8 461.5h2.5v2.5h-2.5zM464.0 463.7h4.7v2.5h-4.7zM492.9 463.7h2.5v2.5h-2.5zM461.7 465.9h4.7v2.5h-4.7zM468.4 465.9h2.5v2.5h-2.5zM492.9 465.9h2.5v2.5h-2.5zM461.7 468.2h2.5v2.5h-2.5zM466.2 468.2h2.5v2.5h-2.5zM499.6 468.2h4.7v2.5h-4.7zM464.0 470.4h2.5v2.5h-2.5zM468.4 470.4h2.5v2.5h-2.5zM472.9 470.4h2.5v2.5h-2.5zM497.3 470.4h9.2v2.5h-9.2zM470.6 472.6h2.5v2.5h-2.5zM506.2 472.6h2.5v2.5h-2.5zM506.2 474.9h2.5v2.5h-2.5zM508.5 477.1h2.5v2.5h-2.5zM479.5 479.3h4.7v2.5h-4.7zM506.2 479.3h4.7v2.5h-4.7zM477.3 481.6h4.7v2.5h-4.7zM508.5 481.6h2.5v2.5h-2.5zM484.0 483.8h7.0v2.5h-7.0zM486.2 486.0h4.7v2.5h-4.7zM490.7 488.3h2.5v2.5h-2.5zM481.8 490.5h2.5v2.5h-2.5zM486.2 490.5h7.0v2.5h-7.0zM495.1 490.5h2.5v2.5h-2.5zM492.9 492.7h2.5v2.5h-2.5z" fill="#ec9ea0" shape-rendering="crispEdges"/>
<path d="M410.6 387.7h2.5v2.5h-2.5zM428.4 390.0h2.5v2.5h-2.5zM435.1 390.0h2.5v2.5h-2.5zM439.5 390.0h2.5v2.5h-2.5zM426.2 392.2h2.5v2.5h-2.5zM432.8 392.2h4.7v2.5h-4.7zM439.5 392.2h2.5v2.5h-2.5zM444.0 392.2h2.5v2.5h-2.5zM437.3 394.4h2.5v2.5h-2.5zM444.0 394.4h2.5v2.5h-2.5zM448.4 394.4h2.5v2.5h-2.5zM435.1 396.7h2.5v2.5h-2.5zM439.5 396.7h7.0v2.5h-7.0zM435.1 398.9h4.7v2.5h-4.7zM441.7 398.9h4.7v2.5h-4.7zM437.3 401.1h4.7v2.5h-4.7zM446.2 401.1h2.5v2.5h-2.5zM439.5 403.4h2.5v2.5h-2.5zM448.4 403.4h2.5v2.5h-2.5zM408.4 405.6h2.5v2.5h-2.5zM439.5 405.6h2.5v2.5h-2.5zM408.4 407.8h7.0v2.5h-7.0zM448.4 407.8h2.5v2.5h-2.5zM415.0 410.1h4.7v2.5h-4.7zM444.0 410.1h4.7v2.5h-4.7zM419.5 412.3h2.5v2.5h-2.5zM446.2 412.3h2.5v2.5h-2.5zM452.9 416.8h2.5v2.5h-2.5zM423.9 419.0h2.5v2.5h-2.5zM455.1 419.0h2.5v2.5h-2.5zM426.2 421.2h2.5v2.5h-2.5zM455.1 421.2h2.5v2.5h-2.5zM428.4 423.5h4.7v2.5h-4.7zM450.6 423.5h2.5v2.5h-2.5zM426.2 425.7h7.0v2.5h-7.0zM432.8 427.9h2.5v2.5h-2.5zM455.1 427.9h4.7v2.5h-4.7zM457.3 430.2h2.5v2.5h-2.5zM437.3 432.4h2.5v2.5h-2.5zM457.3 432.4h2.5v2.5h-2.5zM446.2 434.6h2.5v2.5h-2.5zM457.3 441.4h2.5v2.5h-2.5zM468.4 441.4h4.7v2.5h-4.7zM477.3 448.1h4.7v2.5h-4.7zM477.3 450.3h2.5v2.5h-2.5zM481.8 450.3h2.5v2.5h-2.5zM472.9 452.5h2.5v2.5h-2.5zM479.5 452.5h2.5v2.5h-2.5zM464.0 454.8h2.5v2.5h-2.5zM468.4 457.0h2.5v2.5h-2.5zM466.2 459.2h2.5v2.5h-2.5zM486.2 459.2h7.0v2.5h-7.0zM461.7 461.5h9.2v2.5h-9.2zM488.4 463.7h2.5v2.5h-2.5zM490.7 465.9h2.5v2.5h-2.5zM468.4 468.2h2.5v2.5h-2.5zM475.1 470.4h2.5v2.5h-2.5zM475.1 472.6h2.5v2.5h-2.5zM497.3 472.6h4.7v2.5h-4.7zM477.3 474.9h2.5v2.5h-2.5zM481.8 474.9h2.5v2.5h-2.5zM499.6 474.9h2.5v2.5h-2.5zM504.0 474.9h2.5v2.5h-2.5zM481.8 477.1h2.5v2.5h-2.5zM501.8 477.1h4.7v2.5h-4.7zM484.0 479.3h2.5v2.5h-2.5zM484.0 481.6h2.5v2.5h-2.5zM490.7 483.8h2.5v2.5h-2.5zM490.7 486.0h2.5v2.5h-2.5zM492.9 490.5h2.5v2.5h-2.5zM495.1 492.7h4.7v2.5h-4.7zM497.3 495.0h2.5v2.5h-2.5z" fill="#ea9496" shape-rendering="crispEdges"/>
<path d="M408.4 385.5h2.5v2.5h-2.5zM419.5 390.0h2.5v2.5h-2.5zM426.2 390.0h2.5v2.5h-2.5zM430.6 390.0h2.5v2.5h-2.5zM437.3 390.0h2.5v2.5h-2.5zM428.4 392.2h4.7v2.5h-4.7zM437.3 392.2h2.5v2.5h-2.5zM446.2 392.2h2.5v2.5h-2.5zM426.2 394.4h2.5v2.5h-2.5zM435.1 394.4h2.5v2.5h-2.5zM439.5 394.4h2.5v2.5h-2.5zM446.2 394.4h2.5v2.5h-2.5zM430.6 396.7h2.5v2.5h-2.5zM448.4 396.7h2.5v2.5h-2.5zM432.8 398.9h2.5v2.5h-2.5zM448.4 398.9h2.5v2.5h-2.5zM408.4 401.1h2.5v2.5h-2.5zM441.7 401.1h4.7v2.5h-4.7zM408.4 403.4h4.7v2.5h-4.7zM435.1 403.4h4.7v2.5h-4.7zM441.7 403.4h4.7v2.5h-4.7zM412.8 405.6h2.5v2.5h-2.5zM437.3 405.6h2.5v2.5h-2.5zM441.7 405.6h7.0v2.5h-7.0zM439.5 407.8h2.5v2.5h-2.5zM446.2 407.8h2.5v2.5h-2.5zM417.3 412.3h2.5v2.5h-2.5zM444.0 412.3h2.5v2.5h-2.5zM417.3 414.5h7.0v2.5h-7.0zM446.2 414.5h4.7v2.5h-4.7zM421.7 416.8h2.5v2.5h-2.5zM426.2 416.8h2.5v2.5h-2.5zM446.2 416.8h2.5v2.5h-2.5zM426.2 419.0h2.5v2.5h-2.5zM428.4 421.2h2.5v2.5h-2.5zM450.6 421.2h2.5v2.5h-2.5zM432.8 425.7h2.5v2.5h-2.5zM435.1 427.9h2.5v2.5h-2.5zM435.1 430.2h2.5v2.5h-2.5zM441.7 432.4h2.5v2.5h-2.5zM450.6 439.1h2.5v2.5h-2.5zM464.0 441.4h4.7v2.5h-4.7zM470.6 445.8h2.5v2.5h-2.5zM464.0 459.2h2.5v2.5h-2.5zM488.4 461.5h2.5v2.5h-2.5zM468.4 463.7h2.5v2.5h-2.5zM490.7 463.7h2.5v2.5h-2.5zM492.9 468.2h2.5v2.5h-2.5zM477.3 470.4h2.5v2.5h-2.5zM495.1 470.4h2.5v2.5h-2.5zM477.3 472.6h2.5v2.5h-2.5zM479.5 474.9h2.5v2.5h-2.5zM501.8 474.9h2.5v2.5h-2.5zM492.9 488.3h4.7v2.5h-4.7zM497.3 490.5h2.5v2.5h-2.5z" fill="#e88a8c" shape-rendering="crispEdges"/>
<path d="M417.3 390.0h2.5v2.5h-2.5zM421.7 390.0h2.5v2.5h-2.5zM423.9 392.2h2.5v2.5h-2.5zM423.9 394.4h2.5v2.5h-2.5zM428.4 394.4h7.0v2.5h-7.0zM426.2 396.7h4.7v2.5h-4.7zM432.8 396.7h2.5v2.5h-2.5zM437.3 396.7h2.5v2.5h-2.5zM426.2 398.9h2.5v2.5h-2.5zM428.4 401.1h4.7v2.5h-4.7zM430.6 403.4h2.5v2.5h-2.5zM432.8 405.6h4.7v2.5h-4.7zM415.0 407.8h2.5v2.5h-2.5zM441.7 407.8h4.7v2.5h-4.7zM441.7 412.3h2.5v2.5h-2.5zM448.4 412.3h2.5v2.5h-2.5zM423.9 416.8h2.5v2.5h-2.5zM444.0 416.8h2.5v2.5h-2.5zM448.4 416.8h2.5v2.5h-2.5zM428.4 419.0h2.5v2.5h-2.5zM432.8 423.5h2.5v2.5h-2.5zM452.9 425.7h2.5v2.5h-2.5zM437.3 427.9h2.5v2.5h-2.5zM450.6 427.9h4.7v2.5h-4.7zM437.3 430.2h2.5v2.5h-2.5zM452.9 430.2h4.7v2.5h-4.7zM439.5 432.4h2.5v2.5h-2.5zM452.9 432.4h4.7v2.5h-4.7zM448.4 434.6h2.5v2.5h-2.5zM455.1 434.6h2.5v2.5h-2.5zM450.6 436.9h2.5v2.5h-2.5zM477.3 452.5h2.5v2.5h-2.5zM468.4 454.8h2.5v2.5h-2.5zM486.2 461.5h2.5v2.5h-2.5zM470.6 465.9h2.5v2.5h-2.5zM479.5 470.4h2.5v2.5h-2.5zM479.5 472.6h2.5v2.5h-2.5zM495.1 472.6h2.5v2.5h-2.5zM495.1 474.9h4.7v2.5h-4.7zM484.0 477.1h2.5v2.5h-2.5zM504.0 479.3h2.5v2.5h-2.5zM506.2 481.6h2.5v2.5h-2.5zM492.9 483.8h2.5v2.5h-2.5zM492.9 486.0h4.7v2.5h-4.7z" fill="#e78183" shape-rendering="crispEdges"/>
<path d="M403.9 385.5h4.7v2.5h-4.7zM408.4 387.7h2.5v2.5h-2.5zM423.9 390.0h2.5v2.5h-2.5zM421.7 392.2h2.5v2.5h-2.5zM423.9 396.7h2.5v2.5h-2.5zM408.4 398.9h2.5v2.5h-2.5zM428.4 398.9h4.7v2.5h-4.7zM410.6 401.1h2.5v2.5h-2.5zM432.8 401.1h4.7v2.5h-4.7zM412.8 403.4h2.5v2.5h-2.5zM428.4 403.4h2.5v2.5h-2.5zM432.8 403.4h2.5v2.5h-2.5zM415.0 405.6h2.5v2.5h-2.5zM417.3 407.8h2.5v2.5h-2.5zM421.7 410.1h2.5v2.5h-2.5zM439.5 410.1h4.7v2.5h-4.7zM421.7 412.3h2.5v2.5h-2.5zM423.9 414.5h2.5v2.5h-2.5zM444.0 414.5h2.5v2.5h-2.5zM448.4 419.0h2.5v2.5h-2.5zM446.2 421.2h4.7v2.5h-4.7zM435.1 423.5h2.5v2.5h-2.5zM448.4 423.5h2.5v2.5h-2.5zM450.6 425.7h2.5v2.5h-2.5zM444.0 432.4h2.5v2.5h-2.5zM457.3 434.6h2.5v2.5h-2.5zM484.0 454.8h2.5v2.5h-2.5zM468.4 459.2h2.5v2.5h-2.5zM486.2 463.7h2.5v2.5h-2.5zM472.9 465.9h2.5v2.5h-2.5zM486.2 465.9h2.5v2.5h-2.5zM470.6 468.2h2.5v2.5h-2.5zM490.7 468.2h2.5v2.5h-2.5zM484.0 472.6h2.5v2.5h-2.5zM484.0 474.9h2.5v2.5h-2.5zM497.3 477.1h4.7v2.5h-4.7zM497.3 486.0h2.5v2.5h-2.5zM499.6 492.7h2.5v2.5h-2.5zM501.8 495.0h2.5v2.5h-2.5z" fill="#e57779" shape-rendering="crispEdges"/>
<path d="M401.7 385.5h2.5v2.5h-2.5zM406.1 387.7h2.5v2.5h-2.5zM415.0 390.0h2.5v2.5h-2.5zM419.5 392.2h2.5v2.5h-2.5zM410.6 398.9h2.5v2.5h-2.5zM423.9 401.1h2.5v2.5h-2.5zM417.3 405.6h2.5v2.5h-2.5zM435.1 407.8h4.7v2.5h-4.7zM419.5 410.1h2.5v2.5h-2.5zM437.3 412.3h2.5v2.5h-2.5zM426.2 414.5h2.5v2.5h-2.5zM439.5 416.8h2.5v2.5h-2.5zM444.0 419.0h2.5v2.5h-2.5zM430.6 421.2h4.7v2.5h-4.7zM435.1 425.7h4.7v2.5h-4.7zM439.5 427.9h2.5v2.5h-2.5zM439.5 430.2h4.7v2.5h-4.7zM450.6 432.4h2.5v2.5h-2.5zM457.3 436.9h2.5v2.5h-2.5zM452.9 439.1h2.5v2.5h-2.5zM461.7 441.4h2.5v2.5h-2.5zM470.6 448.1h2.5v2.5h-2.5zM459.5 450.3h2.5v2.5h-2.5zM470.6 450.3h2.5v2.5h-2.5zM475.1 454.8h2.5v2.5h-2.5zM470.6 457.0h2.5v2.5h-2.5zM488.4 465.9h2.5v2.5h-2.5zM488.4 468.2h2.5v2.5h-2.5zM481.8 472.6h2.5v2.5h-2.5zM486.2 477.1h2.5v2.5h-2.5zM495.1 477.1h2.5v2.5h-2.5zM486.2 479.3h2.5v2.5h-2.5zM501.8 479.3h2.5v2.5h-2.5zM488.4 481.6h2.5v2.5h-2.5zM501.8 481.6h4.7v2.5h-4.7zM495.1 483.8h2.5v2.5h-2.5zM508.5 483.8h4.7v2.5h-4.7zM497.3 488.3h2.5v2.5h-2.5zM499.6 495.0h2.5v2.5h-2.5zM504.0 495.0h2.5v2.5h-2.5z" fill="#e36d70" shape-rendering="crispEdges"/>
<path d="M412.8 390.0h2.5v2.5h-2.5zM421.7 394.4h2.5v2.5h-2.5zM423.9 398.9h2.5v2.5h-2.5zM412.8 401.1h2.5v2.5h-2.5zM415.0 403.4h2.5v2.5h-2.5zM426.2 403.4h2.5v2.5h-2.5zM430.6 407.8h2.5v2.5h-2.5zM423.9 410.1h2.5v2.5h-2.5zM437.3 410.1h2.5v2.5h-2.5zM426.2 412.3h2.5v2.5h-2.5zM439.5 412.3h2.5v2.5h-2.5zM435.1 414.5h2.5v2.5h-2.5zM439.5 414.5h4.7v2.5h-4.7zM441.7 416.8h2.5v2.5h-2.5zM432.8 419.0h2.5v2.5h-2.5zM441.7 419.0h2.5v2.5h-2.5zM446.2 419.0h2.5v2.5h-2.5zM450.6 430.2h2.5v2.5h-2.5zM455.1 436.9h2.5v2.5h-2.5zM459.5 452.5h2.5v2.5h-2.5zM472.9 454.8h2.5v2.5h-2.5zM481.8 454.8h2.5v2.5h-2.5zM484.0 459.2h2.5v2.5h-2.5zM470.6 463.7h2.5v2.5h-2.5zM475.1 465.9h2.5v2.5h-2.5zM472.9 468.2h2.5v2.5h-2.5zM499.6 479.3h2.5v2.5h-2.5zM486.2 481.6h2.5v2.5h-2.5zM501.8 492.7h2.5v2.5h-2.5z" fill="#e16466" shape-rendering="crispEdges"/>
<path d="M403.9 387.7h2.5v2.5h-2.5zM412.8 392.2h2.5v2.5h-2.5zM417.3 392.2h2.5v2.5h-2.5zM415.0 394.4h2.5v2.5h-2.5zM419.5 394.4h2.5v2.5h-2.5zM408.4 396.7h2.5v2.5h-2.5zM421.7 396.7h2.5v2.5h-2.5zM426.2 401.1h2.5v2.5h-2.5zM417.3 403.4h2.5v2.5h-2.5zM430.6 405.6h2.5v2.5h-2.5zM419.5 407.8h2.5v2.5h-2.5zM428.4 407.8h2.5v2.5h-2.5zM432.8 407.8h2.5v2.5h-2.5zM432.8 410.1h4.7v2.5h-4.7zM423.9 412.3h2.5v2.5h-2.5zM435.1 412.3h2.5v2.5h-2.5zM437.3 414.5h2.5v2.5h-2.5zM428.4 416.8h2.5v2.5h-2.5zM430.6 419.0h2.5v2.5h-2.5zM439.5 419.0h2.5v2.5h-2.5zM444.0 421.2h2.5v2.5h-2.5zM437.3 423.5h2.5v2.5h-2.5zM446.2 423.5h2.5v2.5h-2.5zM448.4 425.7h2.5v2.5h-2.5zM444.0 430.2h2.5v2.5h-2.5zM446.2 432.4h2.5v2.5h-2.5zM461.7 452.5h2.5v2.5h-2.5zM477.3 454.8h4.7v2.5h-4.7zM479.5 457.0h2.5v2.5h-2.5zM484.0 457.0h2.5v2.5h-2.5zM481.8 459.2h2.5v2.5h-2.5zM470.6 461.5h2.5v2.5h-2.5zM475.1 468.2h2.5v2.5h-2.5zM481.8 470.4h4.7v2.5h-4.7zM488.4 479.3h2.5v2.5h-2.5zM497.3 479.3h2.5v2.5h-2.5zM490.7 481.6h2.5v2.5h-2.5zM510.7 486.0h2.5v2.5h-2.5zM506.2 495.0h2.5v2.5h-2.5z" fill="#df5a5d" shape-rendering="crispEdges"/>
<path d="M415.0 392.2h2.5v2.5h-2.5zM408.4 394.4h2.5v2.5h-2.5zM417.3 394.4h2.5v2.5h-2.5zM419.5 396.7h2.5v2.5h-2.5zM412.8 398.9h2.5v2.5h-2.5zM421.7 398.9h2.5v2.5h-2.5zM426.2 405.6h4.7v2.5h-4.7zM428.4 414.5h2.5v2.5h-2.5zM430.6 416.8h2.5v2.5h-2.5zM435.1 421.2h2.5v2.5h-2.5zM444.0 423.5h2.5v2.5h-2.5zM439.5 425.7h2.5v2.5h-2.5zM446.2 425.7h2.5v2.5h-2.5zM441.7 427.9h2.5v2.5h-2.5zM448.4 427.9h2.5v2.5h-2.5zM450.6 434.6h4.7v2.5h-4.7zM468.4 443.6h2.5v2.5h-2.5zM464.0 452.5h2.5v2.5h-2.5zM470.6 452.5h2.5v2.5h-2.5zM481.8 457.0h2.5v2.5h-2.5zM475.1 459.2h2.5v2.5h-2.5zM472.9 461.5h2.5v2.5h-2.5zM472.9 463.7h2.5v2.5h-2.5zM477.3 468.2h2.5v2.5h-2.5zM492.9 470.4h2.5v2.5h-2.5zM495.1 479.3h2.5v2.5h-2.5zM506.2 483.8h2.5v2.5h-2.5zM501.8 490.5h2.5v2.5h-2.5z" fill="#dd5053" shape-rendering="crispEdges"/>
<path d="M408.4 390.0h2.5v2.5h-2.5zM415.0 396.7h2.5v2.5h-2.5zM421.7 401.1h2.5v2.5h-2.5zM421.7 403.4h2.5v2.5h-2.5zM419.5 405.6h2.5v2.5h-2.5zM455.1 439.1h4.7v2.5h-4.7zM466.2 443.6h2.5v2.5h-2.5zM461.7 450.3h2.5v2.5h-2.5zM472.9 457.0h4.7v2.5h-4.7zM479.5 459.2h2.5v2.5h-2.5zM475.1 463.7h2.5v2.5h-2.5zM477.3 465.9h2.5v2.5h-2.5zM488.4 474.9h2.5v2.5h-2.5zM497.3 483.8h2.5v2.5h-2.5zM510.7 488.3h2.5v2.5h-2.5zM499.6 490.5h2.5v2.5h-2.5z" fill="#db474a" shape-rendering="crispEdges"/>
<path d="M410.6 396.7h2.5v2.5h-2.5zM417.3 396.7h2.5v2.5h-2.5zM419.5 398.9h2.5v2.5h-2.5zM415.0 401.1h2.5v2.5h-2.5zM419.5 401.1h2.5v2.5h-2.5zM423.9 403.4h2.5v2.5h-2.5zM423.9 405.6h2.5v2.5h-2.5zM421.7 407.8h2.5v2.5h-2.5zM428.4 410.1h2.5v2.5h-2.5zM430.6 412.3h4.7v2.5h-4.7zM441.7 421.2h2.5v2.5h-2.5zM459.5 441.4h2.5v2.5h-2.5zM464.0 443.6h2.5v2.5h-2.5zM459.5 448.1h4.7v2.5h-4.7zM481.8 461.5h4.7v2.5h-4.7zM479.5 468.2h2.5v2.5h-2.5zM486.2 468.2h2.5v2.5h-2.5zM486.2 472.6h2.5v2.5h-2.5zM492.9 479.3h2.5v2.5h-2.5zM497.3 481.6h4.7v2.5h-4.7zM508.5 486.0h2.5v2.5h-2.5zM499.6 488.3h2.5v2.5h-2.5zM504.0 492.7h4.7v2.5h-4.7z" fill="#da3d40" shape-rendering="crispEdges"/>
<path d="M410.6 390.0h2.5v2.5h-2.5zM408.4 392.2h4.7v2.5h-4.7zM430.6 410.1h2.5v2.5h-2.5zM437.3 416.8h2.5v2.5h-2.5zM437.3 419.0h2.5v2.5h-2.5zM439.5 421.2h2.5v2.5h-2.5zM444.0 425.7h2.5v2.5h-2.5zM448.4 430.2h2.5v2.5h-2.5zM452.9 436.9h2.5v2.5h-2.5zM468.4 445.8h2.5v2.5h-2.5zM466.2 448.1h4.7v2.5h-4.7zM464.0 450.3h2.5v2.5h-2.5zM470.6 459.2h2.5v2.5h-2.5zM479.5 465.9h2.5v2.5h-2.5zM484.0 465.9h2.5v2.5h-2.5zM492.9 472.6h2.5v2.5h-2.5zM486.2 474.9h2.5v2.5h-2.5zM488.4 477.1h2.5v2.5h-2.5zM490.7 479.3h2.5v2.5h-2.5zM492.9 481.6h2.5v2.5h-2.5zM506.2 486.0h2.5v2.5h-2.5zM506.2 488.3h2.5v2.5h-2.5z" fill="#d83337" shape-rendering="crispEdges"/>
<path d="M412.8 394.4h2.5v2.5h-2.5zM426.2 407.8h2.5v2.5h-2.5zM428.4 412.3h2.5v2.5h-2.5zM437.3 421.2h2.5v2.5h-2.5zM444.0 427.9h2.5v2.5h-2.5zM461.7 443.6h2.5v2.5h-2.5zM459.5 445.8h2.5v2.5h-2.5zM466.2 445.8h2.5v2.5h-2.5zM472.9 459.2h2.5v2.5h-2.5zM484.0 463.7h2.5v2.5h-2.5zM481.8 468.2h2.5v2.5h-2.5zM495.1 481.6h2.5v2.5h-2.5zM504.0 483.8h2.5v2.5h-2.5zM508.5 488.3h2.5v2.5h-2.5zM508.5 495.0h2.5v2.5h-2.5z" fill="#d6292d" shape-rendering="crispEdges"/>
<path d="M412.8 396.7h2.5v2.5h-2.5zM415.0 398.9h4.7v2.5h-4.7zM417.3 401.1h2.5v2.5h-2.5zM432.8 414.5h2.5v2.5h-2.5zM435.1 416.8h2.5v2.5h-2.5zM441.7 423.5h2.5v2.5h-2.5zM446.2 427.9h2.5v2.5h-2.5zM448.4 432.4h2.5v2.5h-2.5zM464.0 445.8h2.5v2.5h-2.5zM466.2 452.5h2.5v2.5h-2.5zM477.3 457.0h2.5v2.5h-2.5zM475.1 461.5h2.5v2.5h-2.5zM490.7 470.4h2.5v2.5h-2.5zM490.7 477.1h2.5v2.5h-2.5zM501.8 488.3h2.5v2.5h-2.5zM510.7 490.5h2.5v2.5h-2.5z" fill="#d42024" shape-rendering="crispEdges"/>
<path d="M410.6 394.4h2.5v2.5h-2.5zM421.7 405.6h2.5v2.5h-2.5zM441.7 425.7h2.5v2.5h-2.5zM477.3 459.2h2.5v2.5h-2.5zM481.8 463.7h2.5v2.5h-2.5zM490.7 472.6h2.5v2.5h-2.5zM499.6 486.0h2.5v2.5h-2.5zM504.0 486.0h2.5v2.5h-2.5zM504.0 490.5h2.5v2.5h-2.5zM508.5 490.5h2.5v2.5h-2.5zM510.7 492.7h2.5v2.5h-2.5z" fill="#d2161a" shape-rendering="crispEdges"/>
<path d="M419.5 403.4h2.5v2.5h-2.5zM423.9 407.8h2.5v2.5h-2.5zM426.2 410.1h2.5v2.5h-2.5zM439.5 423.5h2.5v2.5h-2.5zM446.2 430.2h2.5v2.5h-2.5zM477.3 463.7h2.5v2.5h-2.5zM501.8 483.8h2.5v2.5h-2.5z" fill="#ca1418" shape-rendering="crispEdges"/>
<path d="M406.1 390.0h2.5v2.5h-2.5zM432.8 416.8h2.5v2.5h-2.5zM435.1 419.0h2.5v2.5h-2.5zM459.5 443.6h2.5v2.5h-2.5zM461.7 445.8h2.5v2.5h-2.5zM468.4 450.3h2.5v2.5h-2.5zM490.7 474.9h2.5v2.5h-2.5zM506.2 490.5h2.5v2.5h-2.5z" fill="#c11216" shape-rendering="crispEdges"/>
<path d="M430.6 414.5h2.5v2.5h-2.5zM479.5 461.5h2.5v2.5h-2.5zM481.8 465.9h2.5v2.5h-2.5zM486.2 470.4h4.7v2.5h-4.7zM492.9 474.9h2.5v2.5h-2.5zM492.9 477.1h2.5v2.5h-2.5zM508.5 492.7h2.5v2.5h-2.5zM510.7 495.0h2.5v2.5h-2.5z" fill="#b91013" shape-rendering="crispEdges"/>
<path d="M464.0 448.1h2.5v2.5h-2.5zM466.2 450.3h2.5v2.5h-2.5zM468.4 452.5h2.5v2.5h-2.5zM470.6 454.8h2.5v2.5h-2.5zM477.3 461.5h2.5v2.5h-2.5zM479.5 463.7h2.5v2.5h-2.5zM484.0 468.2h2.5v2.5h-2.5zM488.4 472.6h2.5v2.5h-2.5zM499.6 483.8h2.5v2.5h-2.5zM501.8 486.0h2.5v2.5h-2.5zM504.0 488.3h2.5v2.5h-2.5z" fill="#b40f12" shape-rendering="crispEdges"/>
<line x1="401.7" y1="433.0" x2="450.0" y2="433.0" stroke="#fff" stroke-width="0.9" stroke-opacity="0.9"/>
<line x1="401.7" y1="434.8" x2="452.0" y2="434.8" stroke="#fff" stroke-width="0.9" stroke-opacity="0.8"/>
<line x1="458.0" y1="385.5" x2="458.0" y2="436.0" stroke="#fff" stroke-width="1.6" stroke-opacity="0.85"/>
<line x1="459.0" y1="487.5" x2="501.5" y2="487.5" stroke="#fff" stroke-width="1.2" stroke-opacity="0.95"/>
<line x1="501.5" y1="487.5" x2="501.5" y2="497.2" stroke="#fff" stroke-width="1.2" stroke-opacity="0.95"/>
<line x1="421.0" y1="405.5" x2="421.0" y2="441.7" stroke="#fff" stroke-width="0.8" stroke-opacity="0.6"/>
<line x1="401.7" y1="407.0" x2="407.0" y2="407.0" stroke="#fff" stroke-width="0.8" stroke-opacity="0.5"/>
<line x1="459.0" y1="441.5" x2="512.9" y2="441.5" stroke="#fff" stroke-width="0.9" stroke-opacity="0.6"/>
<line x1="470.0" y1="455.0" x2="470.0" y2="497.2" stroke="#fff" stroke-width="0.8" stroke-opacity="0.5"/>
<line x1="459.0" y1="470.0" x2="485.0" y2="470.0" stroke="#fff" stroke-width="0.8" stroke-opacity="0.5"/>
<line x1="459.0" y1="478.0" x2="492.0" y2="478.0" stroke="#fff" stroke-width="0.8" stroke-opacity="0.5"/>
<line x1="483.0" y1="468.0" x2="483.0" y2="497.2" stroke="#fff" stroke-width="0.8" stroke-opacity="0.5"/>
<text x="400.40" y="382.00" font-size="9.4" text-anchor="start" fill="#231f20" >chr2:189-198 Mb</text>
<rect x="401.70" y="385.50" width="111.20" height="111.70" fill="none" stroke="#2a2a2a" stroke-width="0.9"/>
<text x="395.40" y="391.95" font-size="8.2" text-anchor="end" fill="#231f20" >0</text>
<text x="395.40" y="405.35" font-size="8.2" text-anchor="end" fill="#231f20" >1</text>
<text x="395.40" y="418.05" font-size="8.2" text-anchor="end" fill="#231f20" >2</text>
<text x="395.40" y="430.75" font-size="8.2" text-anchor="end" fill="#231f20" >3</text>
<text x="395.40" y="444.75" font-size="8.2" text-anchor="end" fill="#231f20" >4</text>
<text x="395.40" y="458.65" font-size="8.2" text-anchor="end" fill="#231f20" >5</text>
<text x="395.40" y="471.75" font-size="8.2" text-anchor="end" fill="#231f20" >6</text>
<text x="395.40" y="485.65" font-size="8.2" text-anchor="end" fill="#231f20" >7</text>
<text x="395.40" y="497.15" font-size="8.2" text-anchor="end" fill="#231f20" >8</text>
<line x1="399.50" y1="388.90" x2="401.70" y2="388.90" stroke="#2a2a2a" stroke-width="0.8" />
<line x1="399.50" y1="402.40" x2="401.70" y2="402.40" stroke="#2a2a2a" stroke-width="0.8" />
<line x1="399.50" y1="415.10" x2="401.70" y2="415.10" stroke="#2a2a2a" stroke-width="0.8" />
<line x1="399.50" y1="428.00" x2="401.70" y2="428.00" stroke="#2a2a2a" stroke-width="0.8" />
<line x1="399.50" y1="441.80" x2="401.70" y2="441.80" stroke="#2a2a2a" stroke-width="0.8" />
<line x1="399.50" y1="455.70" x2="401.70" y2="455.70" stroke="#2a2a2a" stroke-width="0.8" />
<line x1="399.50" y1="468.80" x2="401.70" y2="468.80" stroke="#2a2a2a" stroke-width="0.8" />
<line x1="399.50" y1="482.70" x2="401.70" y2="482.70" stroke="#2a2a2a" stroke-width="0.8" />
<line x1="399.50" y1="494.50" x2="401.70" y2="494.50" stroke="#2a2a2a" stroke-width="0.8" />
<text x="402.90" y="508.45" font-size="8.2" text-anchor="middle" fill="#231f20" >0</text>
<text x="414.70" y="508.45" font-size="8.2" text-anchor="middle" fill="#231f20" >1</text>
<text x="429.50" y="508.45" font-size="8.2" text-anchor="middle" fill="#231f20" >2</text>
<text x="442.70" y="508.45" font-size="8.2" text-anchor="middle" fill="#231f20" >3</text>
<text x="456.10" y="508.45" font-size="8.2" text-anchor="middle" fill="#231f20" >4</text>
<text x="470.30" y="508.45" font-size="8.2" text-anchor="middle" fill="#231f20" >5</text>
<text x="484.70" y="508.45" font-size="8.2" text-anchor="middle" fill="#231f20" >6</text>
<text x="498.50" y="508.45" font-size="8.2" text-anchor="middle" fill="#231f20" >7</text>
<text x="512.70" y="508.45" font-size="8.2" text-anchor="middle" fill="#231f20" >8</text>
<line x1="402.20" y1="497.20" x2="402.20" y2="499.40" stroke="#2a2a2a" stroke-width="0.8" />
<line x1="415.80" y1="497.20" x2="415.80" y2="499.40" stroke="#2a2a2a" stroke-width="0.8" />
<line x1="429.60" y1="497.20" x2="429.60" y2="499.40" stroke="#2a2a2a" stroke-width="0.8" />
<line x1="443.30" y1="497.20" x2="443.30" y2="499.40" stroke="#2a2a2a" stroke-width="0.8" />
<line x1="456.90" y1="497.20" x2="456.90" y2="499.40" stroke="#2a2a2a" stroke-width="0.8" />
<line x1="470.70" y1="497.20" x2="470.70" y2="499.40" stroke="#2a2a2a" stroke-width="0.8" />
<line x1="484.40" y1="497.20" x2="484.40" y2="499.40" stroke="#2a2a2a" stroke-width="0.8" />
<line x1="498.10" y1="497.20" x2="498.10" y2="499.40" stroke="#2a2a2a" stroke-width="0.8" />
<line x1="511.90" y1="497.20" x2="511.90" y2="499.40" stroke="#2a2a2a" stroke-width="0.8" />
<text x="521.40" y="508.45" font-size="8.2" text-anchor="middle" fill="#231f20" >Mb</text>
<text x="467.80" y="396.70" font-size="8.1" text-anchor="start" fill="#231f20" >female MCR</text>
<text x="406.80" y="491.30" font-size="8.0" text-anchor="start" fill="#231f20" >MRE</text>
<line x1="401.70" y1="385.50" x2="512.90" y2="497.20" stroke="#141414" stroke-width="1.05" />
<path d="M608.4 385.3h29.5v2.5h-29.5zM639.8 385.3h20.5v2.5h-20.5zM662.3 385.3h2.5v2.5h-2.5zM608.4 387.5h18.3v2.5h-18.3zM628.6 387.5h4.8v2.5h-4.8zM635.4 387.5h4.8v2.5h-4.8zM642.1 387.5h4.8v2.5h-4.8zM651.1 387.5h2.5v2.5h-2.5zM655.6 387.5h11.5v2.5h-11.5zM606.2 389.8h2.5v2.5h-2.5zM610.6 389.8h9.3v2.5h-9.3zM621.9 389.8h11.5v2.5h-11.5zM635.4 389.8h4.8v2.5h-4.8zM644.3 389.8h2.5v2.5h-2.5zM648.8 389.8h2.5v2.5h-2.5zM657.8 389.8h4.8v2.5h-4.8zM664.6 389.8h2.5v2.5h-2.5zM606.2 392.0h9.3v2.5h-9.3zM617.4 392.0h40.7v2.5h-40.7zM660.1 392.0h4.8v2.5h-4.8zM606.2 394.2h11.5v2.5h-11.5zM619.6 394.2h20.5v2.5h-20.5zM644.3 394.2h22.8v2.5h-22.8zM606.2 396.5h4.8v2.5h-4.8zM612.9 396.5h7.0v2.5h-7.0zM628.6 396.5h9.3v2.5h-9.3zM639.8 396.5h9.3v2.5h-9.3zM651.1 396.5h16.0v2.5h-16.0zM606.2 398.7h4.8v2.5h-4.8zM612.9 398.7h18.3v2.5h-18.3zM635.4 398.7h22.8v2.5h-22.8zM660.1 398.7h2.5v2.5h-2.5zM664.6 398.7h2.5v2.5h-2.5zM606.2 400.9h27.3v2.5h-27.3zM637.6 400.9h29.5v2.5h-29.5zM606.2 403.2h2.5v2.5h-2.5zM610.6 403.2h4.8v2.5h-4.8zM619.6 403.2h11.5v2.5h-11.5zM633.1 403.2h2.5v2.5h-2.5zM637.6 403.2h4.8v2.5h-4.8zM646.6 403.2h2.5v2.5h-2.5zM651.1 403.2h11.5v2.5h-11.5zM664.6 403.2h2.5v2.5h-2.5zM606.2 405.4h2.5v2.5h-2.5zM610.6 405.4h2.5v2.5h-2.5zM617.4 405.4h7.0v2.5h-7.0zM626.4 405.4h16.0v2.5h-16.0zM644.3 405.4h2.5v2.5h-2.5zM648.8 405.4h18.3v2.5h-18.3zM608.4 407.6h2.5v2.5h-2.5zM612.9 407.6h7.0v2.5h-7.0zM624.1 407.6h4.8v2.5h-4.8zM630.9 407.6h13.8v2.5h-13.8zM646.6 407.6h7.0v2.5h-7.0zM655.6 407.6h4.8v2.5h-4.8zM662.3 407.6h2.5v2.5h-2.5zM608.4 409.9h7.0v2.5h-7.0zM621.9 409.9h2.5v2.5h-2.5zM626.4 409.9h13.8v2.5h-13.8zM644.3 409.9h20.5v2.5h-20.5zM554.5 441.2h27.3v2.5h-27.3zM554.5 443.4h9.3v2.5h-9.3zM565.7 443.4h16.0v2.5h-16.0zM554.5 445.6h27.3v2.5h-27.3zM554.5 447.9h18.3v2.5h-18.3zM574.7 447.9h7.0v2.5h-7.0zM554.5 450.1h9.3v2.5h-9.3zM565.7 450.1h11.5v2.5h-11.5zM579.2 450.1h2.5v2.5h-2.5zM554.5 452.3h18.3v2.5h-18.3zM577.0 452.3h4.8v2.5h-4.8zM554.5 454.6h9.3v2.5h-9.3zM565.7 454.6h16.0v2.5h-16.0zM556.7 456.8h22.8v2.5h-22.8zM554.5 459.0h11.5v2.5h-11.5zM568.0 459.0h13.8v2.5h-13.8zM554.5 461.3h20.5v2.5h-20.5zM577.0 461.3h4.8v2.5h-4.8zM554.5 463.5h27.3v2.5h-27.3zM554.5 465.7h18.3v2.5h-18.3zM574.7 465.7h4.8v2.5h-4.8zM554.5 468.0h2.5v2.5h-2.5zM559.0 468.0h4.8v2.5h-4.8zM565.7 468.0h16.0v2.5h-16.0zM554.5 470.2h9.3v2.5h-9.3zM565.7 470.2h16.0v2.5h-16.0zM554.5 472.4h4.8v2.5h-4.8zM561.2 472.4h11.5v2.5h-11.5zM574.7 472.4h4.8v2.5h-4.8zM554.5 474.7h4.8v2.5h-4.8zM563.5 474.7h18.3v2.5h-18.3zM554.5 476.9h27.3v2.5h-27.3zM554.5 479.1h9.3v2.5h-9.3zM568.0 479.1h7.0v2.5h-7.0zM577.0 479.1h4.8v2.5h-4.8zM554.5 481.4h4.8v2.5h-4.8zM561.2 481.4h20.5v2.5h-20.5zM554.5 483.6h20.5v2.5h-20.5zM577.0 483.6h4.8v2.5h-4.8zM554.5 485.8h16.0v2.5h-16.0zM572.5 485.8h4.8v2.5h-4.8zM554.5 488.1h27.3v2.5h-27.3zM554.5 490.3h7.0v2.5h-7.0zM563.5 490.3h7.0v2.5h-7.0zM572.5 490.3h9.3v2.5h-9.3zM554.5 492.5h20.5v2.5h-20.5zM577.0 492.5h4.8v2.5h-4.8zM556.7 494.8h9.3v2.5h-9.3zM568.0 494.8h13.8v2.5h-13.8z" fill="#fdf5f5" shape-rendering="crispEdges"/>
<path d="M606.2 385.3h2.5v2.5h-2.5zM637.6 385.3h2.5v2.5h-2.5zM660.1 385.3h2.5v2.5h-2.5zM664.6 385.3h2.5v2.5h-2.5zM606.2 387.5h2.5v2.5h-2.5zM626.4 387.5h2.5v2.5h-2.5zM633.1 387.5h2.5v2.5h-2.5zM639.8 387.5h2.5v2.5h-2.5zM646.6 387.5h4.8v2.5h-4.8zM653.3 387.5h2.5v2.5h-2.5zM608.4 389.8h2.5v2.5h-2.5zM619.6 389.8h2.5v2.5h-2.5zM633.1 389.8h2.5v2.5h-2.5zM639.8 389.8h4.8v2.5h-4.8zM646.6 389.8h2.5v2.5h-2.5zM651.1 389.8h7.0v2.5h-7.0zM662.3 389.8h2.5v2.5h-2.5zM615.1 392.0h2.5v2.5h-2.5zM657.8 392.0h2.5v2.5h-2.5zM664.6 392.0h2.5v2.5h-2.5zM617.4 394.2h2.5v2.5h-2.5zM639.8 394.2h4.8v2.5h-4.8zM610.6 396.5h2.5v2.5h-2.5zM619.6 396.5h9.3v2.5h-9.3zM637.6 396.5h2.5v2.5h-2.5zM648.8 396.5h2.5v2.5h-2.5zM610.6 398.7h2.5v2.5h-2.5zM630.9 398.7h4.8v2.5h-4.8zM657.8 398.7h2.5v2.5h-2.5zM662.3 398.7h2.5v2.5h-2.5zM633.1 400.9h4.8v2.5h-4.8zM608.4 403.2h2.5v2.5h-2.5zM615.1 403.2h4.8v2.5h-4.8zM630.9 403.2h2.5v2.5h-2.5zM635.4 403.2h2.5v2.5h-2.5zM642.1 403.2h4.8v2.5h-4.8zM648.8 403.2h2.5v2.5h-2.5zM662.3 403.2h2.5v2.5h-2.5zM608.4 405.4h2.5v2.5h-2.5zM612.9 405.4h4.8v2.5h-4.8zM624.1 405.4h2.5v2.5h-2.5zM642.1 405.4h2.5v2.5h-2.5zM646.6 405.4h2.5v2.5h-2.5zM606.2 407.6h2.5v2.5h-2.5zM610.6 407.6h2.5v2.5h-2.5zM619.6 407.6h4.8v2.5h-4.8zM628.6 407.6h2.5v2.5h-2.5zM644.3 407.6h2.5v2.5h-2.5zM653.3 407.6h2.5v2.5h-2.5zM660.1 407.6h2.5v2.5h-2.5zM664.6 407.6h2.5v2.5h-2.5zM606.2 409.9h2.5v2.5h-2.5zM615.1 409.9h7.0v2.5h-7.0zM624.1 409.9h2.5v2.5h-2.5zM639.8 409.9h4.8v2.5h-4.8zM664.6 409.9h2.5v2.5h-2.5zM559.0 423.3h2.5v2.5h-2.5zM554.5 434.4h9.3v2.5h-9.3zM568.0 434.4h2.5v2.5h-2.5zM572.5 434.4h4.8v2.5h-4.8zM556.7 436.7h4.8v2.5h-4.8zM563.5 436.7h2.5v2.5h-2.5zM568.0 436.7h2.5v2.5h-2.5zM577.0 436.7h4.8v2.5h-4.8zM554.5 438.9h2.5v2.5h-2.5zM559.0 438.9h2.5v2.5h-2.5zM568.0 438.9h2.5v2.5h-2.5z" fill="#fbecec" shape-rendering="crispEdges"/>
<path d="M585.9 385.3h2.5v2.5h-2.5zM597.2 389.8h2.5v2.5h-2.5zM594.9 392.0h2.5v2.5h-2.5zM563.5 412.1h2.5v2.5h-2.5zM554.5 414.3h4.8v2.5h-4.8zM561.2 416.6h2.5v2.5h-2.5zM565.7 416.6h2.5v2.5h-2.5zM556.7 418.8h9.3v2.5h-9.3zM559.0 421.0h2.5v2.5h-2.5zM565.7 421.0h4.8v2.5h-4.8zM561.2 423.3h9.3v2.5h-9.3zM559.0 425.5h2.5v2.5h-2.5zM563.5 425.5h2.5v2.5h-2.5zM568.0 425.5h4.8v2.5h-4.8zM554.5 427.7h2.5v2.5h-2.5zM559.0 427.7h2.5v2.5h-2.5zM563.5 427.7h2.5v2.5h-2.5zM568.0 427.7h2.5v2.5h-2.5zM568.0 430.0h7.0v2.5h-7.0zM579.2 430.0h2.5v2.5h-2.5zM559.0 432.2h2.5v2.5h-2.5zM563.5 432.2h2.5v2.5h-2.5zM572.5 432.2h2.5v2.5h-2.5zM579.2 432.2h2.5v2.5h-2.5zM563.5 434.4h4.8v2.5h-4.8zM570.2 434.4h2.5v2.5h-2.5zM577.0 434.4h4.8v2.5h-4.8zM637.6 434.4h2.5v2.5h-2.5zM554.5 436.7h2.5v2.5h-2.5zM561.2 436.7h2.5v2.5h-2.5zM565.7 436.7h2.5v2.5h-2.5zM570.2 436.7h7.0v2.5h-7.0zM646.6 436.7h2.5v2.5h-2.5zM664.6 436.7h2.5v2.5h-2.5zM556.7 438.9h2.5v2.5h-2.5zM561.2 438.9h7.0v2.5h-7.0zM570.2 438.9h11.5v2.5h-11.5zM651.1 438.9h2.5v2.5h-2.5zM664.6 438.9h2.5v2.5h-2.5zM581.5 441.2h2.5v2.5h-2.5zM648.8 441.2h2.5v2.5h-2.5zM655.6 443.4h2.5v2.5h-2.5zM660.1 443.4h4.8v2.5h-4.8zM592.7 445.6h2.5v2.5h-2.5zM655.6 445.6h2.5v2.5h-2.5zM648.8 447.9h2.5v2.5h-2.5zM583.7 450.1h2.5v2.5h-2.5zM585.9 452.3h9.3v2.5h-9.3zM655.6 452.3h4.8v2.5h-4.8zM588.2 454.6h2.5v2.5h-2.5zM597.2 456.8h2.5v2.5h-2.5zM601.7 456.8h2.5v2.5h-2.5zM592.7 459.0h2.5v2.5h-2.5zM585.9 461.3h2.5v2.5h-2.5zM581.5 463.5h2.5v2.5h-2.5zM597.2 468.0h2.5v2.5h-2.5zM583.7 470.2h2.5v2.5h-2.5zM597.2 470.2h2.5v2.5h-2.5zM585.9 472.4h2.5v2.5h-2.5zM606.2 472.4h2.5v2.5h-2.5zM581.5 474.7h2.5v2.5h-2.5zM585.9 474.7h4.8v2.5h-4.8zM601.7 476.9h4.8v2.5h-4.8zM603.9 479.1h2.5v2.5h-2.5zM581.5 481.4h4.8v2.5h-4.8zM601.7 483.6h2.5v2.5h-2.5zM594.9 485.8h2.5v2.5h-2.5zM603.9 485.8h2.5v2.5h-2.5zM617.4 485.8h2.5v2.5h-2.5zM583.7 488.1h2.5v2.5h-2.5zM626.4 488.1h2.5v2.5h-2.5zM588.2 490.3h2.5v2.5h-2.5zM592.7 490.3h2.5v2.5h-2.5zM601.7 490.3h4.8v2.5h-4.8zM594.9 492.5h2.5v2.5h-2.5zM624.1 492.5h2.5v2.5h-2.5zM606.2 494.8h2.5v2.5h-2.5zM610.6 494.8h9.3v2.5h-9.3z" fill="#f9e2e2" shape-rendering="crispEdges"/>
<path d="M581.5 385.3h2.5v2.5h-2.5zM590.4 385.3h2.5v2.5h-2.5zM594.9 385.3h2.5v2.5h-2.5zM599.4 385.3h2.5v2.5h-2.5zM603.9 385.3h2.5v2.5h-2.5zM592.7 387.5h2.5v2.5h-2.5zM603.9 387.5h2.5v2.5h-2.5zM581.5 389.8h2.5v2.5h-2.5zM585.9 389.8h2.5v2.5h-2.5zM599.4 389.8h4.8v2.5h-4.8zM599.4 392.0h2.5v2.5h-2.5zM592.7 394.2h2.5v2.5h-2.5zM590.4 398.7h2.5v2.5h-2.5zM597.2 398.7h4.8v2.5h-4.8zM597.2 400.9h4.8v2.5h-4.8zM594.9 405.4h2.5v2.5h-2.5zM599.4 405.4h2.5v2.5h-2.5zM603.9 405.4h2.5v2.5h-2.5zM603.9 407.6h2.5v2.5h-2.5zM601.7 409.9h2.5v2.5h-2.5zM554.5 412.1h4.8v2.5h-4.8zM565.7 412.1h4.8v2.5h-4.8zM610.6 412.1h4.8v2.5h-4.8zM630.9 412.1h4.8v2.5h-4.8zM646.6 412.1h7.0v2.5h-7.0zM655.6 412.1h2.5v2.5h-2.5zM559.0 414.3h4.8v2.5h-4.8zM568.0 414.3h2.5v2.5h-2.5zM610.6 414.3h2.5v2.5h-2.5zM619.6 414.3h2.5v2.5h-2.5zM637.6 414.3h2.5v2.5h-2.5zM642.1 414.3h2.5v2.5h-2.5zM662.3 414.3h2.5v2.5h-2.5zM554.5 416.6h2.5v2.5h-2.5zM559.0 416.6h2.5v2.5h-2.5zM568.0 416.6h4.8v2.5h-4.8zM608.4 416.6h2.5v2.5h-2.5zM568.0 418.8h2.5v2.5h-2.5zM633.1 418.8h4.8v2.5h-4.8zM639.8 418.8h2.5v2.5h-2.5zM646.6 418.8h2.5v2.5h-2.5zM657.8 418.8h2.5v2.5h-2.5zM556.7 421.0h2.5v2.5h-2.5zM570.2 421.0h2.5v2.5h-2.5zM574.7 421.0h2.5v2.5h-2.5zM610.6 421.0h2.5v2.5h-2.5zM621.9 421.0h2.5v2.5h-2.5zM651.1 421.0h2.5v2.5h-2.5zM655.6 421.0h2.5v2.5h-2.5zM554.5 423.3h2.5v2.5h-2.5zM570.2 423.3h2.5v2.5h-2.5zM577.0 423.3h2.5v2.5h-2.5zM617.4 423.3h4.8v2.5h-4.8zM624.1 423.3h2.5v2.5h-2.5zM651.1 423.3h2.5v2.5h-2.5zM554.5 425.5h4.8v2.5h-4.8zM577.0 425.5h4.8v2.5h-4.8zM626.4 425.5h2.5v2.5h-2.5zM662.3 425.5h2.5v2.5h-2.5zM556.7 427.7h2.5v2.5h-2.5zM570.2 427.7h2.5v2.5h-2.5zM574.7 427.7h2.5v2.5h-2.5zM579.2 427.7h2.5v2.5h-2.5zM617.4 427.7h2.5v2.5h-2.5zM655.6 427.7h2.5v2.5h-2.5zM660.1 427.7h2.5v2.5h-2.5zM554.5 430.0h4.8v2.5h-4.8zM563.5 430.0h4.8v2.5h-4.8zM577.0 430.0h2.5v2.5h-2.5zM628.6 430.0h2.5v2.5h-2.5zM644.3 430.0h2.5v2.5h-2.5zM651.1 430.0h7.0v2.5h-7.0zM554.5 432.2h4.8v2.5h-4.8zM568.0 432.2h4.8v2.5h-4.8zM628.6 432.2h2.5v2.5h-2.5zM639.8 432.2h2.5v2.5h-2.5zM653.3 432.2h2.5v2.5h-2.5zM581.5 434.4h2.5v2.5h-2.5zM585.9 434.4h2.5v2.5h-2.5zM628.6 434.4h2.5v2.5h-2.5zM639.8 434.4h4.8v2.5h-4.8zM646.6 434.4h2.5v2.5h-2.5zM588.2 436.7h2.5v2.5h-2.5zM635.4 436.7h2.5v2.5h-2.5zM639.8 436.7h2.5v2.5h-2.5zM648.8 436.7h2.5v2.5h-2.5zM653.3 436.7h2.5v2.5h-2.5zM660.1 436.7h4.8v2.5h-4.8zM639.8 438.9h2.5v2.5h-2.5zM646.6 438.9h4.8v2.5h-4.8zM585.9 441.2h7.0v2.5h-7.0zM628.6 441.2h2.5v2.5h-2.5zM639.8 441.2h2.5v2.5h-2.5zM644.3 441.2h4.8v2.5h-4.8zM657.8 441.2h2.5v2.5h-2.5zM581.5 443.4h2.5v2.5h-2.5zM635.4 443.4h4.8v2.5h-4.8zM653.3 443.4h2.5v2.5h-2.5zM657.8 443.4h2.5v2.5h-2.5zM581.5 445.6h4.8v2.5h-4.8zM599.4 445.6h2.5v2.5h-2.5zM630.9 445.6h7.0v2.5h-7.0zM642.1 445.6h2.5v2.5h-2.5zM657.8 445.6h2.5v2.5h-2.5zM662.3 445.6h4.8v2.5h-4.8zM581.5 447.9h2.5v2.5h-2.5zM585.9 447.9h4.8v2.5h-4.8zM642.1 447.9h2.5v2.5h-2.5zM646.6 447.9h2.5v2.5h-2.5zM651.1 447.9h2.5v2.5h-2.5zM592.7 450.1h2.5v2.5h-2.5zM597.2 450.1h2.5v2.5h-2.5zM637.6 450.1h2.5v2.5h-2.5zM644.3 450.1h4.8v2.5h-4.8zM664.6 450.1h2.5v2.5h-2.5zM581.5 452.3h2.5v2.5h-2.5zM599.4 452.3h2.5v2.5h-2.5zM648.8 452.3h2.5v2.5h-2.5zM653.3 452.3h2.5v2.5h-2.5zM660.1 452.3h2.5v2.5h-2.5zM599.4 454.6h4.8v2.5h-4.8zM644.3 454.6h2.5v2.5h-2.5zM648.8 454.6h2.5v2.5h-2.5zM664.6 454.6h2.5v2.5h-2.5zM583.7 456.8h9.3v2.5h-9.3zM594.9 456.8h2.5v2.5h-2.5zM608.4 456.8h2.5v2.5h-2.5zM651.1 456.8h2.5v2.5h-2.5zM657.8 456.8h4.8v2.5h-4.8zM588.2 459.0h4.8v2.5h-4.8zM610.6 459.0h2.5v2.5h-2.5zM612.9 461.3h2.5v2.5h-2.5zM662.3 461.3h2.5v2.5h-2.5zM585.9 463.5h2.5v2.5h-2.5zM594.9 463.5h2.5v2.5h-2.5zM603.9 463.5h2.5v2.5h-2.5zM583.7 465.7h4.8v2.5h-4.8zM594.9 465.7h2.5v2.5h-2.5zM601.7 465.7h2.5v2.5h-2.5zM606.2 465.7h2.5v2.5h-2.5zM610.6 465.7h2.5v2.5h-2.5zM660.1 465.7h4.8v2.5h-4.8zM601.7 468.0h2.5v2.5h-2.5zM608.4 468.0h2.5v2.5h-2.5zM581.5 470.2h2.5v2.5h-2.5zM599.4 470.2h4.8v2.5h-4.8zM606.2 470.2h2.5v2.5h-2.5zM615.1 470.2h2.5v2.5h-2.5zM619.6 470.2h2.5v2.5h-2.5zM594.9 472.4h4.8v2.5h-4.8zM612.9 472.4h2.5v2.5h-2.5zM621.9 472.4h2.5v2.5h-2.5zM626.4 472.4h2.5v2.5h-2.5zM594.9 474.7h2.5v2.5h-2.5zM599.4 474.7h4.8v2.5h-4.8zM621.9 474.7h2.5v2.5h-2.5zM626.4 474.7h2.5v2.5h-2.5zM583.7 476.9h9.3v2.5h-9.3zM597.2 476.9h2.5v2.5h-2.5zM606.2 476.9h2.5v2.5h-2.5zM610.6 476.9h2.5v2.5h-2.5zM615.1 476.9h2.5v2.5h-2.5zM619.6 476.9h2.5v2.5h-2.5zM626.4 476.9h2.5v2.5h-2.5zM594.9 479.1h4.8v2.5h-4.8zM601.7 479.1h2.5v2.5h-2.5zM608.4 479.1h2.5v2.5h-2.5zM615.1 479.1h2.5v2.5h-2.5zM585.9 481.4h2.5v2.5h-2.5zM590.4 481.4h4.8v2.5h-4.8zM597.2 481.4h2.5v2.5h-2.5zM612.9 481.4h4.8v2.5h-4.8zM621.9 481.4h2.5v2.5h-2.5zM581.5 483.6h4.8v2.5h-4.8zM588.2 483.6h2.5v2.5h-2.5zM594.9 483.6h2.5v2.5h-2.5zM599.4 483.6h2.5v2.5h-2.5zM619.6 483.6h2.5v2.5h-2.5zM624.1 483.6h2.5v2.5h-2.5zM592.7 485.8h2.5v2.5h-2.5zM599.4 485.8h2.5v2.5h-2.5zM610.6 485.8h4.8v2.5h-4.8zM624.1 485.8h2.5v2.5h-2.5zM633.1 485.8h2.5v2.5h-2.5zM594.9 488.1h2.5v2.5h-2.5zM599.4 488.1h2.5v2.5h-2.5zM603.9 488.1h2.5v2.5h-2.5zM619.6 488.1h2.5v2.5h-2.5zM590.4 490.3h2.5v2.5h-2.5zM594.9 490.3h7.0v2.5h-7.0zM606.2 490.3h2.5v2.5h-2.5zM610.6 490.3h2.5v2.5h-2.5zM615.1 490.3h4.8v2.5h-4.8zM635.4 490.3h2.5v2.5h-2.5zM581.5 492.5h2.5v2.5h-2.5zM585.9 492.5h2.5v2.5h-2.5zM590.4 492.5h4.8v2.5h-4.8zM597.2 492.5h2.5v2.5h-2.5zM603.9 492.5h2.5v2.5h-2.5zM608.4 492.5h2.5v2.5h-2.5zM615.1 492.5h2.5v2.5h-2.5zM628.6 492.5h4.8v2.5h-4.8zM585.9 494.8h4.8v2.5h-4.8zM592.7 494.8h2.5v2.5h-2.5zM597.2 494.8h2.5v2.5h-2.5zM603.9 494.8h2.5v2.5h-2.5zM608.4 494.8h2.5v2.5h-2.5zM635.4 494.8h2.5v2.5h-2.5z" fill="#f8d8d9" shape-rendering="crispEdges"/>
<path d="M588.2 385.3h2.5v2.5h-2.5zM592.7 385.3h2.5v2.5h-2.5zM588.2 387.5h2.5v2.5h-2.5zM583.7 389.8h2.5v2.5h-2.5zM588.2 389.8h2.5v2.5h-2.5zM592.7 389.8h2.5v2.5h-2.5zM592.7 392.0h2.5v2.5h-2.5zM583.7 394.2h4.8v2.5h-4.8zM601.7 394.2h2.5v2.5h-2.5zM588.2 396.5h2.5v2.5h-2.5zM597.2 396.5h2.5v2.5h-2.5zM581.5 398.7h2.5v2.5h-2.5zM588.2 398.7h2.5v2.5h-2.5zM594.9 398.7h2.5v2.5h-2.5zM601.7 398.7h2.5v2.5h-2.5zM594.9 400.9h2.5v2.5h-2.5zM601.7 400.9h2.5v2.5h-2.5zM590.4 403.2h2.5v2.5h-2.5zM601.7 403.2h4.8v2.5h-4.8zM601.7 405.4h2.5v2.5h-2.5zM588.2 407.6h2.5v2.5h-2.5zM561.2 412.1h2.5v2.5h-2.5zM619.6 412.1h2.5v2.5h-2.5zM624.1 412.1h2.5v2.5h-2.5zM639.8 412.1h2.5v2.5h-2.5zM664.6 412.1h2.5v2.5h-2.5zM606.2 414.3h4.8v2.5h-4.8zM628.6 414.3h2.5v2.5h-2.5zM651.1 414.3h7.0v2.5h-7.0zM664.6 414.3h2.5v2.5h-2.5zM556.7 416.6h2.5v2.5h-2.5zM603.9 416.6h4.8v2.5h-4.8zM628.6 416.6h2.5v2.5h-2.5zM639.8 416.6h4.8v2.5h-4.8zM651.1 416.6h7.0v2.5h-7.0zM662.3 416.6h2.5v2.5h-2.5zM554.5 418.8h2.5v2.5h-2.5zM565.7 418.8h2.5v2.5h-2.5zM572.5 418.8h2.5v2.5h-2.5zM626.4 418.8h4.8v2.5h-4.8zM644.3 418.8h2.5v2.5h-2.5zM655.6 418.8h2.5v2.5h-2.5zM554.5 421.0h2.5v2.5h-2.5zM561.2 421.0h4.8v2.5h-4.8zM579.2 421.0h2.5v2.5h-2.5zM633.1 421.0h2.5v2.5h-2.5zM639.8 421.0h2.5v2.5h-2.5zM648.8 421.0h2.5v2.5h-2.5zM662.3 421.0h2.5v2.5h-2.5zM556.7 423.3h2.5v2.5h-2.5zM574.7 423.3h2.5v2.5h-2.5zM626.4 423.3h2.5v2.5h-2.5zM633.1 423.3h2.5v2.5h-2.5zM637.6 423.3h2.5v2.5h-2.5zM642.1 423.3h2.5v2.5h-2.5zM648.8 423.3h2.5v2.5h-2.5zM660.1 423.3h2.5v2.5h-2.5zM561.2 425.5h2.5v2.5h-2.5zM565.7 425.5h2.5v2.5h-2.5zM574.7 425.5h2.5v2.5h-2.5zM608.4 425.5h2.5v2.5h-2.5zM612.9 425.5h4.8v2.5h-4.8zM619.6 425.5h2.5v2.5h-2.5zM633.1 425.5h2.5v2.5h-2.5zM639.8 425.5h2.5v2.5h-2.5zM646.6 425.5h2.5v2.5h-2.5zM655.6 425.5h2.5v2.5h-2.5zM660.1 425.5h2.5v2.5h-2.5zM561.2 427.7h2.5v2.5h-2.5zM565.7 427.7h2.5v2.5h-2.5zM572.5 427.7h2.5v2.5h-2.5zM577.0 427.7h2.5v2.5h-2.5zM630.9 427.7h2.5v2.5h-2.5zM642.1 427.7h2.5v2.5h-2.5zM651.1 427.7h2.5v2.5h-2.5zM662.3 427.7h4.8v2.5h-4.8zM559.0 430.0h4.8v2.5h-4.8zM615.1 430.0h2.5v2.5h-2.5zM635.4 430.0h2.5v2.5h-2.5zM646.6 430.0h2.5v2.5h-2.5zM662.3 430.0h4.8v2.5h-4.8zM561.2 432.2h2.5v2.5h-2.5zM565.7 432.2h2.5v2.5h-2.5zM574.7 432.2h4.8v2.5h-4.8zM630.9 432.2h2.5v2.5h-2.5zM644.3 432.2h2.5v2.5h-2.5zM655.6 432.2h2.5v2.5h-2.5zM588.2 434.4h2.5v2.5h-2.5zM626.4 434.4h2.5v2.5h-2.5zM633.1 434.4h4.8v2.5h-4.8zM644.3 434.4h2.5v2.5h-2.5zM648.8 434.4h4.8v2.5h-4.8zM655.6 434.4h2.5v2.5h-2.5zM583.7 436.7h4.8v2.5h-4.8zM594.9 436.7h2.5v2.5h-2.5zM619.6 436.7h7.0v2.5h-7.0zM651.1 436.7h2.5v2.5h-2.5zM655.6 436.7h2.5v2.5h-2.5zM588.2 438.9h2.5v2.5h-2.5zM637.6 438.9h2.5v2.5h-2.5zM653.3 438.9h2.5v2.5h-2.5zM660.1 438.9h2.5v2.5h-2.5zM592.7 441.2h2.5v2.5h-2.5zM642.1 441.2h2.5v2.5h-2.5zM655.6 441.2h2.5v2.5h-2.5zM583.7 443.4h2.5v2.5h-2.5zM597.2 443.4h2.5v2.5h-2.5zM651.1 443.4h2.5v2.5h-2.5zM664.6 443.4h2.5v2.5h-2.5zM597.2 445.6h2.5v2.5h-2.5zM626.4 445.6h2.5v2.5h-2.5zM648.8 445.6h2.5v2.5h-2.5zM653.3 445.6h2.5v2.5h-2.5zM660.1 445.6h2.5v2.5h-2.5zM583.7 447.9h2.5v2.5h-2.5zM592.7 447.9h2.5v2.5h-2.5zM597.2 447.9h2.5v2.5h-2.5zM633.1 447.9h2.5v2.5h-2.5zM657.8 447.9h2.5v2.5h-2.5zM590.4 450.1h2.5v2.5h-2.5zM601.7 450.1h2.5v2.5h-2.5zM651.1 450.1h2.5v2.5h-2.5zM657.8 450.1h2.5v2.5h-2.5zM662.3 450.1h2.5v2.5h-2.5zM597.2 452.3h2.5v2.5h-2.5zM601.7 452.3h2.5v2.5h-2.5zM608.4 452.3h2.5v2.5h-2.5zM639.8 452.3h4.8v2.5h-4.8zM651.1 452.3h2.5v2.5h-2.5zM662.3 452.3h4.8v2.5h-4.8zM585.9 454.6h2.5v2.5h-2.5zM597.2 454.6h2.5v2.5h-2.5zM655.6 454.6h7.0v2.5h-7.0zM592.7 456.8h2.5v2.5h-2.5zM603.9 456.8h2.5v2.5h-2.5zM610.6 456.8h4.8v2.5h-4.8zM653.3 456.8h2.5v2.5h-2.5zM662.3 456.8h2.5v2.5h-2.5zM594.9 459.0h2.5v2.5h-2.5zM648.8 459.0h4.8v2.5h-4.8zM581.5 461.3h2.5v2.5h-2.5zM592.7 461.3h4.8v2.5h-4.8zM644.3 461.3h2.5v2.5h-2.5zM664.6 461.3h2.5v2.5h-2.5zM583.7 463.5h2.5v2.5h-2.5zM588.2 463.5h2.5v2.5h-2.5zM599.4 463.5h2.5v2.5h-2.5zM610.6 463.5h2.5v2.5h-2.5zM648.8 463.5h4.8v2.5h-4.8zM660.1 463.5h2.5v2.5h-2.5zM581.5 465.7h2.5v2.5h-2.5zM588.2 465.7h4.8v2.5h-4.8zM608.4 465.7h2.5v2.5h-2.5zM648.8 465.7h7.0v2.5h-7.0zM664.6 465.7h2.5v2.5h-2.5zM581.5 468.0h2.5v2.5h-2.5zM588.2 468.0h2.5v2.5h-2.5zM599.4 468.0h2.5v2.5h-2.5zM603.9 468.0h2.5v2.5h-2.5zM615.1 468.0h2.5v2.5h-2.5zM619.6 468.0h4.8v2.5h-4.8zM588.2 470.2h4.8v2.5h-4.8zM594.9 470.2h2.5v2.5h-2.5zM603.9 470.2h2.5v2.5h-2.5zM612.9 470.2h2.5v2.5h-2.5zM590.4 472.4h2.5v2.5h-2.5zM599.4 472.4h2.5v2.5h-2.5zM615.1 472.4h7.0v2.5h-7.0zM624.1 472.4h2.5v2.5h-2.5zM610.6 474.7h2.5v2.5h-2.5zM615.1 474.7h4.8v2.5h-4.8zM612.9 476.9h2.5v2.5h-2.5zM617.4 476.9h2.5v2.5h-2.5zM624.1 476.9h2.5v2.5h-2.5zM583.7 479.1h9.3v2.5h-9.3zM599.4 479.1h2.5v2.5h-2.5zM610.6 479.1h2.5v2.5h-2.5zM617.4 479.1h2.5v2.5h-2.5zM624.1 479.1h7.0v2.5h-7.0zM601.7 481.4h4.8v2.5h-4.8zM619.6 481.4h2.5v2.5h-2.5zM626.4 481.4h7.0v2.5h-7.0zM585.9 483.6h2.5v2.5h-2.5zM590.4 483.6h2.5v2.5h-2.5zM610.6 483.6h2.5v2.5h-2.5zM626.4 483.6h2.5v2.5h-2.5zM588.2 485.8h4.8v2.5h-4.8zM615.1 485.8h2.5v2.5h-2.5zM621.9 485.8h2.5v2.5h-2.5zM581.5 488.1h2.5v2.5h-2.5zM588.2 488.1h7.0v2.5h-7.0zM601.7 488.1h2.5v2.5h-2.5zM606.2 488.1h2.5v2.5h-2.5zM612.9 488.1h2.5v2.5h-2.5zM617.4 488.1h2.5v2.5h-2.5zM635.4 488.1h2.5v2.5h-2.5zM581.5 490.3h7.0v2.5h-7.0zM612.9 490.3h2.5v2.5h-2.5zM624.1 490.3h2.5v2.5h-2.5zM599.4 492.5h2.5v2.5h-2.5zM610.6 492.5h2.5v2.5h-2.5zM617.4 492.5h2.5v2.5h-2.5zM621.9 492.5h2.5v2.5h-2.5zM626.4 492.5h2.5v2.5h-2.5zM633.1 492.5h2.5v2.5h-2.5zM581.5 494.8h4.8v2.5h-4.8zM619.6 494.8h2.5v2.5h-2.5z" fill="#f6cecf" shape-rendering="crispEdges"/>
<path d="M597.2 385.3h2.5v2.5h-2.5zM601.7 385.3h2.5v2.5h-2.5zM599.4 387.5h2.5v2.5h-2.5zM590.4 389.8h2.5v2.5h-2.5zM594.9 389.8h2.5v2.5h-2.5zM603.9 389.8h2.5v2.5h-2.5zM585.9 392.0h2.5v2.5h-2.5zM590.4 392.0h2.5v2.5h-2.5zM597.2 392.0h2.5v2.5h-2.5zM601.7 392.0h2.5v2.5h-2.5zM581.5 394.2h2.5v2.5h-2.5zM594.9 394.2h2.5v2.5h-2.5zM581.5 396.5h2.5v2.5h-2.5zM585.9 396.5h2.5v2.5h-2.5zM594.9 396.5h2.5v2.5h-2.5zM603.9 396.5h2.5v2.5h-2.5zM585.9 398.7h2.5v2.5h-2.5zM585.9 400.9h4.8v2.5h-4.8zM581.5 403.2h2.5v2.5h-2.5zM597.2 403.2h2.5v2.5h-2.5zM588.2 405.4h2.5v2.5h-2.5zM597.2 409.9h4.8v2.5h-4.8zM603.9 409.9h2.5v2.5h-2.5zM559.0 412.1h2.5v2.5h-2.5zM570.2 412.1h4.8v2.5h-4.8zM606.2 412.1h2.5v2.5h-2.5zM615.1 412.1h2.5v2.5h-2.5zM621.9 412.1h2.5v2.5h-2.5zM626.4 412.1h4.8v2.5h-4.8zM644.3 412.1h2.5v2.5h-2.5zM653.3 412.1h2.5v2.5h-2.5zM657.8 412.1h7.0v2.5h-7.0zM563.5 414.3h2.5v2.5h-2.5zM617.4 414.3h2.5v2.5h-2.5zM624.1 414.3h2.5v2.5h-2.5zM630.9 414.3h2.5v2.5h-2.5zM635.4 414.3h2.5v2.5h-2.5zM646.6 414.3h2.5v2.5h-2.5zM563.5 416.6h2.5v2.5h-2.5zM619.6 416.6h4.8v2.5h-4.8zM630.9 416.6h2.5v2.5h-2.5zM646.6 416.6h2.5v2.5h-2.5zM657.8 416.6h4.8v2.5h-4.8zM570.2 418.8h2.5v2.5h-2.5zM610.6 418.8h4.8v2.5h-4.8zM619.6 418.8h2.5v2.5h-2.5zM630.9 418.8h2.5v2.5h-2.5zM642.1 418.8h2.5v2.5h-2.5zM662.3 418.8h2.5v2.5h-2.5zM572.5 421.0h2.5v2.5h-2.5zM608.4 421.0h2.5v2.5h-2.5zM624.1 421.0h2.5v2.5h-2.5zM628.6 421.0h2.5v2.5h-2.5zM644.3 421.0h2.5v2.5h-2.5zM572.5 423.3h2.5v2.5h-2.5zM621.9 423.3h2.5v2.5h-2.5zM653.3 423.3h4.8v2.5h-4.8zM662.3 423.3h2.5v2.5h-2.5zM572.5 425.5h2.5v2.5h-2.5zM617.4 425.5h2.5v2.5h-2.5zM637.6 425.5h2.5v2.5h-2.5zM648.8 425.5h2.5v2.5h-2.5zM664.6 425.5h2.5v2.5h-2.5zM612.9 427.7h4.8v2.5h-4.8zM633.1 427.7h4.8v2.5h-4.8zM639.8 427.7h2.5v2.5h-2.5zM644.3 427.7h2.5v2.5h-2.5zM648.8 427.7h2.5v2.5h-2.5zM574.7 430.0h2.5v2.5h-2.5zM612.9 430.0h2.5v2.5h-2.5zM619.6 430.0h7.0v2.5h-7.0zM637.6 430.0h7.0v2.5h-7.0zM657.8 430.0h2.5v2.5h-2.5zM617.4 432.2h7.0v2.5h-7.0zM633.1 432.2h4.8v2.5h-4.8zM648.8 432.2h4.8v2.5h-4.8zM664.6 432.2h2.5v2.5h-2.5zM619.6 434.4h7.0v2.5h-7.0zM630.9 434.4h2.5v2.5h-2.5zM653.3 434.4h2.5v2.5h-2.5zM657.8 434.4h2.5v2.5h-2.5zM592.7 436.7h2.5v2.5h-2.5zM628.6 436.7h4.8v2.5h-4.8zM637.6 436.7h2.5v2.5h-2.5zM642.1 436.7h2.5v2.5h-2.5zM657.8 436.7h2.5v2.5h-2.5zM581.5 438.9h2.5v2.5h-2.5zM592.7 438.9h4.8v2.5h-4.8zM626.4 438.9h2.5v2.5h-2.5zM635.4 438.9h2.5v2.5h-2.5zM642.1 438.9h4.8v2.5h-4.8zM655.6 438.9h2.5v2.5h-2.5zM621.9 441.2h2.5v2.5h-2.5zM626.4 441.2h2.5v2.5h-2.5zM630.9 441.2h2.5v2.5h-2.5zM653.3 441.2h2.5v2.5h-2.5zM660.1 441.2h4.8v2.5h-4.8zM588.2 443.4h2.5v2.5h-2.5zM592.7 443.4h2.5v2.5h-2.5zM601.7 443.4h2.5v2.5h-2.5zM626.4 443.4h2.5v2.5h-2.5zM630.9 443.4h2.5v2.5h-2.5zM644.3 443.4h7.0v2.5h-7.0zM590.4 445.6h2.5v2.5h-2.5zM594.9 445.6h2.5v2.5h-2.5zM651.1 445.6h2.5v2.5h-2.5zM590.4 447.9h2.5v2.5h-2.5zM599.4 447.9h4.8v2.5h-4.8zM637.6 447.9h2.5v2.5h-2.5zM644.3 447.9h2.5v2.5h-2.5zM660.1 447.9h2.5v2.5h-2.5zM581.5 450.1h2.5v2.5h-2.5zM585.9 450.1h4.8v2.5h-4.8zM594.9 450.1h2.5v2.5h-2.5zM608.4 450.1h2.5v2.5h-2.5zM644.3 452.3h2.5v2.5h-2.5zM581.5 454.6h4.8v2.5h-4.8zM590.4 454.6h2.5v2.5h-2.5zM594.9 454.6h2.5v2.5h-2.5zM608.4 454.6h4.8v2.5h-4.8zM646.6 454.6h2.5v2.5h-2.5zM662.3 454.6h2.5v2.5h-2.5zM639.8 456.8h2.5v2.5h-2.5zM646.6 456.8h4.8v2.5h-4.8zM664.6 456.8h2.5v2.5h-2.5zM581.5 459.0h2.5v2.5h-2.5zM585.9 459.0h2.5v2.5h-2.5zM599.4 459.0h2.5v2.5h-2.5zM606.2 459.0h4.8v2.5h-4.8zM615.1 459.0h2.5v2.5h-2.5zM657.8 459.0h2.5v2.5h-2.5zM662.3 459.0h2.5v2.5h-2.5zM583.7 461.3h2.5v2.5h-2.5zM588.2 461.3h2.5v2.5h-2.5zM597.2 461.3h9.3v2.5h-9.3zM660.1 461.3h2.5v2.5h-2.5zM601.7 463.5h2.5v2.5h-2.5zM615.1 463.5h2.5v2.5h-2.5zM655.6 463.5h2.5v2.5h-2.5zM592.7 465.7h2.5v2.5h-2.5zM597.2 465.7h4.8v2.5h-4.8zM615.1 465.7h2.5v2.5h-2.5zM583.7 468.0h4.8v2.5h-4.8zM590.4 468.0h4.8v2.5h-4.8zM606.2 468.0h2.5v2.5h-2.5zM610.6 468.0h2.5v2.5h-2.5zM617.4 468.0h2.5v2.5h-2.5zM624.1 468.0h2.5v2.5h-2.5zM592.7 470.2h2.5v2.5h-2.5zM581.5 472.4h4.8v2.5h-4.8zM588.2 472.4h2.5v2.5h-2.5zM592.7 472.4h2.5v2.5h-2.5zM601.7 472.4h4.8v2.5h-4.8zM583.7 474.7h2.5v2.5h-2.5zM590.4 474.7h4.8v2.5h-4.8zM597.2 474.7h2.5v2.5h-2.5zM603.9 474.7h7.0v2.5h-7.0zM612.9 474.7h2.5v2.5h-2.5zM624.1 474.7h2.5v2.5h-2.5zM630.9 474.7h2.5v2.5h-2.5zM581.5 476.9h2.5v2.5h-2.5zM592.7 476.9h4.8v2.5h-4.8zM599.4 476.9h2.5v2.5h-2.5zM608.4 476.9h2.5v2.5h-2.5zM628.6 476.9h4.8v2.5h-4.8zM581.5 479.1h2.5v2.5h-2.5zM592.7 479.1h2.5v2.5h-2.5zM606.2 479.1h2.5v2.5h-2.5zM612.9 479.1h2.5v2.5h-2.5zM619.6 479.1h2.5v2.5h-2.5zM633.1 479.1h2.5v2.5h-2.5zM588.2 481.4h2.5v2.5h-2.5zM594.9 481.4h2.5v2.5h-2.5zM608.4 481.4h2.5v2.5h-2.5zM617.4 481.4h2.5v2.5h-2.5zM624.1 481.4h2.5v2.5h-2.5zM633.1 481.4h2.5v2.5h-2.5zM592.7 483.6h2.5v2.5h-2.5zM597.2 483.6h2.5v2.5h-2.5zM606.2 483.6h4.8v2.5h-4.8zM612.9 483.6h2.5v2.5h-2.5zM617.4 483.6h2.5v2.5h-2.5zM621.9 483.6h2.5v2.5h-2.5zM628.6 483.6h4.8v2.5h-4.8zM581.5 485.8h7.0v2.5h-7.0zM597.2 485.8h2.5v2.5h-2.5zM601.7 485.8h2.5v2.5h-2.5zM606.2 485.8h4.8v2.5h-4.8zM619.6 485.8h2.5v2.5h-2.5zM630.9 485.8h2.5v2.5h-2.5zM635.4 485.8h2.5v2.5h-2.5zM585.9 488.1h2.5v2.5h-2.5zM597.2 488.1h2.5v2.5h-2.5zM608.4 488.1h2.5v2.5h-2.5zM624.1 488.1h2.5v2.5h-2.5zM628.6 488.1h2.5v2.5h-2.5zM633.1 488.1h2.5v2.5h-2.5zM619.6 490.3h2.5v2.5h-2.5zM630.9 490.3h2.5v2.5h-2.5zM588.2 492.5h2.5v2.5h-2.5zM612.9 492.5h2.5v2.5h-2.5zM619.6 492.5h2.5v2.5h-2.5zM590.4 494.8h2.5v2.5h-2.5zM594.9 494.8h2.5v2.5h-2.5zM599.4 494.8h4.8v2.5h-4.8zM624.1 494.8h4.8v2.5h-4.8zM633.1 494.8h2.5v2.5h-2.5z" fill="#f4c5c6" shape-rendering="crispEdges"/>
<path d="M583.7 385.3h2.5v2.5h-2.5zM583.7 387.5h4.8v2.5h-4.8zM590.4 387.5h2.5v2.5h-2.5zM594.9 387.5h4.8v2.5h-4.8zM601.7 387.5h2.5v2.5h-2.5zM583.7 392.0h2.5v2.5h-2.5zM588.2 392.0h2.5v2.5h-2.5zM603.9 392.0h2.5v2.5h-2.5zM590.4 394.2h2.5v2.5h-2.5zM597.2 394.2h4.8v2.5h-4.8zM603.9 394.2h2.5v2.5h-2.5zM583.7 396.5h2.5v2.5h-2.5zM590.4 396.5h4.8v2.5h-4.8zM599.4 396.5h4.8v2.5h-4.8zM583.7 398.7h2.5v2.5h-2.5zM603.9 398.7h2.5v2.5h-2.5zM603.9 400.9h2.5v2.5h-2.5zM583.7 403.2h2.5v2.5h-2.5zM588.2 403.2h2.5v2.5h-2.5zM594.9 403.2h2.5v2.5h-2.5zM583.7 405.4h2.5v2.5h-2.5zM597.2 405.4h2.5v2.5h-2.5zM590.4 407.6h2.5v2.5h-2.5zM556.7 409.9h2.5v2.5h-2.5zM561.2 409.9h2.5v2.5h-2.5zM594.9 409.9h2.5v2.5h-2.5zM565.7 414.3h2.5v2.5h-2.5zM615.1 414.3h2.5v2.5h-2.5zM633.1 414.3h2.5v2.5h-2.5zM639.8 414.3h2.5v2.5h-2.5zM644.3 414.3h2.5v2.5h-2.5zM648.8 414.3h2.5v2.5h-2.5zM660.1 414.3h2.5v2.5h-2.5zM572.5 416.6h2.5v2.5h-2.5zM615.1 416.6h4.8v2.5h-4.8zM633.1 416.6h2.5v2.5h-2.5zM574.7 418.8h2.5v2.5h-2.5zM579.2 418.8h2.5v2.5h-2.5zM606.2 418.8h2.5v2.5h-2.5zM621.9 418.8h4.8v2.5h-4.8zM648.8 418.8h7.0v2.5h-7.0zM660.1 418.8h2.5v2.5h-2.5zM626.4 421.0h2.5v2.5h-2.5zM635.4 421.0h4.8v2.5h-4.8zM646.6 421.0h2.5v2.5h-2.5zM657.8 421.0h2.5v2.5h-2.5zM606.2 423.3h2.5v2.5h-2.5zM615.1 423.3h2.5v2.5h-2.5zM630.9 423.3h2.5v2.5h-2.5zM635.4 423.3h2.5v2.5h-2.5zM639.8 423.3h2.5v2.5h-2.5zM646.6 423.3h2.5v2.5h-2.5zM657.8 423.3h2.5v2.5h-2.5zM664.6 423.3h2.5v2.5h-2.5zM624.1 425.5h2.5v2.5h-2.5zM635.4 425.5h2.5v2.5h-2.5zM657.8 425.5h2.5v2.5h-2.5zM610.6 427.7h2.5v2.5h-2.5zM637.6 427.7h2.5v2.5h-2.5zM646.6 427.7h2.5v2.5h-2.5zM610.6 430.0h2.5v2.5h-2.5zM617.4 430.0h2.5v2.5h-2.5zM660.1 430.0h2.5v2.5h-2.5zM612.9 432.2h2.5v2.5h-2.5zM624.1 432.2h2.5v2.5h-2.5zM637.6 432.2h2.5v2.5h-2.5zM646.6 432.2h2.5v2.5h-2.5zM657.8 432.2h2.5v2.5h-2.5zM583.7 434.4h2.5v2.5h-2.5zM590.4 434.4h2.5v2.5h-2.5zM660.1 434.4h7.0v2.5h-7.0zM581.5 436.7h2.5v2.5h-2.5zM597.2 436.7h2.5v2.5h-2.5zM633.1 436.7h2.5v2.5h-2.5zM644.3 436.7h2.5v2.5h-2.5zM583.7 438.9h4.8v2.5h-4.8zM628.6 438.9h7.0v2.5h-7.0zM657.8 438.9h2.5v2.5h-2.5zM662.3 438.9h2.5v2.5h-2.5zM583.7 441.2h2.5v2.5h-2.5zM633.1 441.2h7.0v2.5h-7.0zM651.1 441.2h2.5v2.5h-2.5zM664.6 441.2h2.5v2.5h-2.5zM585.9 443.4h2.5v2.5h-2.5zM590.4 443.4h2.5v2.5h-2.5zM594.9 443.4h2.5v2.5h-2.5zM599.4 443.4h2.5v2.5h-2.5zM628.6 443.4h2.5v2.5h-2.5zM633.1 443.4h2.5v2.5h-2.5zM639.8 443.4h4.8v2.5h-4.8zM585.9 445.6h4.8v2.5h-4.8zM637.6 445.6h4.8v2.5h-4.8zM646.6 445.6h2.5v2.5h-2.5zM594.9 447.9h2.5v2.5h-2.5zM628.6 447.9h2.5v2.5h-2.5zM639.8 447.9h2.5v2.5h-2.5zM653.3 447.9h4.8v2.5h-4.8zM662.3 447.9h4.8v2.5h-4.8zM610.6 450.1h2.5v2.5h-2.5zM648.8 450.1h2.5v2.5h-2.5zM653.3 450.1h4.8v2.5h-4.8zM660.1 450.1h2.5v2.5h-2.5zM583.7 452.3h2.5v2.5h-2.5zM594.9 452.3h2.5v2.5h-2.5zM603.9 452.3h2.5v2.5h-2.5zM637.6 452.3h2.5v2.5h-2.5zM646.6 452.3h2.5v2.5h-2.5zM592.7 454.6h2.5v2.5h-2.5zM639.8 454.6h2.5v2.5h-2.5zM651.1 454.6h4.8v2.5h-4.8zM581.5 456.8h2.5v2.5h-2.5zM599.4 456.8h2.5v2.5h-2.5zM606.2 456.8h2.5v2.5h-2.5zM642.1 456.8h2.5v2.5h-2.5zM655.6 456.8h2.5v2.5h-2.5zM583.7 459.0h2.5v2.5h-2.5zM597.2 459.0h2.5v2.5h-2.5zM601.7 459.0h4.8v2.5h-4.8zM612.9 459.0h2.5v2.5h-2.5zM660.1 459.0h2.5v2.5h-2.5zM664.6 459.0h2.5v2.5h-2.5zM590.4 461.3h2.5v2.5h-2.5zM606.2 461.3h2.5v2.5h-2.5zM651.1 461.3h2.5v2.5h-2.5zM657.8 461.3h2.5v2.5h-2.5zM590.4 463.5h4.8v2.5h-4.8zM597.2 463.5h2.5v2.5h-2.5zM608.4 463.5h2.5v2.5h-2.5zM644.3 463.5h2.5v2.5h-2.5zM653.3 463.5h2.5v2.5h-2.5zM657.8 463.5h2.5v2.5h-2.5zM662.3 463.5h4.8v2.5h-4.8zM603.9 465.7h2.5v2.5h-2.5zM612.9 465.7h2.5v2.5h-2.5zM657.8 465.7h2.5v2.5h-2.5zM594.9 468.0h2.5v2.5h-2.5zM612.9 468.0h2.5v2.5h-2.5zM662.3 468.0h2.5v2.5h-2.5zM585.9 470.2h2.5v2.5h-2.5zM608.4 470.2h2.5v2.5h-2.5zM624.1 470.2h2.5v2.5h-2.5zM657.8 470.2h2.5v2.5h-2.5zM608.4 472.4h4.8v2.5h-4.8zM630.9 472.4h4.8v2.5h-4.8zM657.8 472.4h2.5v2.5h-2.5zM662.3 472.4h2.5v2.5h-2.5zM619.6 474.7h2.5v2.5h-2.5zM635.4 474.7h2.5v2.5h-2.5zM635.4 476.9h2.5v2.5h-2.5zM621.9 479.1h2.5v2.5h-2.5zM630.9 479.1h2.5v2.5h-2.5zM599.4 481.4h2.5v2.5h-2.5zM606.2 481.4h2.5v2.5h-2.5zM610.6 481.4h2.5v2.5h-2.5zM603.9 483.6h2.5v2.5h-2.5zM615.1 483.6h2.5v2.5h-2.5zM637.6 483.6h2.5v2.5h-2.5zM626.4 485.8h2.5v2.5h-2.5zM610.6 488.1h2.5v2.5h-2.5zM615.1 488.1h2.5v2.5h-2.5zM621.9 488.1h2.5v2.5h-2.5zM642.1 488.1h2.5v2.5h-2.5zM608.4 490.3h2.5v2.5h-2.5zM621.9 490.3h2.5v2.5h-2.5zM626.4 490.3h4.8v2.5h-4.8zM633.1 490.3h2.5v2.5h-2.5zM637.6 490.3h2.5v2.5h-2.5zM583.7 492.5h2.5v2.5h-2.5zM601.7 492.5h2.5v2.5h-2.5zM606.2 492.5h2.5v2.5h-2.5zM644.3 492.5h2.5v2.5h-2.5zM621.9 494.8h2.5v2.5h-2.5zM628.6 494.8h4.8v2.5h-4.8zM637.6 494.8h2.5v2.5h-2.5z" fill="#f2bbbc" shape-rendering="crispEdges"/>
<path d="M572.5 385.3h2.5v2.5h-2.5zM574.7 387.5h2.5v2.5h-2.5zM581.5 387.5h2.5v2.5h-2.5zM574.7 389.8h2.5v2.5h-2.5zM579.2 389.8h2.5v2.5h-2.5zM581.5 392.0h2.5v2.5h-2.5zM588.2 394.2h2.5v2.5h-2.5zM559.0 398.7h2.5v2.5h-2.5zM592.7 398.7h2.5v2.5h-2.5zM554.5 400.9h2.5v2.5h-2.5zM583.7 400.9h2.5v2.5h-2.5zM590.4 400.9h4.8v2.5h-4.8zM559.0 403.2h2.5v2.5h-2.5zM592.7 403.2h2.5v2.5h-2.5zM599.4 403.2h2.5v2.5h-2.5zM556.7 405.4h2.5v2.5h-2.5zM592.7 405.4h2.5v2.5h-2.5zM592.7 407.6h2.5v2.5h-2.5zM597.2 407.6h7.0v2.5h-7.0zM570.2 409.9h2.5v2.5h-2.5zM590.4 409.9h2.5v2.5h-2.5zM574.7 412.1h2.5v2.5h-2.5zM603.9 412.1h2.5v2.5h-2.5zM608.4 412.1h2.5v2.5h-2.5zM617.4 412.1h2.5v2.5h-2.5zM635.4 412.1h4.8v2.5h-4.8zM642.1 412.1h2.5v2.5h-2.5zM570.2 414.3h7.0v2.5h-7.0zM603.9 414.3h2.5v2.5h-2.5zM612.9 414.3h2.5v2.5h-2.5zM621.9 414.3h2.5v2.5h-2.5zM626.4 414.3h2.5v2.5h-2.5zM657.8 414.3h2.5v2.5h-2.5zM577.0 416.6h2.5v2.5h-2.5zM610.6 416.6h4.8v2.5h-4.8zM624.1 416.6h4.8v2.5h-4.8zM635.4 416.6h4.8v2.5h-4.8zM644.3 416.6h2.5v2.5h-2.5zM648.8 416.6h2.5v2.5h-2.5zM664.6 416.6h2.5v2.5h-2.5zM608.4 418.8h2.5v2.5h-2.5zM615.1 418.8h4.8v2.5h-4.8zM637.6 418.8h2.5v2.5h-2.5zM664.6 418.8h2.5v2.5h-2.5zM577.0 421.0h2.5v2.5h-2.5zM603.9 421.0h2.5v2.5h-2.5zM612.9 421.0h2.5v2.5h-2.5zM617.4 421.0h4.8v2.5h-4.8zM630.9 421.0h2.5v2.5h-2.5zM642.1 421.0h2.5v2.5h-2.5zM653.3 421.0h2.5v2.5h-2.5zM660.1 421.0h2.5v2.5h-2.5zM664.6 421.0h2.5v2.5h-2.5zM579.2 423.3h2.5v2.5h-2.5zM610.6 423.3h2.5v2.5h-2.5zM628.6 423.3h2.5v2.5h-2.5zM644.3 423.3h2.5v2.5h-2.5zM603.9 425.5h2.5v2.5h-2.5zM621.9 425.5h2.5v2.5h-2.5zM628.6 425.5h4.8v2.5h-4.8zM642.1 425.5h4.8v2.5h-4.8zM651.1 425.5h4.8v2.5h-4.8zM624.1 427.7h2.5v2.5h-2.5zM628.6 427.7h2.5v2.5h-2.5zM653.3 427.7h2.5v2.5h-2.5zM657.8 427.7h2.5v2.5h-2.5zM608.4 430.0h2.5v2.5h-2.5zM626.4 430.0h2.5v2.5h-2.5zM630.9 430.0h4.8v2.5h-4.8zM648.8 430.0h2.5v2.5h-2.5zM626.4 432.2h2.5v2.5h-2.5zM642.1 432.2h2.5v2.5h-2.5zM660.1 432.2h4.8v2.5h-4.8zM592.7 434.4h4.8v2.5h-4.8zM599.4 434.4h2.5v2.5h-2.5zM590.4 436.7h2.5v2.5h-2.5zM626.4 436.7h2.5v2.5h-2.5zM590.4 438.9h2.5v2.5h-2.5zM619.6 438.9h7.0v2.5h-7.0zM594.9 441.2h2.5v2.5h-2.5zM601.7 441.2h2.5v2.5h-2.5zM624.1 441.2h2.5v2.5h-2.5zM624.1 443.4h2.5v2.5h-2.5zM601.7 445.6h2.5v2.5h-2.5zM628.6 445.6h2.5v2.5h-2.5zM644.3 445.6h2.5v2.5h-2.5zM630.9 447.9h2.5v2.5h-2.5zM635.4 447.9h2.5v2.5h-2.5zM599.4 450.1h2.5v2.5h-2.5zM639.8 450.1h4.8v2.5h-4.8zM603.9 454.6h2.5v2.5h-2.5zM642.1 454.6h2.5v2.5h-2.5zM615.1 456.8h2.5v2.5h-2.5zM646.6 459.0h2.5v2.5h-2.5zM653.3 459.0h4.8v2.5h-4.8zM608.4 461.3h4.8v2.5h-4.8zM615.1 461.3h2.5v2.5h-2.5zM621.9 461.3h2.5v2.5h-2.5zM642.1 461.3h2.5v2.5h-2.5zM646.6 461.3h4.8v2.5h-4.8zM653.3 461.3h4.8v2.5h-4.8zM606.2 463.5h2.5v2.5h-2.5zM612.9 463.5h2.5v2.5h-2.5zM617.4 463.5h2.5v2.5h-2.5zM617.4 465.7h2.5v2.5h-2.5zM646.6 465.7h2.5v2.5h-2.5zM655.6 465.7h2.5v2.5h-2.5zM626.4 468.0h4.8v2.5h-4.8zM651.1 468.0h2.5v2.5h-2.5zM610.6 470.2h2.5v2.5h-2.5zM617.4 470.2h2.5v2.5h-2.5zM621.9 470.2h2.5v2.5h-2.5zM635.4 470.2h2.5v2.5h-2.5zM628.6 474.7h2.5v2.5h-2.5zM633.1 474.7h2.5v2.5h-2.5zM621.9 476.9h2.5v2.5h-2.5zM633.1 476.9h2.5v2.5h-2.5zM633.1 483.6h2.5v2.5h-2.5zM628.6 485.8h2.5v2.5h-2.5zM642.1 485.8h2.5v2.5h-2.5zM630.9 488.1h2.5v2.5h-2.5zM639.8 490.3h4.8v2.5h-4.8zM635.4 492.5h4.8v2.5h-4.8zM653.3 494.8h2.5v2.5h-2.5z" fill="#f0b1b3" shape-rendering="crispEdges"/>
<path d="M574.7 385.3h2.5v2.5h-2.5zM570.2 387.5h2.5v2.5h-2.5zM568.0 389.8h2.5v2.5h-2.5zM572.5 389.8h2.5v2.5h-2.5zM574.7 394.2h4.8v2.5h-4.8zM556.7 400.9h2.5v2.5h-2.5zM561.2 403.2h4.8v2.5h-4.8zM581.5 405.4h2.5v2.5h-2.5zM590.4 405.4h2.5v2.5h-2.5zM594.9 407.6h2.5v2.5h-2.5zM572.5 409.9h2.5v2.5h-2.5zM577.0 414.3h2.5v2.5h-2.5zM574.7 416.6h2.5v2.5h-2.5zM577.0 418.8h2.5v2.5h-2.5zM601.7 421.0h2.5v2.5h-2.5zM615.1 421.0h2.5v2.5h-2.5zM608.4 423.3h2.5v2.5h-2.5zM612.9 423.3h2.5v2.5h-2.5zM581.5 425.5h2.5v2.5h-2.5zM608.4 427.7h2.5v2.5h-2.5zM619.6 427.7h4.8v2.5h-4.8zM626.4 427.7h2.5v2.5h-2.5zM610.6 432.2h2.5v2.5h-2.5zM615.1 432.2h2.5v2.5h-2.5zM617.4 434.4h2.5v2.5h-2.5zM601.7 436.7h2.5v2.5h-2.5zM615.1 438.9h2.5v2.5h-2.5zM597.2 441.2h4.8v2.5h-4.8zM603.9 447.9h2.5v2.5h-2.5zM608.4 447.9h2.5v2.5h-2.5zM603.9 450.1h2.5v2.5h-2.5zM606.2 452.3h2.5v2.5h-2.5zM610.6 452.3h2.5v2.5h-2.5zM606.2 454.6h2.5v2.5h-2.5zM630.9 454.6h4.8v2.5h-4.8zM617.4 456.8h2.5v2.5h-2.5zM644.3 456.8h2.5v2.5h-2.5zM617.4 459.0h2.5v2.5h-2.5zM644.3 459.0h2.5v2.5h-2.5zM646.6 463.5h2.5v2.5h-2.5zM655.6 468.0h2.5v2.5h-2.5zM626.4 470.2h2.5v2.5h-2.5zM630.9 470.2h2.5v2.5h-2.5zM655.6 470.2h2.5v2.5h-2.5zM664.6 470.2h2.5v2.5h-2.5zM648.8 472.4h2.5v2.5h-2.5zM655.6 472.4h2.5v2.5h-2.5zM635.4 479.1h2.5v2.5h-2.5zM664.6 479.1h2.5v2.5h-2.5zM635.4 481.4h2.5v2.5h-2.5zM644.3 481.4h2.5v2.5h-2.5zM664.6 481.4h2.5v2.5h-2.5zM635.4 483.6h2.5v2.5h-2.5zM644.3 483.6h2.5v2.5h-2.5zM637.6 485.8h4.8v2.5h-4.8zM646.6 485.8h2.5v2.5h-2.5z" fill="#eea8a9" shape-rendering="crispEdges"/>
<path d="M579.2 385.3h2.5v2.5h-2.5zM568.0 387.5h2.5v2.5h-2.5zM579.2 392.0h2.5v2.5h-2.5zM572.5 394.2h2.5v2.5h-2.5zM574.7 398.7h2.5v2.5h-2.5zM561.2 400.9h4.8v2.5h-4.8zM581.5 400.9h2.5v2.5h-2.5zM554.5 403.2h4.8v2.5h-4.8zM585.9 403.2h2.5v2.5h-2.5zM563.5 407.6h2.5v2.5h-2.5zM585.9 407.6h2.5v2.5h-2.5zM592.7 409.9h2.5v2.5h-2.5zM577.0 412.1h2.5v2.5h-2.5zM594.9 412.1h2.5v2.5h-2.5zM603.9 418.8h2.5v2.5h-2.5zM606.2 421.0h2.5v2.5h-2.5zM583.7 425.5h2.5v2.5h-2.5zM601.7 425.5h2.5v2.5h-2.5zM610.6 425.5h2.5v2.5h-2.5zM606.2 427.7h2.5v2.5h-2.5zM583.7 430.0h2.5v2.5h-2.5zM597.2 438.9h4.8v2.5h-4.8zM603.9 443.4h2.5v2.5h-2.5zM608.4 443.4h2.5v2.5h-2.5zM610.6 445.6h2.5v2.5h-2.5zM606.2 450.1h2.5v2.5h-2.5zM612.9 452.3h4.8v2.5h-4.8zM637.6 454.6h2.5v2.5h-2.5zM637.6 456.8h2.5v2.5h-2.5zM642.1 459.0h2.5v2.5h-2.5zM617.4 461.3h2.5v2.5h-2.5zM624.1 461.3h2.5v2.5h-2.5zM626.4 465.7h2.5v2.5h-2.5zM646.6 468.0h2.5v2.5h-2.5zM628.6 472.4h2.5v2.5h-2.5zM637.6 474.7h2.5v2.5h-2.5zM637.6 476.9h2.5v2.5h-2.5zM642.1 476.9h2.5v2.5h-2.5zM651.1 476.9h2.5v2.5h-2.5zM655.6 481.4h2.5v2.5h-2.5zM646.6 483.6h2.5v2.5h-2.5zM662.3 483.6h2.5v2.5h-2.5zM644.3 485.8h2.5v2.5h-2.5zM660.1 485.8h2.5v2.5h-2.5zM637.6 488.1h2.5v2.5h-2.5zM651.1 488.1h2.5v2.5h-2.5zM646.6 494.8h2.5v2.5h-2.5zM651.1 494.8h2.5v2.5h-2.5z" fill="#ec9ea0" shape-rendering="crispEdges"/>
<path d="M570.2 385.3h2.5v2.5h-2.5zM554.5 392.0h2.5v2.5h-2.5zM556.7 396.5h2.5v2.5h-2.5zM565.7 403.2h2.5v2.5h-2.5zM554.5 405.4h2.5v2.5h-2.5zM561.2 405.4h2.5v2.5h-2.5zM585.9 405.4h2.5v2.5h-2.5zM554.5 407.6h2.5v2.5h-2.5zM581.5 407.6h2.5v2.5h-2.5zM554.5 409.9h2.5v2.5h-2.5zM599.4 412.1h2.5v2.5h-2.5zM581.5 416.6h2.5v2.5h-2.5zM594.9 416.6h2.5v2.5h-2.5zM599.4 416.6h2.5v2.5h-2.5zM594.9 418.8h2.5v2.5h-2.5zM601.7 423.3h2.5v2.5h-2.5zM581.5 427.7h2.5v2.5h-2.5zM590.4 427.7h2.5v2.5h-2.5zM583.7 432.2h2.5v2.5h-2.5zM590.4 432.2h2.5v2.5h-2.5zM608.4 432.2h2.5v2.5h-2.5zM599.4 436.7h2.5v2.5h-2.5zM606.2 443.4h2.5v2.5h-2.5zM608.4 445.6h2.5v2.5h-2.5zM621.9 445.6h2.5v2.5h-2.5zM626.4 447.9h2.5v2.5h-2.5zM630.9 450.1h2.5v2.5h-2.5zM612.9 454.6h4.8v2.5h-4.8zM639.8 459.0h2.5v2.5h-2.5zM642.1 463.5h2.5v2.5h-2.5zM633.1 468.0h2.5v2.5h-2.5zM628.6 470.2h2.5v2.5h-2.5zM662.3 470.2h2.5v2.5h-2.5zM660.1 472.4h2.5v2.5h-2.5zM639.8 476.9h2.5v2.5h-2.5zM657.8 476.9h2.5v2.5h-2.5zM637.6 479.1h2.5v2.5h-2.5zM657.8 479.1h2.5v2.5h-2.5zM660.1 481.4h2.5v2.5h-2.5zM651.1 485.8h2.5v2.5h-2.5zM662.3 485.8h2.5v2.5h-2.5zM639.8 488.1h2.5v2.5h-2.5zM662.3 488.1h2.5v2.5h-2.5zM644.3 490.3h2.5v2.5h-2.5zM646.6 492.5h2.5v2.5h-2.5zM639.8 494.8h2.5v2.5h-2.5z" fill="#ea9496" shape-rendering="crispEdges"/>
<path d="M565.7 385.3h4.8v2.5h-4.8zM563.5 387.5h2.5v2.5h-2.5zM556.7 394.2h2.5v2.5h-2.5zM570.2 394.2h2.5v2.5h-2.5zM559.0 396.5h4.8v2.5h-4.8zM570.2 396.5h2.5v2.5h-2.5zM556.7 407.6h2.5v2.5h-2.5zM561.2 407.6h2.5v2.5h-2.5zM568.0 409.9h2.5v2.5h-2.5zM592.7 412.1h2.5v2.5h-2.5zM597.2 414.3h2.5v2.5h-2.5zM597.2 416.6h2.5v2.5h-2.5zM601.7 416.6h2.5v2.5h-2.5zM583.7 418.8h2.5v2.5h-2.5zM592.7 418.8h2.5v2.5h-2.5zM603.9 423.3h2.5v2.5h-2.5zM585.9 425.5h2.5v2.5h-2.5zM606.2 425.5h2.5v2.5h-2.5zM592.7 430.0h2.5v2.5h-2.5zM612.9 434.4h2.5v2.5h-2.5zM621.9 443.4h2.5v2.5h-2.5zM624.1 445.6h2.5v2.5h-2.5zM624.1 447.9h2.5v2.5h-2.5zM633.1 450.1h4.8v2.5h-4.8zM630.9 456.8h2.5v2.5h-2.5zM637.6 459.0h2.5v2.5h-2.5zM619.6 461.3h2.5v2.5h-2.5zM621.9 463.5h2.5v2.5h-2.5zM639.8 463.5h2.5v2.5h-2.5zM624.1 465.7h2.5v2.5h-2.5zM639.8 465.7h2.5v2.5h-2.5zM644.3 465.7h2.5v2.5h-2.5zM660.1 468.0h2.5v2.5h-2.5zM651.1 470.2h2.5v2.5h-2.5zM660.1 470.2h2.5v2.5h-2.5zM635.4 472.4h2.5v2.5h-2.5zM653.3 472.4h2.5v2.5h-2.5zM662.3 474.7h4.8v2.5h-4.8zM660.1 476.9h2.5v2.5h-2.5zM639.8 479.1h2.5v2.5h-2.5zM655.6 479.1h2.5v2.5h-2.5zM639.8 481.4h2.5v2.5h-2.5zM646.6 481.4h2.5v2.5h-2.5zM651.1 490.3h2.5v2.5h-2.5zM648.8 492.5h4.8v2.5h-4.8z" fill="#e88a8c" shape-rendering="crispEdges"/>
<path d="M572.5 387.5h2.5v2.5h-2.5zM554.5 389.8h2.5v2.5h-2.5zM572.5 392.0h2.5v2.5h-2.5zM577.0 392.0h2.5v2.5h-2.5zM554.5 398.7h2.5v2.5h-2.5zM577.0 400.9h4.8v2.5h-4.8zM559.0 405.4h2.5v2.5h-2.5zM563.5 409.9h2.5v2.5h-2.5zM588.2 409.9h2.5v2.5h-2.5zM599.4 414.3h2.5v2.5h-2.5zM588.2 425.5h2.5v2.5h-2.5zM583.7 427.7h2.5v2.5h-2.5zM603.9 427.7h2.5v2.5h-2.5zM606.2 430.0h2.5v2.5h-2.5zM594.9 432.2h2.5v2.5h-2.5zM615.1 434.4h2.5v2.5h-2.5zM617.4 438.9h2.5v2.5h-2.5zM603.9 441.2h2.5v2.5h-2.5zM619.6 441.2h2.5v2.5h-2.5zM619.6 443.4h2.5v2.5h-2.5zM619.6 445.6h2.5v2.5h-2.5zM628.6 450.1h2.5v2.5h-2.5zM628.6 452.3h2.5v2.5h-2.5zM635.4 452.3h2.5v2.5h-2.5zM624.1 459.0h2.5v2.5h-2.5zM633.1 459.0h2.5v2.5h-2.5zM626.4 461.3h2.5v2.5h-2.5zM635.4 461.3h7.0v2.5h-7.0zM644.3 468.0h2.5v2.5h-2.5zM637.6 472.4h2.5v2.5h-2.5zM664.6 472.4h2.5v2.5h-2.5zM651.1 474.7h2.5v2.5h-2.5zM655.6 476.9h2.5v2.5h-2.5zM642.1 479.1h2.5v2.5h-2.5zM642.1 483.6h2.5v2.5h-2.5zM655.6 490.3h2.5v2.5h-2.5zM653.3 492.5h4.8v2.5h-4.8zM642.1 494.8h2.5v2.5h-2.5zM655.6 494.8h2.5v2.5h-2.5z" fill="#e78183" shape-rendering="crispEdges"/>
<path d="M559.0 385.3h2.5v2.5h-2.5zM565.7 387.5h2.5v2.5h-2.5zM579.2 387.5h2.5v2.5h-2.5zM565.7 389.8h2.5v2.5h-2.5zM570.2 389.8h2.5v2.5h-2.5zM554.5 394.2h2.5v2.5h-2.5zM579.2 396.5h2.5v2.5h-2.5zM559.0 400.9h2.5v2.5h-2.5zM565.7 400.9h2.5v2.5h-2.5zM568.0 403.2h2.5v2.5h-2.5zM563.5 405.4h2.5v2.5h-2.5zM559.0 407.6h2.5v2.5h-2.5zM583.7 407.6h2.5v2.5h-2.5zM559.0 409.9h2.5v2.5h-2.5zM597.2 412.1h2.5v2.5h-2.5zM579.2 416.6h2.5v2.5h-2.5zM585.9 427.7h2.5v2.5h-2.5zM588.2 430.0h2.5v2.5h-2.5zM585.9 432.2h4.8v2.5h-4.8zM592.7 432.2h2.5v2.5h-2.5zM597.2 434.4h2.5v2.5h-2.5zM610.6 434.4h2.5v2.5h-2.5zM612.9 436.7h2.5v2.5h-2.5zM617.4 436.7h2.5v2.5h-2.5zM606.2 441.2h2.5v2.5h-2.5zM606.2 445.6h2.5v2.5h-2.5zM606.2 447.9h2.5v2.5h-2.5zM612.9 447.9h2.5v2.5h-2.5zM621.9 447.9h2.5v2.5h-2.5zM626.4 450.1h2.5v2.5h-2.5zM633.1 452.3h2.5v2.5h-2.5zM617.4 454.6h2.5v2.5h-2.5zM635.4 459.0h2.5v2.5h-2.5zM619.6 463.5h2.5v2.5h-2.5zM642.1 465.7h2.5v2.5h-2.5zM653.3 468.0h2.5v2.5h-2.5zM664.6 468.0h2.5v2.5h-2.5zM633.1 470.2h2.5v2.5h-2.5zM646.6 470.2h2.5v2.5h-2.5zM651.1 472.4h2.5v2.5h-2.5zM653.3 476.9h2.5v2.5h-2.5zM662.3 476.9h2.5v2.5h-2.5zM639.8 492.5h4.8v2.5h-4.8zM644.3 494.8h2.5v2.5h-2.5z" fill="#e57779" shape-rendering="crispEdges"/>
<path d="M577.0 385.3h2.5v2.5h-2.5zM577.0 387.5h2.5v2.5h-2.5zM559.0 394.2h2.5v2.5h-2.5zM568.0 394.2h2.5v2.5h-2.5zM579.2 394.2h2.5v2.5h-2.5zM554.5 396.5h2.5v2.5h-2.5zM579.2 398.7h2.5v2.5h-2.5zM574.7 400.9h2.5v2.5h-2.5zM565.7 405.4h2.5v2.5h-2.5zM565.7 409.9h2.5v2.5h-2.5zM583.7 409.9h4.8v2.5h-4.8zM592.7 414.3h4.8v2.5h-4.8zM583.7 421.0h4.8v2.5h-4.8zM594.9 421.0h2.5v2.5h-2.5zM583.7 423.3h2.5v2.5h-2.5zM581.5 430.0h2.5v2.5h-2.5zM585.9 430.0h2.5v2.5h-2.5zM581.5 432.2h2.5v2.5h-2.5zM601.7 438.9h2.5v2.5h-2.5zM603.9 445.6h2.5v2.5h-2.5zM612.9 450.1h2.5v2.5h-2.5zM630.9 452.3h2.5v2.5h-2.5zM635.4 454.6h2.5v2.5h-2.5zM624.1 463.5h2.5v2.5h-2.5zM630.9 468.0h2.5v2.5h-2.5zM642.1 468.0h2.5v2.5h-2.5zM657.8 468.0h2.5v2.5h-2.5zM653.3 470.2h2.5v2.5h-2.5zM657.8 474.7h4.8v2.5h-4.8zM664.6 476.9h2.5v2.5h-2.5zM637.6 481.4h2.5v2.5h-2.5zM642.1 481.4h2.5v2.5h-2.5zM662.3 481.4h2.5v2.5h-2.5zM639.8 483.6h2.5v2.5h-2.5zM648.8 485.8h2.5v2.5h-2.5zM644.3 488.1h2.5v2.5h-2.5zM653.3 488.1h2.5v2.5h-2.5zM648.8 490.3h2.5v2.5h-2.5zM648.8 494.8h2.5v2.5h-2.5z" fill="#e36d70" shape-rendering="crispEdges"/>
<path d="M570.2 392.0h2.5v2.5h-2.5zM574.7 392.0h2.5v2.5h-2.5zM556.7 398.7h2.5v2.5h-2.5zM563.5 398.7h2.5v2.5h-2.5zM572.5 398.7h2.5v2.5h-2.5zM577.0 403.2h2.5v2.5h-2.5zM565.7 407.6h2.5v2.5h-2.5zM579.2 412.1h2.5v2.5h-2.5zM601.7 414.3h2.5v2.5h-2.5zM597.2 423.3h2.5v2.5h-2.5zM606.2 432.2h2.5v2.5h-2.5zM601.7 434.4h2.5v2.5h-2.5zM615.1 436.7h2.5v2.5h-2.5zM617.4 452.3h2.5v2.5h-2.5zM619.6 456.8h2.5v2.5h-2.5zM619.6 459.0h2.5v2.5h-2.5zM619.6 465.7h2.5v2.5h-2.5zM648.8 468.0h2.5v2.5h-2.5zM639.8 474.7h2.5v2.5h-2.5zM648.8 474.7h2.5v2.5h-2.5zM660.1 479.1h4.8v2.5h-4.8zM648.8 483.6h2.5v2.5h-2.5zM657.8 483.6h2.5v2.5h-2.5zM646.6 488.1h2.5v2.5h-2.5zM664.6 488.1h2.5v2.5h-2.5zM646.6 490.3h2.5v2.5h-2.5zM653.3 490.3h2.5v2.5h-2.5zM660.1 494.8h2.5v2.5h-2.5z" fill="#e16466" shape-rendering="crispEdges"/>
<path d="M561.2 385.3h2.5v2.5h-2.5zM577.0 389.8h2.5v2.5h-2.5zM556.7 392.0h2.5v2.5h-2.5zM577.0 396.5h2.5v2.5h-2.5zM570.2 407.6h2.5v2.5h-2.5zM574.7 409.9h2.5v2.5h-2.5zM581.5 409.9h2.5v2.5h-2.5zM579.2 414.3h2.5v2.5h-2.5zM599.4 423.3h2.5v2.5h-2.5zM603.9 430.0h2.5v2.5h-2.5zM603.9 432.2h2.5v2.5h-2.5zM617.4 441.2h2.5v2.5h-2.5zM619.6 447.9h2.5v2.5h-2.5zM617.4 450.1h2.5v2.5h-2.5zM626.4 452.3h2.5v2.5h-2.5zM635.4 456.8h2.5v2.5h-2.5zM628.6 463.5h2.5v2.5h-2.5zM621.9 465.7h2.5v2.5h-2.5zM637.6 465.7h2.5v2.5h-2.5zM635.4 468.0h2.5v2.5h-2.5zM653.3 474.7h2.5v2.5h-2.5zM644.3 479.1h2.5v2.5h-2.5zM664.6 483.6h2.5v2.5h-2.5zM664.6 485.8h2.5v2.5h-2.5zM657.8 492.5h2.5v2.5h-2.5z" fill="#df5a5d" shape-rendering="crispEdges"/>
<path d="M554.5 387.5h2.5v2.5h-2.5zM556.7 389.8h2.5v2.5h-2.5zM559.0 392.0h2.5v2.5h-2.5zM565.7 392.0h2.5v2.5h-2.5zM561.2 394.2h2.5v2.5h-2.5zM563.5 396.5h2.5v2.5h-2.5zM561.2 398.7h2.5v2.5h-2.5zM565.7 398.7h2.5v2.5h-2.5zM568.0 400.9h2.5v2.5h-2.5zM570.2 403.2h2.5v2.5h-2.5zM579.2 403.2h2.5v2.5h-2.5zM570.2 405.4h4.8v2.5h-4.8zM579.2 405.4h2.5v2.5h-2.5zM568.0 407.6h2.5v2.5h-2.5zM574.7 407.6h2.5v2.5h-2.5zM577.0 409.9h2.5v2.5h-2.5zM581.5 421.0h2.5v2.5h-2.5zM599.4 421.0h2.5v2.5h-2.5zM581.5 423.3h2.5v2.5h-2.5zM588.2 423.3h2.5v2.5h-2.5zM590.4 425.5h2.5v2.5h-2.5zM590.4 430.0h2.5v2.5h-2.5zM594.9 430.0h2.5v2.5h-2.5zM606.2 434.4h2.5v2.5h-2.5zM603.9 436.7h2.5v2.5h-2.5zM608.4 436.7h2.5v2.5h-2.5zM606.2 438.9h2.5v2.5h-2.5zM610.6 438.9h2.5v2.5h-2.5zM608.4 441.2h2.5v2.5h-2.5zM612.9 441.2h2.5v2.5h-2.5zM610.6 443.4h2.5v2.5h-2.5zM615.1 443.4h2.5v2.5h-2.5zM612.9 445.6h2.5v2.5h-2.5zM617.4 445.6h2.5v2.5h-2.5zM615.1 447.9h2.5v2.5h-2.5zM615.1 450.1h2.5v2.5h-2.5zM621.9 450.1h2.5v2.5h-2.5zM619.6 452.3h2.5v2.5h-2.5zM624.1 452.3h2.5v2.5h-2.5zM621.9 454.6h2.5v2.5h-2.5zM626.4 454.6h2.5v2.5h-2.5zM624.1 456.8h2.5v2.5h-2.5zM628.6 456.8h2.5v2.5h-2.5zM633.1 456.8h2.5v2.5h-2.5zM626.4 459.0h2.5v2.5h-2.5zM630.9 459.0h2.5v2.5h-2.5zM628.6 461.3h2.5v2.5h-2.5zM633.1 461.3h2.5v2.5h-2.5zM626.4 463.5h2.5v2.5h-2.5zM630.9 463.5h2.5v2.5h-2.5zM635.4 463.5h2.5v2.5h-2.5zM633.1 465.7h2.5v2.5h-2.5zM639.8 468.0h2.5v2.5h-2.5zM637.6 470.2h2.5v2.5h-2.5zM642.1 470.2h2.5v2.5h-2.5zM648.8 470.2h2.5v2.5h-2.5zM639.8 472.4h2.5v2.5h-2.5zM644.3 472.4h4.8v2.5h-4.8zM642.1 474.7h2.5v2.5h-2.5zM646.6 474.7h2.5v2.5h-2.5zM655.6 474.7h2.5v2.5h-2.5zM644.3 476.9h2.5v2.5h-2.5zM648.8 476.9h2.5v2.5h-2.5zM646.6 479.1h2.5v2.5h-2.5zM651.1 479.1h2.5v2.5h-2.5zM648.8 481.4h2.5v2.5h-2.5zM653.3 481.4h2.5v2.5h-2.5zM651.1 483.6h2.5v2.5h-2.5zM655.6 483.6h2.5v2.5h-2.5zM653.3 485.8h2.5v2.5h-2.5zM657.8 485.8h2.5v2.5h-2.5zM648.8 488.1h2.5v2.5h-2.5zM655.6 488.1h2.5v2.5h-2.5zM660.1 488.1h2.5v2.5h-2.5zM657.8 490.3h2.5v2.5h-2.5zM662.3 490.3h2.5v2.5h-2.5zM660.1 492.5h2.5v2.5h-2.5zM664.6 492.5h2.5v2.5h-2.5zM662.3 494.8h2.5v2.5h-2.5z" fill="#dd5053" shape-rendering="crispEdges"/>
<path d="M556.7 385.3h2.5v2.5h-2.5zM559.0 387.5h2.5v2.5h-2.5zM561.2 389.8h2.5v2.5h-2.5zM563.5 392.0h2.5v2.5h-2.5zM565.7 394.2h2.5v2.5h-2.5zM568.0 396.5h2.5v2.5h-2.5zM570.2 398.7h2.5v2.5h-2.5zM572.5 400.9h2.5v2.5h-2.5zM574.7 403.2h2.5v2.5h-2.5zM568.0 405.4h2.5v2.5h-2.5zM577.0 405.4h2.5v2.5h-2.5zM579.2 407.6h2.5v2.5h-2.5zM583.7 412.1h2.5v2.5h-2.5zM590.4 412.1h2.5v2.5h-2.5zM601.7 412.1h2.5v2.5h-2.5zM581.5 414.3h2.5v2.5h-2.5zM585.9 414.3h2.5v2.5h-2.5zM583.7 416.6h2.5v2.5h-2.5zM588.2 416.6h2.5v2.5h-2.5zM585.9 418.8h2.5v2.5h-2.5zM590.4 418.8h2.5v2.5h-2.5zM588.2 421.0h2.5v2.5h-2.5zM592.7 421.0h2.5v2.5h-2.5zM590.4 423.3h2.5v2.5h-2.5zM594.9 423.3h2.5v2.5h-2.5zM592.7 425.5h2.5v2.5h-2.5zM597.2 425.5h2.5v2.5h-2.5zM592.7 427.7h4.8v2.5h-4.8zM599.4 427.7h2.5v2.5h-2.5zM597.2 430.0h2.5v2.5h-2.5zM601.7 430.0h2.5v2.5h-2.5zM599.4 432.2h2.5v2.5h-2.5zM615.1 441.2h2.5v2.5h-2.5zM610.6 447.9h2.5v2.5h-2.5zM619.6 454.6h2.5v2.5h-2.5zM628.6 454.6h2.5v2.5h-2.5zM621.9 456.8h2.5v2.5h-2.5zM621.9 459.0h2.5v2.5h-2.5zM637.6 463.5h2.5v2.5h-2.5zM630.9 465.7h2.5v2.5h-2.5zM657.8 481.4h2.5v2.5h-2.5zM660.1 483.6h2.5v2.5h-2.5zM664.6 490.3h2.5v2.5h-2.5zM657.8 494.8h2.5v2.5h-2.5z" fill="#db474a" shape-rendering="crispEdges"/>
<path d="M563.5 385.3h2.5v2.5h-2.5zM568.0 392.0h2.5v2.5h-2.5zM572.5 396.5h4.8v2.5h-4.8zM577.0 398.7h2.5v2.5h-2.5zM572.5 407.6h2.5v2.5h-2.5zM588.2 412.1h2.5v2.5h-2.5zM590.4 414.3h2.5v2.5h-2.5zM597.2 418.8h7.0v2.5h-7.0zM585.9 423.3h2.5v2.5h-2.5zM588.2 427.7h2.5v2.5h-2.5zM628.6 465.7h2.5v2.5h-2.5zM653.3 479.1h2.5v2.5h-2.5z" fill="#da3d40" shape-rendering="crispEdges"/>
<path d="M554.5 385.3h2.5v2.5h-2.5zM556.7 387.5h2.5v2.5h-2.5zM559.0 389.8h2.5v2.5h-2.5zM563.5 389.8h2.5v2.5h-2.5zM561.2 392.0h2.5v2.5h-2.5zM563.5 394.2h2.5v2.5h-2.5zM565.7 396.5h2.5v2.5h-2.5zM568.0 398.7h2.5v2.5h-2.5zM570.2 400.9h2.5v2.5h-2.5zM572.5 403.2h2.5v2.5h-2.5zM574.7 405.4h2.5v2.5h-2.5zM577.0 407.6h2.5v2.5h-2.5zM579.2 409.9h2.5v2.5h-2.5zM581.5 412.1h2.5v2.5h-2.5zM583.7 414.3h2.5v2.5h-2.5zM588.2 414.3h2.5v2.5h-2.5zM585.9 416.6h2.5v2.5h-2.5zM588.2 418.8h2.5v2.5h-2.5zM590.4 421.0h2.5v2.5h-2.5zM597.2 421.0h2.5v2.5h-2.5zM592.7 423.3h2.5v2.5h-2.5zM594.9 425.5h2.5v2.5h-2.5zM597.2 427.7h2.5v2.5h-2.5zM599.4 430.0h2.5v2.5h-2.5zM601.7 432.2h2.5v2.5h-2.5zM603.9 434.4h2.5v2.5h-2.5zM606.2 436.7h2.5v2.5h-2.5zM603.9 438.9h2.5v2.5h-2.5zM608.4 438.9h2.5v2.5h-2.5zM610.6 441.2h2.5v2.5h-2.5zM612.9 443.4h2.5v2.5h-2.5zM617.4 443.4h2.5v2.5h-2.5zM615.1 445.6h2.5v2.5h-2.5zM617.4 447.9h2.5v2.5h-2.5zM619.6 450.1h2.5v2.5h-2.5zM621.9 452.3h2.5v2.5h-2.5zM624.1 454.6h2.5v2.5h-2.5zM626.4 456.8h2.5v2.5h-2.5zM628.6 459.0h2.5v2.5h-2.5zM630.9 461.3h2.5v2.5h-2.5zM633.1 463.5h2.5v2.5h-2.5zM635.4 465.7h2.5v2.5h-2.5zM637.6 468.0h2.5v2.5h-2.5zM639.8 470.2h2.5v2.5h-2.5zM642.1 472.4h2.5v2.5h-2.5zM644.3 474.7h2.5v2.5h-2.5zM646.6 476.9h2.5v2.5h-2.5zM648.8 479.1h2.5v2.5h-2.5zM651.1 481.4h2.5v2.5h-2.5zM653.3 483.6h2.5v2.5h-2.5zM655.6 485.8h2.5v2.5h-2.5zM657.8 488.1h2.5v2.5h-2.5zM660.1 490.3h2.5v2.5h-2.5zM662.3 492.5h2.5v2.5h-2.5zM664.6 494.8h2.5v2.5h-2.5z" fill="#d83337" shape-rendering="crispEdges"/>
<path d="M561.2 387.5h2.5v2.5h-2.5zM585.9 412.1h2.5v2.5h-2.5zM590.4 416.6h4.8v2.5h-4.8zM581.5 418.8h2.5v2.5h-2.5zM608.4 434.4h2.5v2.5h-2.5zM610.6 436.7h2.5v2.5h-2.5zM612.9 438.9h2.5v2.5h-2.5zM624.1 450.1h2.5v2.5h-2.5zM644.3 470.2h2.5v2.5h-2.5z" fill="#d6292d" shape-rendering="crispEdges"/>
<path d="M597.2 432.2h2.5v2.5h-2.5z" fill="#d42024" shape-rendering="crispEdges"/>
<path d="M599.4 425.5h2.5v2.5h-2.5zM601.7 427.7h2.5v2.5h-2.5z" fill="#d2161a" shape-rendering="crispEdges"/>
<text x="554.20" y="381.90" font-size="9.4" text-anchor="start" fill="#231f20" >chr2:57-65 Mb</text>
<rect x="554.50" y="385.30" width="112.30" height="111.70" fill="none" stroke="#2a2a2a" stroke-width="0.9"/>
<text x="550.30" y="388.85" font-size="8.2" text-anchor="end" fill="#231f20" >0</text>
<text x="550.30" y="401.55" font-size="8.2" text-anchor="end" fill="#231f20" >1</text>
<text x="550.30" y="415.85" font-size="8.2" text-anchor="end" fill="#231f20" >2</text>
<text x="550.30" y="429.75" font-size="8.2" text-anchor="end" fill="#231f20" >3</text>
<text x="550.30" y="444.05" font-size="8.2" text-anchor="end" fill="#231f20" >4</text>
<text x="550.30" y="458.45" font-size="8.2" text-anchor="end" fill="#231f20" >5</text>
<text x="550.30" y="472.15" font-size="8.2" text-anchor="end" fill="#231f20" >6</text>
<text x="550.30" y="486.45" font-size="8.2" text-anchor="end" fill="#231f20" >7</text>
<text x="550.30" y="498.85" font-size="8.2" text-anchor="end" fill="#231f20" >8</text>
<line x1="552.30" y1="385.50" x2="554.50" y2="385.50" stroke="#2a2a2a" stroke-width="0.8" />
<line x1="552.30" y1="398.60" x2="554.50" y2="398.60" stroke="#2a2a2a" stroke-width="0.8" />
<line x1="552.30" y1="412.90" x2="554.50" y2="412.90" stroke="#2a2a2a" stroke-width="0.8" />
<line x1="552.30" y1="426.80" x2="554.50" y2="426.80" stroke="#2a2a2a" stroke-width="0.8" />
<line x1="552.30" y1="441.10" x2="554.50" y2="441.10" stroke="#2a2a2a" stroke-width="0.8" />
<line x1="552.30" y1="455.50" x2="554.50" y2="455.50" stroke="#2a2a2a" stroke-width="0.8" />
<line x1="552.30" y1="469.20" x2="554.50" y2="469.20" stroke="#2a2a2a" stroke-width="0.8" />
<line x1="552.30" y1="483.50" x2="554.50" y2="483.50" stroke="#2a2a2a" stroke-width="0.8" />
<line x1="552.30" y1="496.60" x2="554.50" y2="496.60" stroke="#2a2a2a" stroke-width="0.8" />
<text x="555.80" y="506.55" font-size="8.2" text-anchor="middle" fill="#231f20" >0</text>
<text x="569.10" y="506.55" font-size="8.2" text-anchor="middle" fill="#231f20" >1</text>
<text x="582.80" y="506.55" font-size="8.2" text-anchor="middle" fill="#231f20" >2</text>
<text x="596.50" y="506.55" font-size="8.2" text-anchor="middle" fill="#231f20" >3</text>
<text x="610.40" y="506.55" font-size="8.2" text-anchor="middle" fill="#231f20" >4</text>
<text x="624.70" y="506.55" font-size="8.2" text-anchor="middle" fill="#231f20" >5</text>
<text x="638.40" y="506.55" font-size="8.2" text-anchor="middle" fill="#231f20" >6</text>
<text x="652.30" y="506.55" font-size="8.2" text-anchor="middle" fill="#231f20" >7</text>
<text x="666.00" y="506.55" font-size="8.2" text-anchor="middle" fill="#231f20" >8</text>
<line x1="555.00" y1="497.00" x2="555.00" y2="499.20" stroke="#2a2a2a" stroke-width="0.8" />
<line x1="568.80" y1="497.00" x2="568.80" y2="499.20" stroke="#2a2a2a" stroke-width="0.8" />
<line x1="582.60" y1="497.00" x2="582.60" y2="499.20" stroke="#2a2a2a" stroke-width="0.8" />
<line x1="596.40" y1="497.00" x2="596.40" y2="499.20" stroke="#2a2a2a" stroke-width="0.8" />
<line x1="610.20" y1="497.00" x2="610.20" y2="499.20" stroke="#2a2a2a" stroke-width="0.8" />
<line x1="624.00" y1="497.00" x2="624.00" y2="499.20" stroke="#2a2a2a" stroke-width="0.8" />
<line x1="637.80" y1="497.00" x2="637.80" y2="499.20" stroke="#2a2a2a" stroke-width="0.8" />
<line x1="651.60" y1="497.00" x2="651.60" y2="499.20" stroke="#2a2a2a" stroke-width="0.8" />
<line x1="665.40" y1="497.00" x2="665.40" y2="499.20" stroke="#2a2a2a" stroke-width="0.8" />
<text x="676.00" y="506.55" font-size="8.2" text-anchor="middle" fill="#231f20" >Mb</text>
<text x="619.60" y="396.70" font-size="8.1" text-anchor="start" fill="#231f20" >female MCR</text>
<text x="558.90" y="490.60" font-size="8.0" text-anchor="start" fill="#231f20" >MRE</text>
<line x1="554.50" y1="385.30" x2="666.80" y2="497.00" stroke="#141414" stroke-width="1.05" />
<rect x="304.4" y="436.3" width="8.2" height="8.0" fill="none" stroke="#111" stroke-width="0.9"/>
<circle cx="457.8" cy="441.6" r="4.3" fill="none" stroke="#111" stroke-width="0.9"/>
<path d="M612,436.4 L607.2,445.2 L617,445.2 Z" fill="none" stroke="#111" stroke-width="0.9"/>
</svg></body></html>
